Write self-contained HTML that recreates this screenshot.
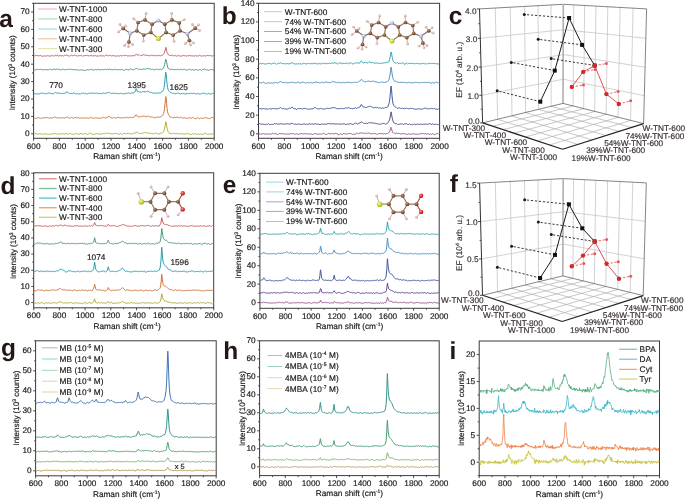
<!DOCTYPE html>
<html><head><meta charset="utf-8"><style>
html,body{margin:0;padding:0;background:#fff;}
svg{display:block;}
#w{will-change:transform;width:685px;height:499px;overflow:hidden;}
</style></head><body><div id="w">
<svg width="685" height="499" viewBox="0 0 685 499" font-family='"Liberation Sans", sans-serif' text-rendering="geometricPrecision">
<rect width="685" height="499" fill="#fff"/>
<defs>
<radialGradient id="gC" cx="0.38" cy="0.35" r="0.7"><stop offset="0" stop-color="#c29a7c"/><stop offset="0.55" stop-color="#83573a"/><stop offset="1" stop-color="#5a3620"/></radialGradient>
<radialGradient id="gH" cx="0.38" cy="0.35" r="0.7"><stop offset="0" stop-color="#f6e4e4"/><stop offset="0.6" stop-color="#d8acac"/><stop offset="1" stop-color="#b08080"/></radialGradient>
<radialGradient id="gN" cx="0.38" cy="0.35" r="0.7"><stop offset="0" stop-color="#eef0fa"/><stop offset="0.6" stop-color="#a8b4d8"/><stop offset="1" stop-color="#7080b0"/></radialGradient>
<radialGradient id="gS" cx="0.38" cy="0.35" r="0.7"><stop offset="0" stop-color="#f2f8a0"/><stop offset="0.6" stop-color="#c8d43a"/><stop offset="1" stop-color="#98a818"/></radialGradient>
<radialGradient id="gO" cx="0.38" cy="0.35" r="0.7"><stop offset="0" stop-color="#ff9a9a"/><stop offset="0.6" stop-color="#dc2424"/><stop offset="1" stop-color="#a01010"/></radialGradient>
<radialGradient id="gR" cx="0.38" cy="0.35" r="0.7"><stop offset="0" stop-color="#f08080"/><stop offset="0.6" stop-color="#d42828"/><stop offset="1" stop-color="#a01818"/></radialGradient>
</defs>
<rect x="33.6" y="3.3" width="180.6" height="135" fill="none" stroke="#3a3a3a" stroke-width="1"/>
<line x1="33.6" y1="138.3" x2="33.6" y2="140.8" stroke="#3a3a3a" stroke-width="0.9" />
<text x="33.6" y="148.9" font-size="8.25" text-anchor="middle" fill="#1e1a1a" font-weight="normal" stroke="#1e1a1a" stroke-width="0.18" >600</text>
<line x1="46.5" y1="138.3" x2="46.5" y2="139.8" stroke="#3a3a3a" stroke-width="0.9" />
<line x1="59.4" y1="138.3" x2="59.4" y2="140.8" stroke="#3a3a3a" stroke-width="0.9" />
<text x="59.4" y="148.9" font-size="8.25" text-anchor="middle" fill="#1e1a1a" font-weight="normal" stroke="#1e1a1a" stroke-width="0.18" >800</text>
<line x1="72.3" y1="138.3" x2="72.3" y2="139.8" stroke="#3a3a3a" stroke-width="0.9" />
<line x1="85.2" y1="138.3" x2="85.2" y2="140.8" stroke="#3a3a3a" stroke-width="0.9" />
<text x="85.2" y="148.9" font-size="8.25" text-anchor="middle" fill="#1e1a1a" font-weight="normal" stroke="#1e1a1a" stroke-width="0.18" >1000</text>
<line x1="98.1" y1="138.3" x2="98.1" y2="139.8" stroke="#3a3a3a" stroke-width="0.9" />
<line x1="111" y1="138.3" x2="111" y2="140.8" stroke="#3a3a3a" stroke-width="0.9" />
<text x="111" y="148.9" font-size="8.25" text-anchor="middle" fill="#1e1a1a" font-weight="normal" stroke="#1e1a1a" stroke-width="0.18" >1200</text>
<line x1="123.9" y1="138.3" x2="123.9" y2="139.8" stroke="#3a3a3a" stroke-width="0.9" />
<line x1="136.8" y1="138.3" x2="136.8" y2="140.8" stroke="#3a3a3a" stroke-width="0.9" />
<text x="136.8" y="148.9" font-size="8.25" text-anchor="middle" fill="#1e1a1a" font-weight="normal" stroke="#1e1a1a" stroke-width="0.18" >1400</text>
<line x1="149.7" y1="138.3" x2="149.7" y2="139.8" stroke="#3a3a3a" stroke-width="0.9" />
<line x1="162.6" y1="138.3" x2="162.6" y2="140.8" stroke="#3a3a3a" stroke-width="0.9" />
<text x="162.6" y="148.9" font-size="8.25" text-anchor="middle" fill="#1e1a1a" font-weight="normal" stroke="#1e1a1a" stroke-width="0.18" >1600</text>
<line x1="175.5" y1="138.3" x2="175.5" y2="139.8" stroke="#3a3a3a" stroke-width="0.9" />
<line x1="188.4" y1="138.3" x2="188.4" y2="140.8" stroke="#3a3a3a" stroke-width="0.9" />
<text x="188.4" y="148.9" font-size="8.25" text-anchor="middle" fill="#1e1a1a" font-weight="normal" stroke="#1e1a1a" stroke-width="0.18" >1800</text>
<line x1="201.3" y1="138.3" x2="201.3" y2="139.8" stroke="#3a3a3a" stroke-width="0.9" />
<line x1="214.2" y1="138.3" x2="214.2" y2="140.8" stroke="#3a3a3a" stroke-width="0.9" />
<text x="214.2" y="148.9" font-size="8.25" text-anchor="middle" fill="#1e1a1a" font-weight="normal" stroke="#1e1a1a" stroke-width="0.18" >2000</text>
<line x1="32.1" y1="125.1" x2="33.6" y2="125.1" stroke="#3a3a3a" stroke-width="0.9" />
<line x1="32.1" y1="107.7" x2="33.6" y2="107.7" stroke="#3a3a3a" stroke-width="0.9" />
<line x1="32.1" y1="90.3" x2="33.6" y2="90.3" stroke="#3a3a3a" stroke-width="0.9" />
<line x1="32.1" y1="72.9" x2="33.6" y2="72.9" stroke="#3a3a3a" stroke-width="0.9" />
<line x1="32.1" y1="55.5" x2="33.6" y2="55.5" stroke="#3a3a3a" stroke-width="0.9" />
<line x1="32.1" y1="38.1" x2="33.6" y2="38.1" stroke="#3a3a3a" stroke-width="0.9" />
<line x1="32.1" y1="20.7" x2="33.6" y2="20.7" stroke="#3a3a3a" stroke-width="0.9" />
<line x1="32.1" y1="3.3" x2="33.6" y2="3.3" stroke="#3a3a3a" stroke-width="0.9" />
<line x1="31.1" y1="133.8" x2="33.6" y2="133.8" stroke="#3a3a3a" stroke-width="0.9" />
<text x="29.6" y="136.2" font-size="8.25" text-anchor="end" fill="#1e1a1a" font-weight="normal" stroke="#1e1a1a" stroke-width="0.18" >0</text>
<line x1="31.1" y1="116.4" x2="33.6" y2="116.4" stroke="#3a3a3a" stroke-width="0.9" />
<text x="29.6" y="118.8" font-size="8.25" text-anchor="end" fill="#1e1a1a" font-weight="normal" stroke="#1e1a1a" stroke-width="0.18" >10</text>
<line x1="31.1" y1="99" x2="33.6" y2="99" stroke="#3a3a3a" stroke-width="0.9" />
<text x="29.6" y="101.4" font-size="8.25" text-anchor="end" fill="#1e1a1a" font-weight="normal" stroke="#1e1a1a" stroke-width="0.18" >20</text>
<line x1="31.1" y1="81.6" x2="33.6" y2="81.6" stroke="#3a3a3a" stroke-width="0.9" />
<text x="29.6" y="84" font-size="8.25" text-anchor="end" fill="#1e1a1a" font-weight="normal" stroke="#1e1a1a" stroke-width="0.18" >30</text>
<line x1="31.1" y1="64.2" x2="33.6" y2="64.2" stroke="#3a3a3a" stroke-width="0.9" />
<text x="29.6" y="66.6" font-size="8.25" text-anchor="end" fill="#1e1a1a" font-weight="normal" stroke="#1e1a1a" stroke-width="0.18" >40</text>
<line x1="31.1" y1="46.8" x2="33.6" y2="46.8" stroke="#3a3a3a" stroke-width="0.9" />
<text x="29.6" y="49.2" font-size="8.25" text-anchor="end" fill="#1e1a1a" font-weight="normal" stroke="#1e1a1a" stroke-width="0.18" >50</text>
<line x1="31.1" y1="29.4" x2="33.6" y2="29.4" stroke="#3a3a3a" stroke-width="0.9" />
<text x="29.6" y="31.8" font-size="8.25" text-anchor="end" fill="#1e1a1a" font-weight="normal" stroke="#1e1a1a" stroke-width="0.18" >60</text>
<line x1="31.1" y1="12" x2="33.6" y2="12" stroke="#3a3a3a" stroke-width="0.9" />
<text x="29.6" y="14.4" font-size="8.25" text-anchor="end" fill="#1e1a1a" font-weight="normal" stroke="#1e1a1a" stroke-width="0.18" >70</text>
<text x="126.8" y="159.1" font-size="8.25" text-anchor="middle" fill="#1e1a1a" stroke="#1e1a1a" stroke-width="0.18">Raman shift (cm<tspan font-size="5" dy="-3">-1</tspan><tspan dy="3">)</tspan></text>
<text transform="translate(15,72.8) rotate(-90)" x="0" y="0" font-size="8" text-anchor="middle" fill="#1e1a1a" stroke="#1e1a1a" stroke-width="0.18">Intensity (10<tspan font-size="5" dy="-3">3</tspan><tspan dy="3"> counts)</tspan></text>
<path d="M33.6,56.4 L34.1,56.3 L34.6,55.9 L35.1,55.5 L35.6,55.4 L36.1,55.5 L36.6,55.4 L37.1,55.4 L37.6,55.7 L38.1,55.9 L38.6,55.8 L39.1,55.6 L39.6,55.7 L40.1,55.6 L40.6,55.5 L41.1,55.8 L41.6,56.2 L42.1,56.4 L42.6,56.1 L43.1,55.9 L43.6,56.1 L44.1,56.1 L44.6,56.0 L45.1,55.8 L45.6,55.9 L46.1,56.1 L46.6,56.1 L47.1,55.8 L47.6,55.6 L48.1,55.8 L48.6,55.9 L49.1,56.0 L49.6,56.1 L50.1,56.1 L50.6,55.9 L51.1,55.9 L51.6,55.8 L52.1,55.5 L52.6,55.5 L53.1,55.8 L53.6,56.1 L54.1,56.0 L54.6,55.8 L55.1,55.7 L55.5,55.3 L55.6,55.1 L56.1,55.5 L56.6,55.7 L57.1,55.6 L57.6,55.4 L58.1,55.6 L58.6,56.2 L59.1,56.1 L59.6,55.5 L60.1,55.3 L60.6,55.7 L61.1,56.0 L61.6,55.9 L62.1,55.7 L62.6,55.6 L63.1,55.9 L63.6,56.0 L64.1,55.6 L64.6,55.2 L65.1,55.4 L65.6,55.5 L66.1,55.2 L66.6,55.1 L67.1,55.1 L67.1,55.2 L67.6,55.3 L68.1,55.7 L68.6,56.0 L69.1,56.1 L69.6,56.0 L70.1,55.8 L70.6,55.6 L71.1,55.4 L71.6,55.1 L72.1,55.4 L72.6,55.7 L73.1,55.5 L73.6,55.7 L74.1,55.4 L74.6,55.1 L75.1,55.3 L75.6,55.5 L76.1,55.5 L76.6,55.8 L77.1,56.1 L77.6,56.0 L78.1,55.8 L78.6,55.7 L79.1,55.5 L79.6,55.7 L80.1,55.7 L80.6,55.6 L81.1,55.4 L81.6,55.4 L82.1,55.8 L82.6,56.3 L83.1,56.1 L83.6,55.7 L84.1,55.5 L84.6,55.5 L85.1,55.6 L85.6,55.7 L86.1,55.7 L86.6,55.5 L87.1,55.4 L87.6,55.4 L88.1,55.5 L88.6,55.8 L89.1,55.8 L89.6,55.9 L90.1,56.0 L90.4,55.8 L90.6,55.4 L91.1,55.3 L91.6,55.3 L92.1,55.7 L92.6,56.1 L93.1,55.9 L93.6,55.6 L94.1,55.7 L94.6,55.8 L95.1,55.7 L95.6,55.7 L96.1,56.0 L96.6,56.1 L97.1,55.8 L97.6,55.9 L98.1,56.1 L98.6,56.1 L99.1,56.0 L99.6,55.9 L100.1,55.6 L100.6,55.4 L101.1,55.6 L101.6,56.0 L102.1,56.1 L102.6,55.8 L103.1,55.6 L103.6,55.9 L104.1,56.3 L104.6,56.1 L105.1,55.6 L105.6,55.3 L106.1,55.0 L106.6,55.1 L107.1,55.3 L107.6,55.5 L108.1,55.7 L108.4,55.9 L108.6,55.8 L109.1,55.7 L109.6,55.3 L110.1,55.2 L110.6,55.8 L111.1,56.3 L111.6,55.9 L112.1,55.4 L112.6,55.7 L113.1,55.9 L113.6,55.7 L114.1,55.7 L114.6,55.8 L115.1,56.0 L115.6,56.1 L116.1,56.1 L116.6,56.2 L117.1,55.8 L117.6,55.7 L118.1,56.0 L118.6,56.0 L119.1,56.1 L119.6,55.9 L120.1,55.5 L120.6,55.6 L121.1,55.8 L121.6,55.8 L122.1,55.8 L122.6,55.7 L123.1,55.2 L123.6,55.3 L124.1,55.8 L124.6,55.9 L125.1,55.4 L125.6,55.3 L126.1,55.3 L126.6,55.5 L127.1,55.8 L127.6,56.0 L128.1,56.0 L128.6,55.7 L129.1,55.8 L129.6,56.1 L130.1,56.0 L130.6,55.8 L131.1,55.7 L131.6,55.7 L132.1,55.9 L132.6,55.8 L133.1,55.5 L133.6,55.6 L134.1,55.8 L134.6,55.7 L135.1,55.1 L135.6,54.7 L136.1,54.5 L136.2,54.2 L136.6,54.2 L137.1,54.8 L137.6,55.2 L138.1,55.3 L138.6,54.8 L139.1,54.5 L139.6,55.0 L140.1,55.5 L140.6,55.7 L141.1,55.6 L141.6,55.4 L142.1,55.3 L142.6,55.1 L143.1,54.9 L143.6,54.8 L144.1,54.9 L144.5,54.9 L144.6,54.9 L145.1,55.3 L145.6,55.3 L146.1,55.2 L146.6,55.4 L147.1,55.4 L147.6,55.4 L148.1,55.6 L148.6,55.5 L149.1,55.6 L149.6,55.9 L150.1,55.9 L150.6,55.4 L151.1,55.0 L151.6,55.2 L152.1,55.7 L152.6,55.6 L153.1,55.2 L153.6,55.2 L154.1,55.5 L154.6,55.7 L155.1,55.8 L155.6,55.7 L156.1,55.6 L156.6,55.6 L157.1,55.5 L157.6,55.6 L158.1,55.9 L158.6,55.7 L159.1,55.4 L159.6,55.3 L160.1,55.5 L160.6,55.8 L161.1,55.9 L161.6,55.5 L162.1,55.3 L162.6,55.1 L163.1,54.7 L163.6,54.2 L164.1,53.4 L164.6,52.2 L165.1,50.4 L165.6,48.3 L165.8,47.5 L166.1,47.6 L166.6,50.4 L167.1,52.5 L167.6,53.4 L168.1,54.2 L168.6,55.0 L169.1,55.4 L169.6,55.5 L170.1,55.4 L170.6,55.5 L171.1,55.6 L171.6,55.4 L172.1,55.2 L172.6,55.3 L173.1,55.5 L173.6,55.9 L174.1,56.0 L174.6,55.6 L175.1,55.6 L175.6,55.7 L176.1,55.9 L176.6,56.2 L177.1,56.1 L177.6,55.7 L178.1,55.4 L178.6,55.3 L179.1,55.7 L179.6,56.0 L180.1,55.9 L180.6,56.0 L181.1,56.0 L181.6,56.1 L182.1,56.0 L182.6,55.7 L183.1,55.4 L183.6,55.5 L184.1,55.8 L184.6,55.7 L185.1,55.7 L185.6,55.8 L186.1,55.9 L186.6,56.2 L187.1,56.1 L187.6,55.6 L188.1,55.7 L188.6,55.8 L189.1,55.5 L189.6,55.5 L190.1,55.7 L190.6,55.8 L191.1,55.8 L191.6,55.8 L192.1,55.7 L192.6,55.9 L193.1,56.1 L193.6,56.0 L194.1,56.0 L194.6,55.9 L195.1,55.5 L195.6,55.6 L196.1,56.1 L196.6,56.1 L197.1,55.9 L197.6,55.8 L198.1,55.9 L198.6,55.9 L199.1,55.5 L199.6,55.2 L200.1,55.4 L200.6,55.8 L201.1,56.0 L201.6,56.2 L202.1,56.0 L202.6,55.8 L203.1,55.8 L203.6,55.8 L204.1,55.8 L204.6,55.7 L205.1,55.8 L205.6,56.2 L206.1,56.0 L206.6,55.5 L207.1,55.6 L207.6,55.5 L208.1,55.5 L208.6,55.6 L209.1,55.6 L209.6,55.7 L210.1,55.6 L210.6,55.4 L211.1,55.7 L211.6,56.1 L212.1,56.2 L212.6,55.8 L213.1,55.4 L213.6,55.6 L214.1,56.0" fill="none" stroke="#c55d60" stroke-width="1.0" stroke-linejoin="round"/>
<path d="M33.6,70.6 L34.1,70.0 L34.6,69.8 L35.1,70.0 L35.6,69.8 L36.1,69.5 L36.6,69.4 L37.1,69.4 L37.6,69.3 L38.1,69.4 L38.6,69.5 L39.1,69.6 L39.6,69.6 L40.1,69.7 L40.6,69.3 L41.1,69.1 L41.6,69.6 L42.1,69.8 L42.6,69.6 L43.1,69.8 L43.6,69.9 L44.1,69.7 L44.6,69.6 L45.1,69.5 L45.6,69.6 L46.1,69.8 L46.6,69.6 L47.1,69.6 L47.6,69.8 L48.1,69.8 L48.6,69.8 L49.1,69.4 L49.6,68.9 L50.1,69.2 L50.6,69.6 L51.1,69.8 L51.6,69.9 L52.1,69.6 L52.6,69.3 L53.1,69.2 L53.6,69.3 L54.1,69.0 L54.6,69.2 L55.1,69.8 L55.5,69.7 L55.6,69.4 L56.1,69.3 L56.6,69.1 L57.1,69.2 L57.6,69.4 L58.1,69.2 L58.6,69.3 L59.1,69.3 L59.6,69.4 L60.1,69.6 L60.6,70.1 L61.1,70.1 L61.6,69.5 L62.1,69.1 L62.6,69.3 L63.1,69.4 L63.6,69.4 L64.1,69.7 L64.6,69.9 L65.1,69.6 L65.6,69.5 L66.1,69.5 L66.6,69.4 L67.1,69.3 L67.1,69.4 L67.6,69.6 L68.1,69.4 L68.6,69.2 L69.1,69.4 L69.6,69.4 L70.1,69.3 L70.6,69.6 L71.1,69.6 L71.6,69.2 L72.1,69.4 L72.6,69.6 L73.1,69.7 L73.6,69.7 L74.1,69.6 L74.6,69.7 L75.1,69.7 L75.6,69.7 L76.1,69.6 L76.6,69.5 L77.1,69.6 L77.6,70.0 L78.1,70.4 L78.6,70.3 L79.1,70.1 L79.6,69.9 L80.1,69.7 L80.6,70.1 L81.1,70.1 L81.6,69.8 L82.1,69.9 L82.6,70.1 L83.1,70.0 L83.6,70.1 L84.1,70.4 L84.6,70.6 L85.1,70.5 L85.6,70.3 L86.1,70.1 L86.6,70.0 L87.1,69.9 L87.6,69.7 L88.1,69.7 L88.6,69.9 L89.1,70.0 L89.6,69.7 L90.1,69.6 L90.4,69.6 L90.6,69.6 L91.1,69.8 L91.6,69.6 L92.1,69.3 L92.6,69.4 L93.1,69.8 L93.6,70.1 L94.1,70.1 L94.6,69.9 L95.1,69.6 L95.6,69.5 L96.1,69.8 L96.6,69.8 L97.1,69.7 L97.6,69.5 L98.1,69.4 L98.6,69.6 L99.1,69.6 L99.6,69.6 L100.1,69.9 L100.6,70.0 L101.1,69.8 L101.6,69.6 L102.1,69.4 L102.6,69.4 L103.1,69.5 L103.6,69.7 L104.1,69.8 L104.6,69.5 L105.1,69.3 L105.6,69.4 L106.1,69.7 L106.6,69.6 L107.1,69.4 L107.6,69.4 L108.1,69.4 L108.4,69.5 L108.6,69.6 L109.1,69.3 L109.6,68.7 L110.1,69.4 L110.6,70.0 L111.1,69.6 L111.6,69.6 L112.1,69.9 L112.6,69.9 L113.1,69.8 L113.6,69.4 L114.1,69.2 L114.6,69.4 L115.1,69.4 L115.6,69.4 L116.1,69.7 L116.6,69.8 L117.1,69.7 L117.6,69.6 L118.1,69.7 L118.6,69.6 L119.1,69.6 L119.6,69.8 L120.1,69.9 L120.6,69.9 L121.1,69.8 L121.6,69.5 L122.1,69.5 L122.6,69.7 L123.1,70.0 L123.6,70.2 L124.1,70.5 L124.6,70.3 L125.1,69.7 L125.6,69.4 L126.1,69.6 L126.6,69.7 L127.1,69.5 L127.6,69.5 L128.1,69.7 L128.6,69.8 L129.1,69.8 L129.6,69.6 L130.1,69.2 L130.6,68.9 L131.1,69.2 L131.6,69.3 L132.1,69.4 L132.6,69.6 L133.1,69.7 L133.6,69.7 L134.1,69.6 L134.6,69.3 L135.1,69.1 L135.6,68.6 L136.1,68.1 L136.2,68.3 L136.6,68.4 L137.1,68.5 L137.6,69.0 L138.1,69.4 L138.6,69.6 L139.1,69.5 L139.6,69.1 L140.1,69.0 L140.6,69.5 L141.1,69.7 L141.6,69.5 L142.1,69.3 L142.6,69.2 L143.1,68.9 L143.6,69.0 L144.1,68.9 L144.5,68.7 L144.6,68.9 L145.1,69.2 L145.6,69.5 L146.1,69.2 L146.6,68.5 L147.1,68.4 L147.6,68.8 L148.1,68.9 L148.6,68.7 L149.1,68.7 L149.6,68.9 L150.1,68.9 L150.6,69.1 L151.1,69.5 L151.6,69.5 L152.1,69.1 L152.6,69.0 L153.1,69.5 L153.6,69.8 L154.1,69.8 L154.6,69.7 L155.1,69.5 L155.6,69.4 L156.1,69.5 L156.6,69.4 L157.1,69.2 L157.6,69.2 L158.1,69.6 L158.6,69.7 L159.1,69.4 L159.6,69.3 L160.1,69.0 L160.6,69.0 L161.1,69.6 L161.6,69.6 L162.1,69.2 L162.6,68.8 L163.1,68.6 L163.6,68.0 L164.1,66.5 L164.6,64.7 L165.1,62.3 L165.6,59.7 L165.8,59.3 L166.1,59.6 L166.6,62.2 L167.1,64.9 L167.6,66.9 L168.1,68.2 L168.6,68.8 L169.1,69.1 L169.6,69.1 L170.1,69.4 L170.6,69.5 L171.1,69.3 L171.6,69.3 L172.1,69.5 L172.6,69.4 L173.1,69.3 L173.6,69.5 L174.1,69.9 L174.6,69.7 L175.1,69.5 L175.6,69.5 L176.1,69.6 L176.6,69.5 L177.1,69.1 L177.6,69.3 L178.1,69.8 L178.6,69.9 L179.1,69.6 L179.6,69.5 L180.1,69.3 L180.6,69.1 L181.1,69.2 L181.6,69.5 L182.1,69.8 L182.6,69.8 L183.1,69.5 L183.6,69.4 L184.1,69.4 L184.6,69.3 L185.1,69.7 L185.6,70.0 L186.1,69.7 L186.6,70.0 L187.1,70.2 L187.6,70.0 L188.1,70.0 L188.6,69.9 L189.1,69.4 L189.6,69.1 L190.1,69.1 L190.6,69.6 L191.1,70.2 L191.6,70.1 L192.1,69.6 L192.6,69.6 L193.1,69.9 L193.6,69.9 L194.1,70.1 L194.6,70.2 L195.1,69.8 L195.6,69.6 L196.1,69.5 L196.6,69.5 L197.1,70.0 L197.6,70.4 L198.1,70.3 L198.6,70.1 L199.1,69.8 L199.6,69.6 L200.1,69.5 L200.6,69.6 L201.1,70.2 L201.6,70.5 L202.1,70.1 L202.6,69.6 L203.1,69.4 L203.6,69.5 L204.1,69.4 L204.6,69.2 L205.1,69.3 L205.6,69.6 L206.1,69.8 L206.6,69.9 L207.1,69.8 L207.6,69.9 L208.1,70.2 L208.6,70.2 L209.1,70.2 L209.6,70.3 L210.1,69.9 L210.6,69.5 L211.1,69.3 L211.6,69.4 L212.1,69.6 L212.6,69.8 L213.1,70.0 L213.6,70.0 L214.1,69.6" fill="none" stroke="#489a77" stroke-width="1.0" stroke-linejoin="round"/>
<path d="M33.6,93.9 L34.1,93.9 L34.6,93.7 L35.1,93.8 L35.6,93.7 L36.1,93.8 L36.6,94.1 L37.1,93.9 L37.6,93.8 L38.1,94.0 L38.6,94.0 L39.1,93.9 L39.6,93.7 L40.1,93.5 L40.6,93.4 L41.1,93.4 L41.6,93.1 L42.1,93.0 L42.6,93.1 L43.1,93.4 L43.6,93.6 L44.1,93.6 L44.6,93.5 L45.1,93.4 L45.6,93.5 L46.1,93.8 L46.6,93.8 L47.1,93.5 L47.6,93.2 L48.1,93.1 L48.6,93.0 L49.1,92.9 L49.6,93.2 L50.1,93.5 L50.6,93.3 L51.1,93.6 L51.6,93.8 L52.1,93.6 L52.6,93.7 L53.1,93.8 L53.6,93.8 L54.1,93.4 L54.6,92.9 L55.1,92.6 L55.5,92.5 L55.6,92.6 L56.1,92.9 L56.6,93.2 L57.1,92.9 L57.6,92.9 L58.1,92.9 L58.6,93.2 L59.1,93.5 L59.6,93.2 L60.1,93.2 L60.6,93.6 L61.1,93.7 L61.6,93.4 L62.1,93.5 L62.6,93.5 L63.1,93.3 L63.6,93.4 L64.1,93.4 L64.6,93.2 L65.1,93.1 L65.6,93.3 L66.1,92.8 L66.6,91.9 L67.1,91.7 L67.1,91.9 L67.6,92.0 L68.1,92.5 L68.6,93.1 L69.1,93.6 L69.6,93.6 L70.1,93.4 L70.6,93.4 L71.1,93.4 L71.6,93.4 L72.1,93.6 L72.6,93.8 L73.1,93.0 L73.6,92.5 L74.1,93.1 L74.6,93.6 L75.1,93.7 L75.6,93.6 L76.1,93.6 L76.6,93.8 L77.1,93.9 L77.6,93.6 L78.1,93.7 L78.6,94.1 L79.1,93.9 L79.6,93.8 L80.1,94.2 L80.6,94.0 L81.1,93.5 L81.6,93.3 L82.1,93.5 L82.6,93.3 L83.1,93.1 L83.6,93.1 L84.1,93.5 L84.6,93.8 L85.1,93.5 L85.6,93.3 L86.1,93.6 L86.6,93.8 L87.1,93.9 L87.6,93.9 L88.1,93.6 L88.6,93.4 L89.1,93.2 L89.6,93.0 L90.1,93.2 L90.4,93.4 L90.6,93.2 L91.1,93.1 L91.6,93.1 L92.1,93.1 L92.6,93.1 L93.1,93.2 L93.6,93.2 L94.1,93.2 L94.6,93.2 L95.1,93.5 L95.6,93.5 L96.1,93.0 L96.6,92.9 L97.1,93.4 L97.6,93.8 L98.1,93.5 L98.6,93.3 L99.1,93.5 L99.6,93.5 L100.1,93.5 L100.6,93.6 L101.1,93.7 L101.6,93.7 L102.1,93.6 L102.6,93.2 L103.1,93.0 L103.6,93.0 L104.1,93.3 L104.6,93.5 L105.1,93.3 L105.6,93.1 L106.1,93.2 L106.6,93.2 L107.1,92.8 L107.6,92.5 L108.1,92.5 L108.4,92.8 L108.6,92.7 L109.1,92.5 L109.6,92.7 L110.1,92.7 L110.6,92.9 L111.1,93.4 L111.6,93.5 L112.1,93.2 L112.6,93.3 L113.1,93.4 L113.6,93.3 L114.1,93.4 L114.6,93.4 L115.1,93.2 L115.6,93.4 L116.1,93.8 L116.6,93.6 L117.1,93.3 L117.6,93.3 L118.1,93.4 L118.6,93.6 L119.1,93.8 L119.6,93.6 L120.1,93.3 L120.6,93.4 L121.1,93.5 L121.6,93.5 L122.1,93.6 L122.6,93.7 L123.1,93.8 L123.6,94.0 L124.1,94.1 L124.6,93.8 L125.1,93.0 L125.6,92.8 L126.1,93.5 L126.6,93.7 L127.1,93.4 L127.6,93.1 L128.1,92.9 L128.6,92.9 L129.1,93.0 L129.6,93.3 L130.1,93.5 L130.6,93.4 L131.1,93.2 L131.6,93.0 L132.1,92.9 L132.6,93.0 L133.1,93.0 L133.6,92.9 L134.1,92.6 L134.6,92.3 L135.1,91.4 L135.6,90.1 L136.1,88.6 L136.2,88.7 L136.6,89.8 L137.1,91.1 L137.6,91.8 L138.1,91.8 L138.6,91.6 L139.1,91.8 L139.6,92.2 L140.1,92.2 L140.6,92.0 L141.1,92.3 L141.6,92.3 L142.1,91.8 L142.6,91.7 L143.1,91.8 L143.6,91.6 L144.1,91.3 L144.5,91.4 L144.6,92.0 L145.1,92.3 L145.6,92.1 L146.1,91.6 L146.6,91.5 L147.1,91.4 L147.6,91.1 L148.1,91.2 L148.4,91.7 L148.6,91.9 L149.1,92.0 L149.6,92.2 L150.1,92.1 L150.6,92.3 L151.1,92.5 L151.6,92.6 L152.1,92.8 L152.6,92.9 L153.1,92.9 L153.6,93.2 L154.1,93.4 L154.6,93.2 L155.1,93.3 L155.6,93.2 L156.1,93.1 L156.6,93.1 L157.1,93.0 L157.6,93.1 L158.1,92.8 L158.6,92.7 L159.1,93.0 L159.6,93.1 L160.1,93.1 L160.6,92.9 L161.1,92.3 L161.6,92.0 L162.1,91.9 L162.6,91.3 L163.1,90.5 L163.6,89.6 L164.1,87.5 L164.6,84.0 L165.1,78.7 L165.6,73.0 L165.8,72.2 L166.1,73.6 L166.6,79.2 L167.1,84.3 L167.6,87.5 L168.1,89.5 L168.6,90.7 L169.1,91.2 L169.6,91.6 L170.1,92.2 L170.6,92.8 L171.1,92.7 L171.6,92.6 L172.1,93.1 L172.6,93.4 L173.1,93.3 L173.6,93.4 L174.1,93.2 L174.6,93.3 L175.1,93.8 L175.6,94.0 L176.1,93.7 L176.6,93.1 L177.1,92.9 L177.6,93.2 L178.1,93.2 L178.6,93.1 L179.1,93.3 L179.6,93.7 L180.1,93.9 L180.6,93.8 L181.1,93.6 L181.6,93.5 L182.1,93.5 L182.6,93.6 L183.1,93.7 L183.6,93.7 L184.1,93.8 L184.6,94.0 L185.1,94.1 L185.6,94.1 L186.1,94.0 L186.6,93.3 L187.1,93.2 L187.6,93.7 L188.1,93.7 L188.6,93.6 L189.1,93.6 L189.6,93.5 L190.1,93.3 L190.6,93.4 L191.1,93.5 L191.6,93.3 L192.1,93.2 L192.6,93.6 L193.1,93.6 L193.6,93.2 L194.1,93.3 L194.6,93.6 L195.1,93.8 L195.6,93.9 L196.1,94.0 L196.6,93.7 L197.1,93.3 L197.6,93.5 L198.1,93.7 L198.6,93.7 L199.1,93.9 L199.6,94.1 L200.1,94.0 L200.6,94.0 L201.1,93.7 L201.6,93.6 L202.1,93.4 L202.6,93.3 L203.1,93.1 L203.6,93.2 L204.1,93.2 L204.6,93.2 L205.1,93.6 L205.6,93.8 L206.1,93.8 L206.6,94.1 L207.1,94.2 L207.6,94.0 L208.1,93.5 L208.6,93.3 L209.1,93.7 L209.6,93.9 L210.1,93.9 L210.6,94.0 L211.1,94.0 L211.6,93.8 L212.1,93.7 L212.6,93.3 L213.1,93.0 L213.6,93.5 L214.1,94.2" fill="none" stroke="#2a9eb0" stroke-width="1.0" stroke-linejoin="round"/>
<path d="M33.6,118.1 L34.1,118.0 L34.6,118.0 L35.1,118.1 L35.6,118.3 L36.1,118.4 L36.6,118.3 L37.1,118.0 L37.6,117.8 L38.1,117.7 L38.6,117.7 L39.1,117.9 L39.6,118.1 L40.1,118.2 L40.6,118.4 L41.1,118.7 L41.6,118.3 L42.1,117.7 L42.6,117.8 L43.1,117.8 L43.6,117.9 L44.1,118.2 L44.6,117.8 L45.1,117.5 L45.6,117.8 L46.1,117.8 L46.6,117.5 L47.1,117.5 L47.6,117.7 L48.1,117.8 L48.6,117.9 L49.1,118.1 L49.6,118.3 L50.1,117.9 L50.6,117.6 L51.1,117.9 L51.6,118.1 L52.1,118.0 L52.6,118.0 L53.1,117.6 L53.6,117.4 L54.1,117.4 L54.6,117.2 L55.1,117.0 L55.5,117.2 L55.6,117.3 L56.1,117.4 L56.6,117.7 L57.1,118.0 L57.6,118.0 L58.1,118.0 L58.6,118.0 L59.1,117.8 L59.6,117.9 L60.1,118.1 L60.6,117.9 L61.1,117.8 L61.6,117.9 L62.1,117.7 L62.6,117.6 L63.1,117.7 L63.6,118.0 L64.1,118.0 L64.6,118.0 L65.1,117.9 L65.6,117.6 L66.1,117.5 L66.6,117.2 L67.1,116.8 L67.1,116.6 L67.6,117.0 L68.1,117.5 L68.6,117.8 L69.1,118.1 L69.6,118.3 L70.1,118.3 L70.6,118.2 L71.1,117.7 L71.6,117.3 L72.1,117.4 L72.6,117.8 L73.1,118.2 L73.6,118.3 L74.1,117.8 L74.6,117.6 L75.1,117.8 L75.6,117.6 L76.1,117.5 L76.6,117.8 L77.1,118.0 L77.6,117.9 L78.1,117.7 L78.6,117.7 L79.1,118.1 L79.6,118.2 L80.1,118.0 L80.6,118.1 L81.1,118.1 L81.6,117.9 L82.1,117.7 L82.6,117.9 L83.1,118.2 L83.6,118.2 L84.1,118.0 L84.6,118.0 L85.1,118.1 L85.6,118.1 L86.1,118.0 L86.6,117.8 L87.1,117.8 L87.6,118.1 L88.1,118.0 L88.6,118.2 L89.1,118.6 L89.6,118.2 L90.1,117.6 L90.4,117.3 L90.6,117.2 L91.1,117.6 L91.6,117.7 L92.1,117.8 L92.6,118.2 L93.1,118.2 L93.6,118.0 L94.1,118.1 L94.6,118.4 L95.1,118.1 L95.6,117.8 L96.1,118.0 L96.6,118.0 L97.1,118.0 L97.6,118.1 L98.1,118.3 L98.6,118.4 L99.1,118.2 L99.6,118.1 L100.1,118.1 L100.6,118.0 L101.1,118.0 L101.6,118.1 L102.1,118.0 L102.6,117.8 L103.1,117.5 L103.6,117.3 L104.1,117.4 L104.6,117.6 L105.1,117.9 L105.6,118.2 L106.1,117.9 L106.6,117.0 L107.1,116.9 L107.6,117.2 L108.1,116.9 L108.4,116.6 L108.6,116.7 L109.1,116.6 L109.6,116.5 L110.1,116.7 L110.6,117.3 L111.1,118.0 L111.6,117.8 L112.1,117.9 L112.6,118.2 L113.1,117.8 L113.6,117.6 L114.1,117.7 L114.6,117.8 L115.1,117.9 L115.6,118.1 L116.1,118.0 L116.6,117.9 L117.1,117.8 L117.6,117.5 L118.1,117.5 L118.6,117.4 L119.1,117.3 L119.6,117.6 L120.1,117.9 L120.6,117.9 L121.1,117.9 L121.6,117.9 L122.1,117.9 L122.6,117.7 L123.1,117.6 L123.6,117.7 L124.1,117.8 L124.6,117.7 L125.1,117.7 L125.6,117.5 L126.1,117.7 L126.6,117.9 L127.1,117.5 L127.6,117.3 L128.1,117.7 L128.6,117.8 L129.1,117.6 L129.6,117.3 L130.1,117.5 L130.6,117.6 L131.1,117.5 L131.6,117.6 L132.1,117.7 L132.6,117.3 L133.1,117.2 L133.6,117.5 L134.1,117.2 L134.6,116.6 L135.1,115.9 L135.6,115.0 L136.1,114.6 L136.2,114.7 L136.6,114.9 L137.1,115.8 L137.6,116.5 L138.1,116.7 L138.6,116.8 L139.1,117.0 L139.6,117.1 L140.1,116.9 L140.6,116.3 L141.1,116.1 L141.6,116.4 L142.1,116.4 L142.6,116.3 L143.1,116.2 L143.6,116.0 L144.1,116.1 L144.5,116.3 L144.6,116.1 L145.1,116.3 L145.6,116.7 L146.1,116.8 L146.6,116.7 L147.1,116.5 L147.6,116.4 L148.1,116.3 L148.6,116.1 L149.1,116.4 L149.6,116.8 L150.1,116.9 L150.6,117.0 L151.1,117.1 L151.6,116.9 L152.1,117.0 L152.6,117.2 L153.1,117.2 L153.6,117.6 L154.1,117.7 L154.6,117.5 L155.1,117.7 L155.6,117.8 L156.1,117.4 L156.6,117.1 L157.1,116.9 L157.6,117.2 L158.1,117.4 L158.6,117.0 L159.1,117.0 L159.6,117.2 L160.1,117.4 L160.6,117.0 L161.1,116.4 L161.6,116.2 L162.1,116.1 L162.6,115.6 L163.1,114.6 L163.6,113.4 L164.1,111.6 L164.6,108.5 L165.1,103.2 L165.6,97.4 L165.8,96.5 L166.1,97.8 L166.6,103.5 L167.1,108.5 L167.6,111.8 L168.1,113.7 L168.6,114.7 L169.1,115.4 L169.6,116.4 L170.1,117.1 L170.6,117.2 L171.1,117.2 L171.6,117.3 L172.1,117.4 L172.6,117.6 L173.1,117.8 L173.6,117.7 L174.1,117.4 L174.6,117.3 L175.1,117.5 L175.6,117.6 L176.1,117.4 L176.6,117.2 L177.1,117.0 L177.6,117.3 L178.1,117.4 L178.6,117.3 L179.1,117.9 L179.6,118.1 L180.1,117.6 L180.6,117.2 L181.1,117.2 L181.6,117.3 L182.1,117.8 L182.6,118.2 L183.1,118.0 L183.6,118.1 L184.1,118.2 L184.6,117.8 L185.1,117.8 L185.6,117.9 L186.1,118.0 L186.6,118.4 L187.1,118.6 L187.6,118.1 L188.1,117.8 L188.6,118.0 L189.1,118.0 L189.6,117.8 L190.1,117.8 L190.6,118.0 L191.1,118.2 L191.6,118.2 L192.1,117.8 L192.6,117.4 L193.1,117.6 L193.6,118.1 L194.1,118.0 L194.6,118.1 L195.1,118.6 L195.6,118.8 L196.1,118.6 L196.6,118.1 L197.1,117.7 L197.6,117.8 L198.1,118.1 L198.6,118.2 L199.1,118.4 L199.6,118.7 L200.1,118.4 L200.6,117.9 L201.1,118.0 L201.6,118.1 L202.1,118.1 L202.6,118.5 L203.1,118.6 L203.6,118.4 L204.1,117.9 L204.6,117.7 L205.1,118.0 L205.6,117.9 L206.1,117.8 L206.6,117.9 L207.1,118.0 L207.6,118.0 L208.1,118.0 L208.6,118.4 L209.1,118.9 L209.6,118.5 L210.1,118.2 L210.6,118.3 L211.1,117.9 L211.6,117.4 L212.1,117.2 L212.6,117.5 L213.1,117.9 L213.6,117.7 L214.1,117.3" fill="none" stroke="#d3743b" stroke-width="1.0" stroke-linejoin="round"/>
<path d="M33.6,133.4 L34.1,133.7 L34.6,133.7 L35.1,133.5 L35.6,133.4 L36.1,133.6 L36.6,134.0 L37.1,134.3 L37.6,134.3 L38.1,134.1 L38.6,134.0 L39.1,133.9 L39.6,133.8 L40.1,133.8 L40.6,133.7 L41.1,133.8 L41.6,134.1 L42.1,134.0 L42.6,134.2 L43.1,134.5 L43.6,134.2 L44.1,133.9 L44.6,133.9 L45.1,133.8 L45.6,133.8 L46.1,134.1 L46.6,134.4 L47.1,134.3 L47.6,134.1 L48.1,134.4 L48.6,134.5 L49.1,134.1 L49.6,134.1 L50.1,134.3 L50.6,133.9 L51.1,133.8 L51.6,134.3 L52.1,134.5 L52.6,133.7 L53.1,133.3 L53.6,133.7 L54.1,133.7 L54.6,133.6 L55.1,133.6 L55.5,133.6 L55.6,133.5 L56.1,133.7 L56.6,134.2 L57.1,134.3 L57.6,134.0 L58.1,133.9 L58.6,134.1 L59.1,134.0 L59.6,133.7 L60.1,133.8 L60.6,134.1 L61.1,134.0 L61.6,133.9 L62.1,133.9 L62.6,133.9 L63.1,133.7 L63.6,133.7 L64.1,134.1 L64.6,134.0 L65.1,133.7 L65.6,133.9 L66.1,133.8 L66.6,133.6 L67.1,133.9 L67.1,134.1 L67.6,134.0 L68.1,134.3 L68.6,134.3 L69.1,133.7 L69.6,133.7 L70.1,133.8 L70.6,133.6 L71.1,133.8 L71.6,134.3 L72.1,134.4 L72.6,134.0 L73.1,133.9 L73.6,134.4 L74.1,134.5 L74.6,134.3 L75.1,134.0 L75.6,133.4 L76.1,133.3 L76.6,133.7 L77.1,134.2 L77.6,134.0 L78.1,133.8 L78.6,133.9 L79.1,134.1 L79.6,134.2 L80.1,133.9 L80.6,133.3 L81.1,133.1 L81.6,133.7 L82.1,134.2 L82.6,134.3 L83.1,134.0 L83.6,133.9 L84.1,133.8 L84.6,133.5 L85.1,133.4 L85.6,133.6 L86.1,134.1 L86.6,134.6 L87.1,134.5 L87.6,134.3 L88.1,134.1 L88.6,133.9 L89.1,133.7 L89.6,133.3 L90.1,132.8 L90.4,132.9 L90.6,133.2 L91.1,133.8 L91.6,134.2 L92.1,134.4 L92.6,134.3 L93.1,134.1 L93.6,134.4 L94.1,134.5 L94.6,134.3 L95.1,134.2 L95.6,133.8 L96.1,133.5 L96.6,133.7 L97.1,133.8 L97.6,133.8 L98.1,133.9 L98.6,133.7 L99.1,133.7 L99.6,134.3 L100.1,134.4 L100.6,133.9 L101.1,133.6 L101.6,133.9 L102.1,134.1 L102.6,134.1 L103.1,133.8 L103.6,133.3 L104.1,133.5 L104.6,134.0 L105.1,133.8 L105.6,133.2 L106.1,133.0 L106.6,133.0 L107.1,133.2 L107.6,133.5 L108.1,133.6 L108.4,133.6 L108.6,133.3 L109.1,132.9 L109.6,133.4 L110.1,133.9 L110.6,133.6 L111.1,133.5 L111.6,133.9 L112.1,133.9 L112.6,134.0 L113.1,133.9 L113.6,133.6 L114.1,133.6 L114.6,133.5 L115.1,133.3 L115.6,133.6 L116.1,134.0 L116.6,133.8 L117.1,133.3 L117.6,133.6 L118.1,134.3 L118.6,134.2 L119.1,134.1 L119.6,134.3 L120.1,134.0 L120.6,133.5 L121.1,133.8 L121.6,134.3 L122.1,134.5 L122.6,134.3 L123.1,133.8 L123.6,133.5 L124.1,133.4 L124.6,133.6 L125.1,133.7 L125.6,133.7 L126.1,133.5 L126.6,133.5 L127.1,133.4 L127.6,133.3 L128.1,133.3 L128.6,133.3 L129.1,133.5 L129.6,133.8 L130.1,133.7 L130.6,133.5 L131.1,133.7 L131.6,134.0 L132.1,134.0 L132.6,133.7 L133.1,133.4 L133.6,133.3 L134.1,133.4 L134.6,133.3 L135.1,132.9 L135.6,132.5 L136.1,132.2 L136.2,132.2 L136.6,132.2 L137.1,132.5 L137.6,132.8 L138.1,132.8 L138.6,132.9 L139.1,133.4 L139.6,133.9 L140.1,133.7 L140.6,133.3 L141.1,133.2 L141.6,133.5 L142.1,133.7 L142.6,133.4 L143.1,133.1 L143.6,132.9 L144.1,132.8 L144.5,132.7 L144.6,132.6 L145.1,132.5 L145.6,132.2 L146.1,132.5 L146.6,132.9 L147.1,133.0 L147.6,133.0 L148.1,132.9 L148.6,133.0 L149.1,133.2 L149.6,133.1 L150.1,133.4 L150.6,133.9 L151.1,133.5 L151.6,133.2 L152.1,133.3 L152.6,133.5 L153.1,133.7 L153.6,133.9 L154.1,133.9 L154.6,133.6 L155.1,133.3 L155.6,133.1 L156.1,133.0 L156.6,133.4 L157.1,133.7 L157.6,133.8 L158.1,133.9 L158.6,133.9 L159.1,133.9 L159.6,133.9 L160.1,133.5 L160.6,133.1 L161.1,133.2 L161.6,133.3 L162.1,132.9 L162.6,132.5 L163.1,132.3 L163.6,131.8 L164.1,130.4 L164.6,128.5 L165.1,125.6 L165.6,122.5 L165.8,121.8 L166.1,122.2 L166.6,125.7 L167.1,128.6 L167.6,130.3 L168.1,131.7 L168.6,132.4 L169.1,132.9 L169.6,133.5 L170.1,133.4 L170.6,133.2 L171.1,133.4 L171.6,133.8 L172.1,133.8 L172.6,133.6 L173.1,133.4 L173.6,133.3 L174.1,133.3 L174.6,133.4 L175.1,133.6 L175.6,133.7 L176.1,133.7 L176.6,133.5 L177.1,133.5 L177.6,133.7 L178.1,133.9 L178.6,134.0 L179.1,133.8 L179.6,133.8 L180.1,133.8 L180.6,133.7 L181.1,133.9 L181.6,133.8 L182.1,133.5 L182.6,133.9 L183.1,134.1 L183.6,134.1 L184.1,134.3 L184.6,134.0 L185.1,133.7 L185.6,133.9 L186.1,133.8 L186.6,133.3 L187.1,133.3 L187.6,133.7 L188.1,133.9 L188.6,134.1 L189.1,134.1 L189.6,133.8 L190.1,134.0 L190.6,134.5 L191.1,134.7 L191.6,134.3 L192.1,133.8 L192.6,133.6 L193.1,134.0 L193.6,134.4 L194.1,134.2 L194.6,133.8 L195.1,133.7 L195.6,133.8 L196.1,133.8 L196.6,134.0 L197.1,134.3 L197.6,134.3 L198.1,134.1 L198.6,133.9 L199.1,134.2 L199.6,134.5 L200.1,134.1 L200.6,133.9 L201.1,134.2 L201.6,134.7 L202.1,134.8 L202.6,134.3 L203.1,133.9 L203.6,133.9 L204.1,134.0 L204.6,133.7 L205.1,133.3 L205.6,133.3 L206.1,133.7 L206.6,133.8 L207.1,134.0 L207.6,134.5 L208.1,134.6 L208.6,134.3 L209.1,134.0 L209.6,134.0 L210.1,133.9 L210.6,134.0 L211.1,134.2 L211.6,134.3 L212.1,134.2 L212.6,133.9 L213.1,133.6 L213.6,133.7 L214.1,134.0" fill="none" stroke="#b0ac3b" stroke-width="1.0" stroke-linejoin="round"/>
<line x1="38" y1="9" x2="57" y2="9" stroke="#e06a6e" stroke-width="1.0" stroke-opacity="0.55"/>
<text x="59" y="11.9" font-size="8.25" text-anchor="start" fill="#1e1a1a" font-weight="normal" stroke="#1e1a1a" stroke-width="0.18" letter-spacing="0.1">W-TNT-1000</text>
<line x1="38" y1="18.9" x2="57" y2="18.9" stroke="#52b088" stroke-width="1.0" stroke-opacity="0.55"/>
<text x="59" y="21.8" font-size="8.25" text-anchor="start" fill="#1e1a1a" font-weight="normal" stroke="#1e1a1a" stroke-width="0.18" letter-spacing="0.1">W-TNT-800</text>
<line x1="38" y1="29" x2="57" y2="29" stroke="#30b4c8" stroke-width="1.0" stroke-opacity="0.55"/>
<text x="59" y="31.9" font-size="8.25" text-anchor="start" fill="#1e1a1a" font-weight="normal" stroke="#1e1a1a" stroke-width="0.18" letter-spacing="0.1">W-TNT-600</text>
<line x1="38" y1="38.8" x2="57" y2="38.8" stroke="#f08444" stroke-width="1.0" stroke-opacity="0.55"/>
<text x="59" y="41.7" font-size="8.25" text-anchor="start" fill="#1e1a1a" font-weight="normal" stroke="#1e1a1a" stroke-width="0.18" letter-spacing="0.1">W-TNT-400</text>
<line x1="38" y1="48.7" x2="57" y2="48.7" stroke="#c8c444" stroke-width="1.0" stroke-opacity="0.55"/>
<text x="59" y="51.6" font-size="8.25" text-anchor="start" fill="#1e1a1a" font-weight="normal" stroke="#1e1a1a" stroke-width="0.18" letter-spacing="0.1">W-TNT-300</text>
<text x="49.2" y="87.6" font-size="8.25" text-anchor="start" fill="#1e1a1a" font-weight="normal" stroke="#1e1a1a" stroke-width="0.18" >770</text>
<text x="127.6" y="87.6" font-size="8.25" text-anchor="start" fill="#1e1a1a" font-weight="normal" stroke="#1e1a1a" stroke-width="0.18" >1395</text>
<text x="169.6" y="89.9" font-size="8.25" text-anchor="start" fill="#1e1a1a" font-weight="normal" stroke="#1e1a1a" stroke-width="0.18" >1625</text>
<line x1="145" y1="19.9" x2="146" y2="13.3" stroke="#c9a0a0" stroke-width="0.9" stroke-linecap="round"/>
<line x1="138.1" y1="22.5" x2="133.5" y2="18.6" stroke="#c9a0a0" stroke-width="0.9" stroke-linecap="round"/>
<line x1="143.7" y1="35" x2="143.3" y2="40.9" stroke="#c9a0a0" stroke-width="0.9" stroke-linecap="round"/>
<line x1="171.9" y1="19.9" x2="171.6" y2="13.3" stroke="#c9a0a0" stroke-width="0.9" stroke-linecap="round"/>
<line x1="179.2" y1="22.9" x2="184.1" y2="19.5" stroke="#c9a0a0" stroke-width="0.9" stroke-linecap="round"/>
<line x1="173.2" y1="35" x2="174" y2="41.3" stroke="#c9a0a0" stroke-width="0.9" stroke-linecap="round"/>
<line x1="123.2" y1="28.4" x2="119.9" y2="24.4" stroke="#c9a0a0" stroke-width="0.9" stroke-linecap="round"/>
<line x1="123.2" y1="28.4" x2="118.4" y2="31.9" stroke="#c9a0a0" stroke-width="0.9" stroke-linecap="round"/>
<line x1="123.2" y1="28.4" x2="125.4" y2="25.9" stroke="#c9a0a0" stroke-width="0.9" stroke-linecap="round"/>
<line x1="128.9" y1="41.8" x2="124.4" y2="45.4" stroke="#c9a0a0" stroke-width="0.9" stroke-linecap="round"/>
<line x1="128.9" y1="41.8" x2="132.4" y2="44.4" stroke="#c9a0a0" stroke-width="0.9" stroke-linecap="round"/>
<line x1="128.9" y1="41.8" x2="128.4" y2="46.4" stroke="#c9a0a0" stroke-width="0.9" stroke-linecap="round"/>
<line x1="195.2" y1="28.2" x2="198.4" y2="24.9" stroke="#c9a0a0" stroke-width="0.9" stroke-linecap="round"/>
<line x1="195.2" y1="28.2" x2="199.4" y2="30.4" stroke="#c9a0a0" stroke-width="0.9" stroke-linecap="round"/>
<line x1="195.2" y1="28.2" x2="192.4" y2="24.4" stroke="#c9a0a0" stroke-width="0.9" stroke-linecap="round"/>
<line x1="189.3" y1="40.3" x2="185.4" y2="43.4" stroke="#c9a0a0" stroke-width="0.9" stroke-linecap="round"/>
<line x1="189.3" y1="40.3" x2="193.4" y2="42.9" stroke="#c9a0a0" stroke-width="0.9" stroke-linecap="round"/>
<line x1="189.3" y1="40.3" x2="190.4" y2="44.9" stroke="#c9a0a0" stroke-width="0.9" stroke-linecap="round"/>
<line x1="145" y1="19.9" x2="152.1" y2="24.2" stroke="#9a7560" stroke-width="1.2" stroke-linecap="round"/>
<line x1="171.9" y1="19.9" x2="179.2" y2="22.9" stroke="#9a7560" stroke-width="1.2" stroke-linecap="round"/>
<line x1="152.1" y1="24.2" x2="150.8" y2="32.4" stroke="#9a7560" stroke-width="1.2" stroke-linecap="round"/>
<line x1="179.2" y1="22.9" x2="180.1" y2="30.8" stroke="#9a7560" stroke-width="1.2" stroke-linecap="round"/>
<line x1="150.8" y1="32.4" x2="143.7" y2="35" stroke="#9a7560" stroke-width="1.2" stroke-linecap="round"/>
<line x1="180.1" y1="30.8" x2="173.2" y2="35" stroke="#9a7560" stroke-width="1.2" stroke-linecap="round"/>
<line x1="143.7" y1="35" x2="136.8" y2="30.8" stroke="#9a7560" stroke-width="1.2" stroke-linecap="round"/>
<line x1="173.2" y1="35" x2="166.1" y2="32.4" stroke="#9a7560" stroke-width="1.2" stroke-linecap="round"/>
<line x1="136.8" y1="30.8" x2="138.1" y2="22.5" stroke="#9a7560" stroke-width="1.2" stroke-linecap="round"/>
<line x1="166.1" y1="32.4" x2="164.8" y2="24.2" stroke="#9a7560" stroke-width="1.2" stroke-linecap="round"/>
<line x1="138.1" y1="22.5" x2="145" y2="19.9" stroke="#9a7560" stroke-width="1.2" stroke-linecap="round"/>
<line x1="164.8" y1="24.2" x2="171.9" y2="19.9" stroke="#9a7560" stroke-width="1.2" stroke-linecap="round"/>
<line x1="152.1" y1="24.2" x2="158.4" y2="20.5" stroke="#8a6e70" stroke-width="1.2" stroke-linecap="round"/>
<line x1="158.4" y1="20.5" x2="164.8" y2="24.2" stroke="#8a6e70" stroke-width="1.2" stroke-linecap="round"/>
<line x1="150.8" y1="32.4" x2="158.4" y2="38.5" stroke="#9a7a48" stroke-width="1.2" stroke-linecap="round"/>
<line x1="158.4" y1="38.5" x2="166.1" y2="32.4" stroke="#9a7a48" stroke-width="1.2" stroke-linecap="round"/>
<line x1="136.8" y1="30.8" x2="130.2" y2="33.3" stroke="#8a6e70" stroke-width="1.2" stroke-linecap="round"/>
<line x1="130.2" y1="33.3" x2="123.2" y2="28.4" stroke="#8a6e70" stroke-width="1.2" stroke-linecap="round"/>
<line x1="130.2" y1="33.3" x2="128.9" y2="41.8" stroke="#8a6e70" stroke-width="1.2" stroke-linecap="round"/>
<line x1="180.1" y1="30.8" x2="187.4" y2="33.7" stroke="#8a6e70" stroke-width="1.2" stroke-linecap="round"/>
<line x1="187.4" y1="33.7" x2="195.2" y2="28.2" stroke="#8a6e70" stroke-width="1.2" stroke-linecap="round"/>
<line x1="187.4" y1="33.7" x2="189.3" y2="40.3" stroke="#8a6e70" stroke-width="1.2" stroke-linecap="round"/>
<circle cx="146" cy="13.3" r="1.3" fill="url(#gH)"/>
<circle cx="133.5" cy="18.6" r="1.3" fill="url(#gH)"/>
<circle cx="143.3" cy="40.9" r="1.3" fill="url(#gH)"/>
<circle cx="171.6" cy="13.3" r="1.3" fill="url(#gH)"/>
<circle cx="184.1" cy="19.5" r="1.3" fill="url(#gH)"/>
<circle cx="174" cy="41.3" r="1.3" fill="url(#gH)"/>
<circle cx="119.9" cy="24.4" r="1.3" fill="url(#gH)"/>
<circle cx="118.4" cy="31.9" r="1.3" fill="url(#gH)"/>
<circle cx="125.4" cy="25.9" r="1.3" fill="url(#gH)"/>
<circle cx="124.4" cy="45.4" r="1.3" fill="url(#gH)"/>
<circle cx="132.4" cy="44.4" r="1.3" fill="url(#gH)"/>
<circle cx="128.4" cy="46.4" r="1.3" fill="url(#gH)"/>
<circle cx="198.4" cy="24.9" r="1.3" fill="url(#gH)"/>
<circle cx="199.4" cy="30.4" r="1.3" fill="url(#gH)"/>
<circle cx="192.4" cy="24.4" r="1.3" fill="url(#gH)"/>
<circle cx="185.4" cy="43.4" r="1.3" fill="url(#gH)"/>
<circle cx="193.4" cy="42.9" r="1.3" fill="url(#gH)"/>
<circle cx="190.4" cy="44.9" r="1.3" fill="url(#gH)"/>
<circle cx="145" cy="19.9" r="1.85" fill="url(#gC)"/>
<circle cx="152.1" cy="24.2" r="1.85" fill="url(#gC)"/>
<circle cx="150.8" cy="32.4" r="1.85" fill="url(#gC)"/>
<circle cx="143.7" cy="35" r="1.85" fill="url(#gC)"/>
<circle cx="136.8" cy="30.8" r="1.85" fill="url(#gC)"/>
<circle cx="138.1" cy="22.5" r="1.85" fill="url(#gC)"/>
<circle cx="171.9" cy="19.9" r="1.85" fill="url(#gC)"/>
<circle cx="179.2" cy="22.9" r="1.85" fill="url(#gC)"/>
<circle cx="180.1" cy="30.8" r="1.85" fill="url(#gC)"/>
<circle cx="173.2" cy="35" r="1.85" fill="url(#gC)"/>
<circle cx="166.1" cy="32.4" r="1.85" fill="url(#gC)"/>
<circle cx="164.8" cy="24.2" r="1.85" fill="url(#gC)"/>
<circle cx="123.2" cy="28.4" r="1.85" fill="url(#gC)"/>
<circle cx="128.9" cy="41.8" r="1.85" fill="url(#gC)"/>
<circle cx="195.2" cy="28.2" r="1.85" fill="url(#gC)"/>
<circle cx="189.3" cy="40.3" r="1.85" fill="url(#gC)"/>
<circle cx="158.4" cy="20.5" r="2.0" fill="url(#gN)"/>
<circle cx="130.2" cy="33.3" r="2.0" fill="url(#gN)"/>
<circle cx="187.4" cy="33.7" r="2.0" fill="url(#gN)"/>
<circle cx="158.4" cy="38.5" r="2.5" fill="url(#gS)"/>
<text x="-0.8" y="26.6" font-size="24.5" text-anchor="start" fill="#231815" font-weight="bold" >a</text>
<rect x="258.5" y="3.3" width="181.1" height="135" fill="none" stroke="#3a3a3a" stroke-width="1"/>
<line x1="258.5" y1="138.3" x2="258.5" y2="140.8" stroke="#3a3a3a" stroke-width="0.9" />
<text x="258.5" y="148.9" font-size="8.25" text-anchor="middle" fill="#1e1a1a" font-weight="normal" stroke="#1e1a1a" stroke-width="0.18" >600</text>
<line x1="271.44" y1="138.3" x2="271.44" y2="139.8" stroke="#3a3a3a" stroke-width="0.9" />
<line x1="284.37" y1="138.3" x2="284.37" y2="140.8" stroke="#3a3a3a" stroke-width="0.9" />
<text x="284.37" y="148.9" font-size="8.25" text-anchor="middle" fill="#1e1a1a" font-weight="normal" stroke="#1e1a1a" stroke-width="0.18" >800</text>
<line x1="297.31" y1="138.3" x2="297.31" y2="139.8" stroke="#3a3a3a" stroke-width="0.9" />
<line x1="310.24" y1="138.3" x2="310.24" y2="140.8" stroke="#3a3a3a" stroke-width="0.9" />
<text x="310.24" y="148.9" font-size="8.25" text-anchor="middle" fill="#1e1a1a" font-weight="normal" stroke="#1e1a1a" stroke-width="0.18" >1000</text>
<line x1="323.18" y1="138.3" x2="323.18" y2="139.8" stroke="#3a3a3a" stroke-width="0.9" />
<line x1="336.11" y1="138.3" x2="336.11" y2="140.8" stroke="#3a3a3a" stroke-width="0.9" />
<text x="336.11" y="148.9" font-size="8.25" text-anchor="middle" fill="#1e1a1a" font-weight="normal" stroke="#1e1a1a" stroke-width="0.18" >1200</text>
<line x1="349.05" y1="138.3" x2="349.05" y2="139.8" stroke="#3a3a3a" stroke-width="0.9" />
<line x1="361.99" y1="138.3" x2="361.99" y2="140.8" stroke="#3a3a3a" stroke-width="0.9" />
<text x="361.99" y="148.9" font-size="8.25" text-anchor="middle" fill="#1e1a1a" font-weight="normal" stroke="#1e1a1a" stroke-width="0.18" >1400</text>
<line x1="374.92" y1="138.3" x2="374.92" y2="139.8" stroke="#3a3a3a" stroke-width="0.9" />
<line x1="387.86" y1="138.3" x2="387.86" y2="140.8" stroke="#3a3a3a" stroke-width="0.9" />
<text x="387.86" y="148.9" font-size="8.25" text-anchor="middle" fill="#1e1a1a" font-weight="normal" stroke="#1e1a1a" stroke-width="0.18" >1600</text>
<line x1="400.79" y1="138.3" x2="400.79" y2="139.8" stroke="#3a3a3a" stroke-width="0.9" />
<line x1="413.73" y1="138.3" x2="413.73" y2="140.8" stroke="#3a3a3a" stroke-width="0.9" />
<text x="413.73" y="148.9" font-size="8.25" text-anchor="middle" fill="#1e1a1a" font-weight="normal" stroke="#1e1a1a" stroke-width="0.18" >1800</text>
<line x1="426.66" y1="138.3" x2="426.66" y2="139.8" stroke="#3a3a3a" stroke-width="0.9" />
<line x1="439.6" y1="138.3" x2="439.6" y2="140.8" stroke="#3a3a3a" stroke-width="0.9" />
<text x="439.6" y="148.9" font-size="8.25" text-anchor="middle" fill="#1e1a1a" font-weight="normal" stroke="#1e1a1a" stroke-width="0.18" >2000</text>
<line x1="257" y1="124.48" x2="258.5" y2="124.48" stroke="#3a3a3a" stroke-width="0.9" />
<line x1="257" y1="105.83" x2="258.5" y2="105.83" stroke="#3a3a3a" stroke-width="0.9" />
<line x1="257" y1="87.18" x2="258.5" y2="87.18" stroke="#3a3a3a" stroke-width="0.9" />
<line x1="257" y1="68.53" x2="258.5" y2="68.53" stroke="#3a3a3a" stroke-width="0.9" />
<line x1="257" y1="49.88" x2="258.5" y2="49.88" stroke="#3a3a3a" stroke-width="0.9" />
<line x1="257" y1="31.23" x2="258.5" y2="31.23" stroke="#3a3a3a" stroke-width="0.9" />
<line x1="257" y1="12.58" x2="258.5" y2="12.58" stroke="#3a3a3a" stroke-width="0.9" />
<line x1="256" y1="133.8" x2="258.5" y2="133.8" stroke="#3a3a3a" stroke-width="0.9" />
<text x="254.5" y="136.2" font-size="8.25" text-anchor="end" fill="#1e1a1a" font-weight="normal" stroke="#1e1a1a" stroke-width="0.18" >0</text>
<line x1="256" y1="115.15" x2="258.5" y2="115.15" stroke="#3a3a3a" stroke-width="0.9" />
<text x="254.5" y="117.55" font-size="8.25" text-anchor="end" fill="#1e1a1a" font-weight="normal" stroke="#1e1a1a" stroke-width="0.18" >20</text>
<line x1="256" y1="96.5" x2="258.5" y2="96.5" stroke="#3a3a3a" stroke-width="0.9" />
<text x="254.5" y="98.9" font-size="8.25" text-anchor="end" fill="#1e1a1a" font-weight="normal" stroke="#1e1a1a" stroke-width="0.18" >40</text>
<line x1="256" y1="77.85" x2="258.5" y2="77.85" stroke="#3a3a3a" stroke-width="0.9" />
<text x="254.5" y="80.25" font-size="8.25" text-anchor="end" fill="#1e1a1a" font-weight="normal" stroke="#1e1a1a" stroke-width="0.18" >60</text>
<line x1="256" y1="59.2" x2="258.5" y2="59.2" stroke="#3a3a3a" stroke-width="0.9" />
<text x="254.5" y="61.6" font-size="8.25" text-anchor="end" fill="#1e1a1a" font-weight="normal" stroke="#1e1a1a" stroke-width="0.18" >80</text>
<line x1="256" y1="40.55" x2="258.5" y2="40.55" stroke="#3a3a3a" stroke-width="0.9" />
<text x="254.5" y="42.95" font-size="8.25" text-anchor="end" fill="#1e1a1a" font-weight="normal" stroke="#1e1a1a" stroke-width="0.18" >100</text>
<line x1="256" y1="21.9" x2="258.5" y2="21.9" stroke="#3a3a3a" stroke-width="0.9" />
<text x="254.5" y="24.3" font-size="8.25" text-anchor="end" fill="#1e1a1a" font-weight="normal" stroke="#1e1a1a" stroke-width="0.18" >120</text>
<line x1="256" y1="3.25" x2="258.5" y2="3.25" stroke="#3a3a3a" stroke-width="0.9" />
<text x="254.5" y="5.65" font-size="8.25" text-anchor="end" fill="#1e1a1a" font-weight="normal" stroke="#1e1a1a" stroke-width="0.18" >140</text>
<text x="349.05" y="159.1" font-size="8.25" text-anchor="middle" fill="#1e1a1a" stroke="#1e1a1a" stroke-width="0.18">Raman shift (cm<tspan font-size="5" dy="-3">-1</tspan><tspan dy="3">)</tspan></text>
<text transform="translate(238.5,72.2) rotate(-90)" x="0" y="0" font-size="8" text-anchor="middle" fill="#1e1a1a" stroke="#1e1a1a" stroke-width="0.18">Intensity (10<tspan font-size="5" dy="-3">3</tspan><tspan dy="3"> counts)</tspan></text>
<path d="M258.5,63.2 L259.0,63.7 L259.5,63.8 L260.0,63.4 L260.5,63.2 L261.0,63.5 L261.5,63.8 L262.0,63.8 L262.5,63.3 L263.0,63.2 L263.5,63.7 L264.0,64.0 L264.5,64.1 L265.0,64.0 L265.5,63.7 L266.0,63.8 L266.5,64.1 L267.0,63.7 L267.5,63.2 L268.0,63.2 L268.5,63.5 L269.0,63.6 L269.5,63.5 L270.0,63.6 L270.5,63.7 L271.0,63.9 L271.5,64.0 L272.0,63.6 L272.5,63.3 L273.0,63.4 L273.5,63.3 L274.0,63.2 L274.5,63.2 L275.0,63.3 L275.5,63.4 L276.0,63.9 L276.5,64.4 L277.0,64.0 L277.5,63.6 L278.0,63.3 L278.5,63.3 L279.0,63.5 L279.5,63.4 L280.0,63.1 L280.5,62.8 L280.5,62.7 L281.0,63.0 L281.5,63.4 L282.0,63.7 L282.5,63.6 L283.0,63.6 L283.5,63.7 L284.0,63.7 L284.5,63.6 L285.0,63.7 L285.5,63.8 L286.0,63.9 L286.5,63.9 L287.0,63.6 L287.5,63.5 L288.0,63.7 L288.5,63.9 L289.0,63.9 L289.5,63.7 L290.0,63.6 L290.5,63.6 L291.0,63.4 L291.5,63.2 L292.0,62.9 L292.1,62.6 L292.5,62.6 L293.0,63.0 L293.5,63.6 L294.0,64.0 L294.5,64.0 L295.0,64.0 L295.5,63.9 L296.0,63.8 L296.5,63.8 L297.0,64.0 L297.5,64.0 L298.0,63.6 L298.5,63.6 L299.0,64.0 L299.5,64.0 L300.0,63.9 L300.5,63.7 L301.0,63.7 L301.5,64.2 L302.0,64.2 L302.5,63.8 L303.0,63.6 L303.5,63.3 L303.8,63.0 L304.0,63.1 L304.5,63.5 L305.0,63.8 L305.5,63.8 L306.0,63.8 L306.5,63.8 L307.0,63.6 L307.5,63.8 L308.0,63.9 L308.5,63.4 L309.0,63.0 L309.5,63.1 L310.0,63.6 L310.5,63.9 L311.0,63.9 L311.5,63.5 L312.0,63.5 L312.5,63.7 L313.0,63.3 L313.5,63.0 L314.0,63.6 L314.5,64.1 L315.0,63.6 L315.4,62.9 L315.5,62.9 L316.0,63.5 L316.5,64.0 L317.0,63.9 L317.5,63.8 L318.0,63.9 L318.5,63.9 L319.0,63.9 L319.5,63.5 L320.0,63.4 L320.5,63.8 L321.0,64.0 L321.5,63.9 L322.0,63.5 L322.5,63.0 L323.0,63.1 L323.5,63.2 L324.0,63.4 L324.5,63.6 L325.0,63.6 L325.5,63.7 L326.0,63.6 L326.5,63.4 L327.0,63.5 L327.5,63.7 L328.0,63.7 L328.5,63.4 L329.0,63.1 L329.5,63.2 L330.0,63.8 L330.5,63.8 L331.0,63.3 L331.5,62.9 L332.0,62.8 L332.5,63.0 L333.0,63.3 L333.5,63.5 L333.5,63.2 L334.0,62.5 L334.5,62.5 L335.0,63.2 L335.5,63.2 L336.0,62.9 L336.5,63.0 L337.0,63.4 L337.5,64.1 L338.0,64.2 L338.5,63.7 L339.0,63.2 L339.5,62.9 L340.0,63.0 L340.5,63.2 L341.0,63.2 L341.5,62.9 L342.0,63.2 L342.5,63.9 L343.0,63.9 L343.5,63.2 L344.0,63.1 L344.5,63.6 L345.0,63.7 L345.5,63.3 L346.0,63.1 L346.5,63.1 L347.0,63.0 L347.5,63.2 L348.0,63.6 L348.5,63.8 L349.0,63.7 L349.1,63.3 L349.5,63.0 L350.0,63.0 L350.5,63.0 L351.0,62.8 L351.5,62.9 L352.0,63.5 L352.5,63.9 L353.0,63.9 L353.5,63.8 L354.0,63.5 L354.5,63.2 L355.0,63.3 L355.5,63.1 L356.0,62.8 L356.5,62.6 L357.0,62.7 L357.5,63.1 L358.0,63.1 L358.5,63.1 L359.0,63.3 L359.5,63.0 L360.0,62.8 L360.5,62.3 L361.0,61.2 L361.3,60.8 L361.5,61.2 L362.0,61.8 L362.5,62.5 L363.0,62.8 L363.5,63.0 L364.0,62.8 L364.5,62.4 L365.0,62.6 L365.5,62.6 L366.0,62.4 L366.5,62.6 L367.0,62.8 L367.5,63.0 L368.0,62.7 L368.5,62.1 L369.0,61.8 L369.5,61.8 L369.7,62.2 L370.0,62.5 L370.5,62.4 L371.0,62.5 L371.5,62.8 L372.0,62.8 L372.5,62.5 L373.0,62.3 L373.5,62.7 L374.0,63.3 L374.5,63.3 L375.0,63.1 L375.5,63.0 L376.0,63.1 L376.5,63.1 L377.0,63.0 L377.5,62.9 L378.0,62.7 L378.5,63.1 L379.0,63.6 L379.5,63.5 L380.0,63.3 L380.5,63.2 L381.0,63.3 L381.5,63.2 L382.0,63.1 L382.5,63.2 L383.0,63.2 L383.5,62.9 L384.0,62.8 L384.5,62.7 L385.0,62.8 L385.5,62.8 L386.0,62.5 L386.5,62.4 L387.0,62.5 L387.5,62.3 L388.0,62.3 L388.5,62.1 L389.0,61.2 L389.5,59.7 L390.0,57.6 L390.5,54.7 L391.0,52.4 L391.1,52.0 L391.5,53.0 L392.0,56.2 L392.5,58.6 L393.0,60.4 L393.5,61.7 L394.0,62.3 L394.5,62.6 L395.0,62.9 L395.5,63.0 L396.0,63.2 L396.5,63.2 L397.0,62.7 L397.5,62.6 L398.0,63.0 L398.5,63.6 L399.0,63.6 L399.5,63.4 L400.0,63.4 L400.5,63.4 L401.0,63.2 L401.5,63.2 L402.0,63.1 L402.5,62.9 L403.0,62.9 L403.5,63.1 L404.0,63.7 L404.5,64.4 L405.0,64.4 L405.5,63.5 L406.0,63.0 L406.5,63.1 L407.0,63.5 L407.5,64.0 L408.0,63.8 L408.5,63.5 L409.0,63.7 L409.5,63.6 L410.0,63.1 L410.5,63.2 L411.0,63.4 L411.5,63.5 L412.0,63.5 L412.5,63.5 L413.0,63.5 L413.5,63.3 L414.0,63.5 L414.5,63.9 L415.0,63.9 L415.5,63.5 L416.0,63.2 L416.5,63.4 L417.0,63.6 L417.5,63.5 L418.0,63.6 L418.5,63.7 L419.0,63.6 L419.5,63.6 L420.0,63.7 L420.5,63.8 L421.0,63.8 L421.5,63.8 L422.0,63.5 L422.5,63.3 L423.0,63.5 L423.5,63.4 L424.0,63.5 L424.5,63.9 L425.0,63.8 L425.5,63.4 L426.0,63.7 L426.5,64.2 L427.0,64.1 L427.5,63.6 L428.0,63.4 L428.5,63.3 L429.0,63.2 L429.5,63.4 L430.0,63.5 L430.5,63.7 L431.0,63.8 L431.5,63.5 L432.0,63.3 L432.5,63.5 L433.0,63.4 L433.5,63.3 L434.0,63.5 L434.5,63.4 L435.0,63.3 L435.5,63.7 L436.0,64.0 L436.5,63.7 L437.0,63.6 L437.5,63.9 L438.0,64.0 L438.5,64.0 L439.0,63.6 L439.5,63.0" fill="none" stroke="#34a5b3" stroke-width="1.0" stroke-linejoin="round"/>
<path d="M258.5,82.2 L259.0,82.5 L259.5,82.6 L260.0,82.7 L260.5,82.9 L261.0,82.8 L261.5,82.8 L262.0,83.0 L262.5,82.6 L263.0,82.2 L263.5,82.1 L264.0,82.5 L264.5,82.9 L265.0,83.1 L265.5,83.3 L266.0,83.5 L266.5,83.4 L267.0,83.2 L267.5,83.2 L268.0,82.9 L268.5,82.7 L269.0,82.8 L269.5,82.8 L270.0,82.9 L270.5,83.3 L271.0,83.1 L271.5,82.7 L272.0,82.9 L272.5,83.2 L273.0,83.0 L273.5,82.9 L274.0,83.0 L274.5,83.0 L275.0,82.8 L275.5,82.6 L276.0,82.5 L276.5,82.5 L277.0,82.6 L277.5,83.0 L278.0,83.0 L278.5,82.6 L279.0,82.3 L279.5,82.0 L280.0,81.6 L280.5,81.6 L280.5,81.7 L281.0,81.5 L281.5,81.7 L282.0,82.4 L282.5,82.6 L283.0,82.5 L283.5,82.6 L284.0,82.4 L284.5,82.3 L285.0,82.7 L285.5,82.7 L286.0,82.6 L286.5,82.8 L287.0,82.7 L287.5,82.6 L288.0,83.0 L288.5,82.8 L289.0,82.4 L289.5,82.6 L290.0,82.7 L290.5,82.5 L291.0,82.2 L291.5,82.2 L292.0,82.2 L292.1,82.1 L292.5,82.2 L293.0,82.6 L293.5,82.7 L294.0,82.5 L294.5,82.5 L295.0,82.9 L295.5,83.0 L296.0,82.8 L296.5,82.8 L297.0,82.5 L297.5,82.2 L298.0,82.1 L298.5,82.1 L299.0,82.5 L299.5,83.2 L300.0,83.2 L300.5,82.8 L301.0,82.7 L301.5,82.4 L302.0,82.1 L302.5,82.4 L303.0,82.5 L303.5,82.1 L303.8,82.0 L304.0,82.1 L304.5,82.5 L305.0,82.8 L305.5,83.2 L306.0,83.4 L306.5,82.9 L307.0,82.5 L307.5,82.5 L308.0,82.6 L308.5,83.0 L309.0,82.8 L309.5,82.4 L310.0,82.7 L310.5,82.8 L311.0,82.5 L311.5,82.5 L312.0,82.9 L312.5,83.2 L313.0,82.9 L313.5,82.4 L314.0,82.5 L314.5,82.6 L315.0,82.5 L315.4,82.3 L315.5,81.9 L316.0,81.9 L316.5,82.2 L317.0,82.3 L317.5,82.5 L318.0,82.6 L318.5,82.4 L319.0,82.4 L319.5,83.0 L320.0,83.1 L320.5,82.7 L321.0,82.3 L321.5,82.2 L322.0,82.4 L322.5,82.4 L323.0,82.6 L323.5,82.9 L324.0,82.6 L324.5,82.3 L325.0,82.1 L325.5,81.9 L326.0,82.1 L326.5,82.3 L327.0,82.2 L327.5,82.3 L328.0,82.6 L328.5,82.4 L329.0,82.3 L329.5,82.7 L330.0,82.8 L330.5,82.6 L331.0,82.4 L331.5,82.3 L332.0,81.7 L332.5,81.3 L333.0,81.5 L333.5,81.7 L333.5,81.8 L334.0,81.8 L334.5,82.2 L335.0,82.4 L335.5,82.0 L336.0,81.8 L336.5,82.1 L337.0,82.6 L337.5,82.7 L338.0,82.3 L338.5,82.2 L339.0,82.5 L339.5,82.7 L340.0,82.6 L340.5,82.8 L341.0,82.8 L341.5,82.6 L342.0,82.6 L342.5,82.8 L343.0,82.6 L343.5,82.3 L344.0,82.5 L344.5,82.7 L345.0,82.8 L345.5,82.6 L346.0,82.4 L346.5,82.4 L347.0,82.3 L347.5,82.2 L348.0,82.3 L348.5,82.4 L349.0,82.2 L349.1,82.0 L349.5,82.1 L350.0,82.4 L350.5,82.6 L351.0,82.7 L351.5,82.9 L352.0,82.8 L352.5,82.3 L353.0,82.3 L353.5,82.7 L354.0,82.5 L354.5,82.0 L355.0,81.9 L355.5,82.3 L356.0,82.7 L356.5,82.5 L357.0,82.0 L357.5,82.2 L358.0,82.4 L358.5,82.0 L359.0,81.5 L359.5,81.1 L360.0,80.9 L360.5,80.6 L361.0,79.8 L361.3,79.3 L361.5,79.3 L362.0,79.9 L362.5,80.4 L363.0,80.8 L363.5,81.3 L364.0,81.5 L364.5,81.7 L365.0,81.8 L365.5,81.8 L366.0,81.6 L366.5,81.5 L367.0,81.4 L367.5,81.3 L368.0,81.4 L368.5,81.0 L369.0,80.9 L369.5,81.3 L369.7,81.4 L370.0,81.2 L370.5,81.5 L371.0,81.7 L371.5,81.4 L372.0,81.2 L372.5,81.2 L373.0,81.2 L373.5,81.2 L374.0,81.4 L374.5,81.5 L375.0,81.7 L375.5,81.8 L376.0,82.0 L376.5,82.0 L377.0,81.9 L377.5,82.1 L378.0,82.4 L378.5,82.5 L379.0,82.4 L379.5,82.6 L380.0,82.7 L380.5,82.4 L381.0,81.9 L381.5,81.9 L382.0,82.3 L382.5,82.4 L383.0,82.4 L383.5,82.3 L384.0,82.0 L384.5,82.3 L385.0,82.7 L385.5,82.4 L386.0,82.0 L386.5,81.9 L387.0,81.7 L387.5,81.6 L388.0,81.2 L388.5,80.4 L389.0,79.4 L389.5,77.8 L390.0,75.1 L390.5,70.7 L391.0,67.1 L391.1,67.3 L391.5,69.1 L392.0,73.2 L392.5,76.3 L393.0,78.3 L393.5,79.7 L394.0,80.6 L394.5,80.8 L395.0,81.1 L395.5,81.3 L396.0,81.5 L396.5,81.6 L397.0,81.8 L397.5,82.2 L398.0,82.2 L398.5,82.2 L399.0,82.4 L399.5,82.5 L400.0,82.4 L400.5,82.4 L401.0,82.6 L401.5,82.4 L402.0,82.3 L402.5,82.3 L403.0,82.1 L403.5,82.2 L404.0,82.4 L404.5,82.5 L405.0,82.6 L405.5,82.7 L406.0,82.7 L406.5,82.7 L407.0,82.8 L407.5,82.8 L408.0,83.0 L408.5,82.7 L409.0,82.1 L409.5,82.2 L410.0,82.7 L410.5,82.7 L411.0,82.6 L411.5,82.7 L412.0,83.0 L412.5,83.1 L413.0,82.8 L413.5,82.6 L414.0,82.5 L414.5,82.3 L415.0,82.3 L415.5,82.5 L416.0,82.7 L416.5,82.5 L417.0,82.1 L417.5,82.3 L418.0,82.9 L418.5,82.9 L419.0,82.8 L419.5,82.6 L420.0,82.7 L420.5,83.0 L421.0,82.5 L421.5,82.4 L422.0,82.7 L422.5,82.6 L423.0,82.3 L423.5,82.6 L424.0,82.7 L424.5,82.3 L425.0,82.5 L425.5,83.0 L426.0,83.0 L426.5,82.3 L427.0,82.2 L427.5,82.5 L428.0,82.4 L428.5,82.3 L429.0,82.5 L429.5,82.6 L430.0,82.6 L430.5,82.9 L431.0,83.1 L431.5,83.2 L432.0,83.1 L432.5,82.7 L433.0,82.7 L433.5,83.1 L434.0,83.2 L434.5,83.0 L435.0,82.6 L435.5,82.4 L436.0,82.3 L436.5,82.3 L437.0,82.4 L437.5,82.4 L438.0,82.6 L438.5,83.0 L439.0,83.0 L439.5,82.8" fill="none" stroke="#4f90be" stroke-width="1.0" stroke-linejoin="round"/>
<path d="M258.5,108.9 L259.0,109.0 L259.5,108.6 L260.0,108.3 L260.5,108.7 L261.0,109.0 L261.5,109.0 L262.0,109.0 L262.5,108.8 L263.0,108.6 L263.5,108.5 L264.0,108.6 L264.5,108.8 L265.0,109.1 L265.5,108.9 L266.0,108.7 L266.5,108.8 L267.0,109.0 L267.5,109.3 L268.0,109.4 L268.5,108.9 L269.0,108.5 L269.5,108.6 L270.0,108.7 L270.5,108.9 L271.0,108.8 L271.5,108.9 L272.0,109.0 L272.5,108.6 L273.0,108.5 L273.5,108.5 L274.0,108.5 L274.5,108.6 L275.0,108.8 L275.5,108.8 L276.0,108.9 L276.5,108.8 L277.0,108.6 L277.5,108.8 L278.0,108.6 L278.5,108.1 L279.0,108.2 L279.5,108.4 L280.0,108.0 L280.5,107.4 L280.5,107.4 L281.0,107.9 L281.5,108.4 L282.0,108.7 L282.5,108.7 L283.0,108.5 L283.5,108.5 L284.0,108.9 L284.5,109.0 L285.0,108.9 L285.5,108.9 L286.0,109.0 L286.5,109.1 L287.0,109.2 L287.5,109.1 L288.0,108.9 L288.5,108.6 L289.0,108.2 L289.5,108.0 L290.0,108.4 L290.5,108.5 L291.0,108.1 L291.5,107.3 L292.0,107.0 L292.1,107.0 L292.5,107.1 L293.0,108.1 L293.5,108.5 L294.0,108.4 L294.5,108.8 L295.0,109.0 L295.5,108.7 L296.0,109.0 L296.5,109.5 L297.0,109.2 L297.5,108.5 L298.0,108.4 L298.5,108.8 L299.0,108.9 L299.5,108.5 L300.0,108.3 L300.5,108.5 L301.0,108.8 L301.5,108.7 L302.0,108.8 L302.5,108.9 L303.0,108.8 L303.5,108.4 L303.8,108.4 L304.0,108.5 L304.5,108.4 L305.0,108.2 L305.5,108.4 L306.0,108.8 L306.5,108.8 L307.0,108.7 L307.5,109.2 L308.0,109.6 L308.5,109.2 L309.0,108.9 L309.5,108.9 L310.0,108.9 L310.5,109.1 L311.0,109.1 L311.5,108.8 L312.0,108.6 L312.5,108.9 L313.0,109.0 L313.5,108.3 L314.0,107.8 L314.5,107.8 L315.0,107.6 L315.4,107.6 L315.5,107.6 L316.0,107.9 L316.5,108.5 L317.0,108.8 L317.5,108.8 L318.0,108.5 L318.5,108.7 L319.0,109.1 L319.5,108.9 L320.0,108.5 L320.5,108.3 L321.0,108.5 L321.5,108.7 L322.0,108.9 L322.5,108.9 L323.0,109.0 L323.5,109.0 L324.0,109.0 L324.5,109.1 L325.0,109.0 L325.5,108.7 L326.0,108.6 L326.5,108.5 L327.0,108.3 L327.5,108.2 L328.0,108.4 L328.5,108.5 L329.0,108.5 L329.5,108.4 L330.0,108.3 L330.5,108.3 L331.0,108.1 L331.5,107.9 L332.0,107.7 L332.5,107.7 L333.0,107.8 L333.5,107.8 L333.5,107.5 L334.0,107.5 L334.5,108.0 L335.0,108.2 L335.5,107.9 L336.0,108.2 L336.5,108.6 L337.0,108.8 L337.5,108.7 L338.0,108.6 L338.5,108.7 L339.0,108.6 L339.5,108.5 L340.0,108.7 L340.5,108.7 L341.0,108.6 L341.5,108.4 L342.0,108.3 L342.5,108.4 L343.0,108.5 L343.5,108.8 L344.0,109.0 L344.5,108.8 L345.0,108.2 L345.5,107.6 L346.0,107.7 L346.5,108.0 L347.0,108.2 L347.5,108.2 L348.0,107.8 L348.5,107.6 L349.0,107.7 L349.1,107.9 L349.5,108.2 L350.0,108.5 L350.5,108.4 L351.0,108.0 L351.5,108.4 L352.0,108.9 L352.5,108.7 L353.0,108.5 L353.5,108.5 L354.0,108.4 L354.5,108.3 L355.0,108.2 L355.5,107.9 L356.0,107.9 L356.5,108.4 L357.0,108.2 L357.5,107.8 L358.0,108.0 L358.5,107.8 L359.0,107.2 L359.5,107.1 L360.0,107.0 L360.5,106.0 L361.0,104.9 L361.3,104.6 L361.5,104.4 L362.0,105.2 L362.5,106.4 L363.0,106.8 L363.5,107.0 L364.0,107.2 L364.5,107.1 L365.0,107.1 L365.5,107.4 L366.0,107.5 L366.5,107.5 L367.0,107.1 L367.5,106.8 L368.0,107.0 L368.5,106.7 L369.0,106.3 L369.5,106.2 L369.7,106.1 L370.0,106.3 L370.5,106.4 L371.0,106.4 L371.5,106.6 L372.0,107.0 L372.5,107.3 L373.0,107.6 L373.5,107.8 L374.0,107.6 L374.5,107.5 L375.0,107.5 L375.5,107.4 L376.0,107.6 L376.5,107.8 L377.0,107.5 L377.5,107.3 L378.0,107.7 L378.5,108.2 L379.0,108.3 L379.5,108.0 L380.0,107.8 L380.5,108.0 L381.0,108.1 L381.5,108.1 L382.0,108.0 L382.5,108.0 L383.0,108.1 L383.5,108.2 L384.0,108.3 L384.5,108.1 L385.0,107.6 L385.5,107.3 L386.0,107.4 L386.5,107.5 L387.0,107.5 L387.5,107.1 L388.0,106.2 L388.5,105.0 L389.0,103.5 L389.5,101.2 L390.0,97.2 L390.5,90.9 L391.0,86.0 L391.1,86.1 L391.5,88.9 L392.0,95.7 L392.5,100.8 L393.0,103.5 L393.5,104.9 L394.0,105.8 L394.5,106.3 L395.0,106.6 L395.5,106.9 L396.0,107.2 L396.5,107.7 L397.0,108.3 L397.5,108.4 L398.0,108.2 L398.5,108.0 L399.0,107.9 L399.5,107.8 L400.0,107.8 L400.5,108.3 L401.0,108.5 L401.5,108.4 L402.0,108.4 L402.5,108.2 L403.0,108.1 L403.5,108.5 L404.0,108.7 L404.5,108.7 L405.0,108.7 L405.5,108.5 L406.0,108.1 L406.5,108.0 L407.0,108.2 L407.5,108.5 L408.0,108.9 L408.5,108.7 L409.0,108.5 L409.5,108.8 L410.0,108.6 L410.5,108.0 L411.0,108.1 L411.5,108.5 L412.0,108.3 L412.5,108.4 L413.0,108.8 L413.5,108.9 L414.0,109.0 L414.5,108.8 L415.0,108.9 L415.5,109.3 L416.0,109.4 L416.5,109.3 L417.0,109.0 L417.5,108.9 L418.0,108.9 L418.5,108.8 L419.0,108.9 L419.5,109.0 L420.0,109.0 L420.5,109.0 L421.0,108.9 L421.5,109.1 L422.0,109.2 L422.5,109.0 L423.0,109.0 L423.5,108.7 L424.0,108.2 L424.5,108.2 L425.0,108.3 L425.5,108.3 L426.0,108.3 L426.5,108.3 L427.0,108.6 L427.5,108.8 L428.0,109.1 L428.5,108.9 L429.0,108.5 L429.5,108.6 L430.0,108.7 L430.5,108.6 L431.0,108.5 L431.5,108.4 L432.0,108.5 L432.5,108.7 L433.0,108.9 L433.5,108.8 L434.0,108.3 L434.5,108.3 L435.0,108.8 L435.5,109.2 L436.0,109.3 L436.5,109.2 L437.0,109.3 L437.5,109.4 L438.0,109.1 L438.5,108.9 L439.0,108.7 L439.5,108.6" fill="none" stroke="#41589e" stroke-width="1.0" stroke-linejoin="round"/>
<path d="M258.5,124.7 L259.0,124.4 L259.5,123.7 L260.0,123.6 L260.5,124.0 L261.0,124.3 L261.5,124.1 L262.0,123.8 L262.5,124.1 L263.0,124.3 L263.5,124.2 L264.0,124.3 L264.5,124.5 L265.0,124.5 L265.5,124.4 L266.0,124.1 L266.5,124.3 L267.0,124.6 L267.5,124.3 L268.0,123.9 L268.5,123.7 L269.0,124.0 L269.5,124.5 L270.0,124.7 L270.5,124.6 L271.0,124.5 L271.5,124.4 L272.0,124.5 L272.5,124.4 L273.0,124.4 L273.5,124.4 L274.0,124.1 L274.5,123.6 L275.0,123.7 L275.5,123.9 L276.0,123.9 L276.5,123.7 L277.0,123.8 L277.5,124.1 L278.0,124.3 L278.5,124.2 L279.0,123.9 L279.5,123.9 L280.0,123.9 L280.5,123.8 L280.5,123.8 L281.0,123.7 L281.5,123.8 L282.0,124.0 L282.5,124.0 L283.0,124.1 L283.5,124.2 L284.0,124.1 L284.5,124.0 L285.0,124.0 L285.5,123.9 L286.0,123.8 L286.5,123.9 L287.0,123.9 L287.5,123.8 L288.0,123.9 L288.5,124.0 L289.0,124.0 L289.5,123.9 L290.0,123.8 L290.5,124.1 L291.0,124.0 L291.5,123.4 L292.0,123.4 L292.1,123.5 L292.5,123.3 L293.0,123.6 L293.5,124.1 L294.0,124.3 L294.5,124.3 L295.0,124.0 L295.5,124.0 L296.0,124.4 L296.5,124.4 L297.0,124.1 L297.5,124.1 L298.0,124.2 L298.5,123.9 L299.0,123.9 L299.5,124.2 L300.0,124.5 L300.5,124.5 L301.0,124.4 L301.5,124.4 L302.0,124.1 L302.5,124.2 L303.0,124.4 L303.5,124.0 L303.8,123.9 L304.0,124.0 L304.5,124.0 L305.0,124.2 L305.5,124.3 L306.0,124.2 L306.5,124.1 L307.0,124.2 L307.5,124.6 L308.0,124.4 L308.5,124.1 L309.0,124.0 L309.5,123.8 L310.0,123.7 L310.5,124.1 L311.0,124.4 L311.5,123.9 L312.0,123.6 L312.5,123.8 L313.0,124.0 L313.5,124.3 L314.0,124.3 L314.5,124.0 L315.0,123.6 L315.4,123.6 L315.5,123.8 L316.0,123.8 L316.5,124.1 L317.0,124.5 L317.5,124.1 L318.0,124.0 L318.5,124.2 L319.0,124.3 L319.5,124.5 L320.0,124.6 L320.5,124.5 L321.0,124.2 L321.5,124.0 L322.0,123.9 L322.5,124.0 L323.0,124.3 L323.5,124.4 L324.0,124.3 L324.5,124.1 L325.0,124.1 L325.5,124.2 L326.0,124.2 L326.5,124.1 L327.0,123.9 L327.5,123.8 L328.0,123.8 L328.5,123.6 L329.0,123.5 L329.5,123.7 L330.0,124.1 L330.5,123.8 L331.0,123.6 L331.5,123.9 L332.0,123.9 L332.5,123.7 L333.0,124.0 L333.5,124.0 L333.5,123.7 L334.0,123.8 L334.5,124.0 L335.0,124.0 L335.5,124.0 L336.0,124.3 L336.5,124.0 L337.0,123.6 L337.5,124.1 L338.0,124.3 L338.5,123.9 L339.0,123.9 L339.5,124.1 L340.0,124.0 L340.5,124.0 L341.0,124.2 L341.5,124.3 L342.0,124.1 L342.5,123.9 L343.0,123.7 L343.5,123.9 L344.0,123.9 L344.5,123.8 L345.0,124.2 L345.5,124.6 L346.0,124.5 L346.5,124.4 L347.0,124.2 L347.5,124.0 L348.0,124.1 L348.5,124.1 L349.0,124.2 L349.1,124.1 L349.5,124.0 L350.0,123.7 L350.5,123.7 L351.0,123.9 L351.5,124.0 L352.0,124.4 L352.5,124.4 L353.0,124.3 L353.5,124.4 L354.0,124.0 L354.5,123.4 L355.0,123.0 L355.5,123.1 L356.0,123.4 L356.5,123.4 L357.0,123.9 L357.5,124.2 L358.0,123.8 L358.5,123.2 L359.0,123.0 L359.5,123.0 L360.0,123.1 L360.5,122.8 L361.0,122.0 L361.3,121.8 L361.5,121.9 L362.0,122.3 L362.5,122.5 L363.0,122.8 L363.5,123.3 L364.0,123.5 L364.5,123.5 L365.0,123.5 L365.5,123.5 L366.0,123.4 L366.5,123.3 L367.0,123.6 L367.5,123.5 L368.0,123.1 L368.5,122.9 L369.0,122.6 L369.5,122.4 L369.7,122.4 L370.0,122.4 L370.5,122.7 L371.0,123.0 L371.5,122.9 L372.0,122.8 L372.5,122.9 L373.0,123.0 L373.5,123.1 L374.0,123.4 L374.5,123.4 L375.0,123.4 L375.5,123.3 L376.0,123.4 L376.5,123.6 L377.0,123.9 L377.5,123.8 L378.0,123.7 L378.5,124.0 L379.0,124.3 L379.5,124.4 L380.0,124.3 L380.5,124.2 L381.0,124.2 L381.5,123.9 L382.0,123.5 L382.5,123.4 L383.0,123.4 L383.5,123.4 L384.0,123.4 L384.5,123.5 L385.0,124.0 L385.5,124.2 L386.0,124.1 L386.5,123.9 L387.0,123.5 L387.5,123.2 L388.0,122.6 L388.5,121.7 L389.0,120.9 L389.5,120.1 L390.0,118.0 L390.5,114.5 L391.0,111.9 L391.1,111.9 L391.5,113.6 L392.0,117.1 L392.5,119.2 L393.0,120.9 L393.5,122.4 L394.0,123.0 L394.5,123.2 L395.0,123.5 L395.5,123.6 L396.0,123.6 L396.5,123.7 L397.0,124.0 L397.5,124.4 L398.0,124.6 L398.5,124.4 L399.0,124.2 L399.5,124.2 L400.0,124.0 L400.5,123.9 L401.0,123.9 L401.5,123.8 L402.0,123.8 L402.5,123.9 L403.0,124.4 L403.5,124.5 L404.0,124.2 L404.5,123.9 L405.0,123.8 L405.5,123.7 L406.0,123.6 L406.5,123.7 L407.0,124.0 L407.5,124.4 L408.0,124.7 L408.5,124.5 L409.0,123.8 L409.5,123.8 L410.0,124.4 L410.5,124.6 L411.0,124.6 L411.5,124.5 L412.0,124.5 L412.5,124.8 L413.0,124.7 L413.5,124.3 L414.0,124.0 L414.5,124.2 L415.0,124.6 L415.5,124.6 L416.0,124.4 L416.5,124.3 L417.0,124.3 L417.5,124.1 L418.0,124.2 L418.5,124.6 L419.0,124.7 L419.5,124.3 L420.0,124.1 L420.5,124.1 L421.0,124.1 L421.5,124.3 L422.0,124.4 L422.5,124.4 L423.0,124.3 L423.5,124.1 L424.0,123.8 L424.5,124.2 L425.0,124.5 L425.5,124.1 L426.0,124.0 L426.5,124.3 L427.0,124.4 L427.5,124.1 L428.0,124.1 L428.5,124.2 L429.0,123.7 L429.5,123.6 L430.0,123.6 L430.5,123.7 L431.0,124.5 L431.5,124.6 L432.0,124.0 L432.5,123.9 L433.0,124.2 L433.5,124.3 L434.0,124.3 L434.5,124.4 L435.0,124.4 L435.5,124.2 L436.0,124.4 L436.5,124.6 L437.0,124.5 L437.5,124.4 L438.0,124.3 L438.5,124.6 L439.0,124.7 L439.5,124.4" fill="none" stroke="#5d4890" stroke-width="1.0" stroke-linejoin="round"/>
<path d="M258.5,134.0 L259.0,134.0 L259.5,133.9 L260.0,133.9 L260.5,134.0 L261.0,134.1 L261.5,134.1 L262.0,134.2 L262.5,134.1 L263.0,133.5 L263.5,133.7 L264.0,134.2 L264.5,134.0 L265.0,133.8 L265.5,134.0 L266.0,134.3 L266.5,134.2 L267.0,133.8 L267.5,133.8 L268.0,134.0 L268.5,134.1 L269.0,134.0 L269.5,134.1 L270.0,134.2 L270.5,134.1 L271.0,133.9 L271.5,133.8 L272.0,133.5 L272.5,133.3 L273.0,133.4 L273.5,133.6 L274.0,134.0 L274.5,134.1 L275.0,133.4 L275.5,133.1 L276.0,133.8 L276.5,134.1 L277.0,134.2 L277.5,134.5 L278.0,134.5 L278.5,133.9 L279.0,133.4 L279.5,133.7 L280.0,134.0 L280.5,133.8 L280.5,133.6 L281.0,133.7 L281.5,133.7 L282.0,133.5 L282.5,133.7 L283.0,133.7 L283.5,133.7 L284.0,133.8 L284.5,134.0 L285.0,134.1 L285.5,134.0 L286.0,134.1 L286.5,134.2 L287.0,134.1 L287.5,133.9 L288.0,134.0 L288.5,133.9 L289.0,133.8 L289.5,134.1 L290.0,134.2 L290.5,133.8 L291.0,133.6 L291.5,133.5 L292.0,133.4 L292.1,133.6 L292.5,133.7 L293.0,133.4 L293.5,133.5 L294.0,133.9 L294.5,134.4 L295.0,134.4 L295.5,134.1 L296.0,133.8 L296.5,133.7 L297.0,133.9 L297.5,134.0 L298.0,134.2 L298.5,134.5 L299.0,134.2 L299.5,133.8 L300.0,133.8 L300.5,133.8 L301.0,133.6 L301.5,133.6 L302.0,133.7 L302.5,133.9 L303.0,133.8 L303.5,133.8 L303.8,133.9 L304.0,133.9 L304.5,133.8 L305.0,133.6 L305.5,133.5 L306.0,133.6 L306.5,133.9 L307.0,133.9 L307.5,133.9 L308.0,134.0 L308.5,134.0 L309.0,134.2 L309.5,134.1 L310.0,133.9 L310.5,134.0 L311.0,133.9 L311.5,133.9 L312.0,134.3 L312.5,134.5 L313.0,134.3 L313.5,134.2 L314.0,133.9 L314.5,133.5 L315.0,133.7 L315.4,133.9 L315.5,133.7 L316.0,133.6 L316.5,133.9 L317.0,134.1 L317.5,134.1 L318.0,133.9 L318.5,134.3 L319.0,134.3 L319.5,133.9 L320.0,133.8 L320.5,134.0 L321.0,134.0 L321.5,134.2 L322.0,134.2 L322.5,133.9 L323.0,133.4 L323.5,133.3 L324.0,133.6 L324.5,133.8 L325.0,134.3 L325.5,134.5 L326.0,134.3 L326.5,134.3 L327.0,134.4 L327.5,134.1 L328.0,133.6 L328.5,133.4 L329.0,133.6 L329.5,133.7 L330.0,133.7 L330.5,133.9 L331.0,134.1 L331.5,133.8 L332.0,133.5 L332.5,133.4 L333.0,133.6 L333.5,134.0 L333.5,134.1 L334.0,133.7 L334.5,133.7 L335.0,133.8 L335.5,133.4 L336.0,133.3 L336.5,133.6 L337.0,133.8 L337.5,133.9 L338.0,134.3 L338.5,135.0 L339.0,134.9 L339.5,134.3 L340.0,133.7 L340.5,133.6 L341.0,134.1 L341.5,134.3 L342.0,134.3 L342.5,134.4 L343.0,134.0 L343.5,133.4 L344.0,133.2 L344.5,133.6 L345.0,134.0 L345.5,134.1 L346.0,134.0 L346.5,133.8 L347.0,133.7 L347.5,134.0 L348.0,134.0 L348.5,133.6 L349.0,133.3 L349.1,133.4 L349.5,133.5 L350.0,133.6 L350.5,133.6 L351.0,133.7 L351.5,133.7 L352.0,134.2 L352.5,134.4 L353.0,133.9 L353.5,134.0 L354.0,134.6 L354.5,134.4 L355.0,134.1 L355.5,133.9 L356.0,133.6 L356.5,133.1 L357.0,132.9 L357.5,133.2 L358.0,133.6 L358.5,133.9 L359.0,133.6 L359.5,133.2 L360.0,133.1 L360.5,133.0 L361.0,132.8 L361.3,132.7 L361.5,132.8 L362.0,133.0 L362.5,133.2 L363.0,133.5 L363.5,133.2 L364.0,132.9 L364.5,133.2 L365.0,133.2 L365.5,133.3 L366.0,133.6 L366.5,133.7 L367.0,133.4 L367.5,133.1 L368.0,132.9 L368.5,132.9 L369.0,133.0 L369.5,133.2 L369.7,133.3 L370.0,133.4 L370.5,133.7 L371.0,134.0 L371.5,133.7 L372.0,133.6 L372.5,133.6 L373.0,133.4 L373.5,133.5 L374.0,133.9 L374.5,133.9 L375.0,133.6 L375.5,133.5 L376.0,133.7 L376.5,134.2 L377.0,134.5 L377.5,134.3 L378.0,133.9 L378.5,133.7 L379.0,133.4 L379.5,133.4 L380.0,133.9 L380.5,133.8 L381.0,133.4 L381.5,133.3 L382.0,133.5 L382.5,133.6 L383.0,134.0 L383.5,134.0 L384.0,133.6 L384.5,133.6 L385.0,134.0 L385.5,134.0 L386.0,133.7 L386.5,133.5 L387.0,133.5 L387.5,133.5 L388.0,133.4 L388.5,132.9 L389.0,132.4 L389.5,131.8 L390.0,130.6 L390.5,128.7 L391.0,127.3 L391.1,127.6 L391.5,128.6 L392.0,130.5 L392.5,131.9 L393.0,132.7 L393.5,133.2 L394.0,133.2 L394.5,133.0 L395.0,133.5 L395.5,133.8 L396.0,133.2 L396.5,132.9 L397.0,133.2 L397.5,133.6 L398.0,133.6 L398.5,133.4 L399.0,133.4 L399.5,133.5 L400.0,133.7 L400.5,133.9 L401.0,133.8 L401.5,133.7 L402.0,133.8 L402.5,133.9 L403.0,133.7 L403.5,133.6 L404.0,133.7 L404.5,133.6 L405.0,133.8 L405.5,134.2 L406.0,134.2 L406.5,134.2 L407.0,134.4 L407.5,134.4 L408.0,134.2 L408.5,133.8 L409.0,133.6 L409.5,133.9 L410.0,134.5 L410.5,134.4 L411.0,134.0 L411.5,133.9 L412.0,133.9 L412.5,133.8 L413.0,133.8 L413.5,134.1 L414.0,134.0 L414.5,133.8 L415.0,134.0 L415.5,134.2 L416.0,134.1 L416.5,134.0 L417.0,134.2 L417.5,134.5 L418.0,134.5 L418.5,134.1 L419.0,134.0 L419.5,133.9 L420.0,133.8 L420.5,133.7 L421.0,133.5 L421.5,133.4 L422.0,133.5 L422.5,133.8 L423.0,133.8 L423.5,133.6 L424.0,133.8 L424.5,134.0 L425.0,133.6 L425.5,133.5 L426.0,134.1 L426.5,134.2 L427.0,134.0 L427.5,133.7 L428.0,133.7 L428.5,134.0 L429.0,134.0 L429.5,134.1 L430.0,134.2 L430.5,133.9 L431.0,134.0 L431.5,134.5 L432.0,134.0 L432.5,133.6 L433.0,134.0 L433.5,134.3 L434.0,134.6 L434.5,134.6 L435.0,134.4 L435.5,134.3 L436.0,134.0 L436.5,133.6 L437.0,133.5 L437.5,133.4 L438.0,133.7 L438.5,134.1 L439.0,133.8 L439.5,133.4" fill="none" stroke="#9a5990" stroke-width="1.0" stroke-linejoin="round"/>
<line x1="264" y1="11.7" x2="282" y2="11.7" stroke="#3cbccc" stroke-width="1.0" stroke-opacity="0.55"/>
<text x="284.8" y="14.6" font-size="8.25" text-anchor="start" fill="#1e1a1a" font-weight="normal" stroke="#1e1a1a" stroke-width="0.18" letter-spacing="0">W-TNT-600</text>
<line x1="264" y1="21.7" x2="282" y2="21.7" stroke="#5aa4d8" stroke-width="1.0" stroke-opacity="0.55"/>
<text x="284.8" y="24.6" font-size="8.25" text-anchor="start" fill="#1e1a1a" font-weight="normal" stroke="#1e1a1a" stroke-width="0.18" letter-spacing="0">74% W-TNT-600</text>
<line x1="264" y1="31.5" x2="282" y2="31.5" stroke="#4a64b4" stroke-width="1.0" stroke-opacity="0.55"/>
<text x="284.8" y="34.4" font-size="8.25" text-anchor="start" fill="#1e1a1a" font-weight="normal" stroke="#1e1a1a" stroke-width="0.18" letter-spacing="0">54% W-TNT-600</text>
<line x1="264" y1="41.5" x2="282" y2="41.5" stroke="#6a52a4" stroke-width="1.0" stroke-opacity="0.55"/>
<text x="284.8" y="44.4" font-size="8.25" text-anchor="start" fill="#1e1a1a" font-weight="normal" stroke="#1e1a1a" stroke-width="0.18" letter-spacing="0">39% W-TNT-600</text>
<line x1="264" y1="51.5" x2="282" y2="51.5" stroke="#b066a4" stroke-width="1.0" stroke-opacity="0.55"/>
<text x="284.8" y="54.4" font-size="8.25" text-anchor="start" fill="#1e1a1a" font-weight="normal" stroke="#1e1a1a" stroke-width="0.18" letter-spacing="0">19% W-TNT-600</text>
<line x1="378.6" y1="22.5" x2="379.6" y2="15.9" stroke="#c9a0a0" stroke-width="0.9" stroke-linecap="round"/>
<line x1="371.7" y1="25.1" x2="367.1" y2="21.2" stroke="#c9a0a0" stroke-width="0.9" stroke-linecap="round"/>
<line x1="377.3" y1="37.6" x2="376.9" y2="43.5" stroke="#c9a0a0" stroke-width="0.9" stroke-linecap="round"/>
<line x1="405.5" y1="22.5" x2="405.2" y2="15.9" stroke="#c9a0a0" stroke-width="0.9" stroke-linecap="round"/>
<line x1="412.8" y1="25.5" x2="417.7" y2="22.1" stroke="#c9a0a0" stroke-width="0.9" stroke-linecap="round"/>
<line x1="406.8" y1="37.6" x2="407.6" y2="43.9" stroke="#c9a0a0" stroke-width="0.9" stroke-linecap="round"/>
<line x1="356.8" y1="31" x2="353.5" y2="27" stroke="#c9a0a0" stroke-width="0.9" stroke-linecap="round"/>
<line x1="356.8" y1="31" x2="352" y2="34.5" stroke="#c9a0a0" stroke-width="0.9" stroke-linecap="round"/>
<line x1="356.8" y1="31" x2="359" y2="28.5" stroke="#c9a0a0" stroke-width="0.9" stroke-linecap="round"/>
<line x1="362.5" y1="44.4" x2="358" y2="48" stroke="#c9a0a0" stroke-width="0.9" stroke-linecap="round"/>
<line x1="362.5" y1="44.4" x2="366" y2="47" stroke="#c9a0a0" stroke-width="0.9" stroke-linecap="round"/>
<line x1="362.5" y1="44.4" x2="362" y2="49" stroke="#c9a0a0" stroke-width="0.9" stroke-linecap="round"/>
<line x1="428.8" y1="30.8" x2="432" y2="27.5" stroke="#c9a0a0" stroke-width="0.9" stroke-linecap="round"/>
<line x1="428.8" y1="30.8" x2="433" y2="33" stroke="#c9a0a0" stroke-width="0.9" stroke-linecap="round"/>
<line x1="428.8" y1="30.8" x2="426" y2="27" stroke="#c9a0a0" stroke-width="0.9" stroke-linecap="round"/>
<line x1="422.9" y1="42.9" x2="419" y2="46" stroke="#c9a0a0" stroke-width="0.9" stroke-linecap="round"/>
<line x1="422.9" y1="42.9" x2="427" y2="45.5" stroke="#c9a0a0" stroke-width="0.9" stroke-linecap="round"/>
<line x1="422.9" y1="42.9" x2="424" y2="47.5" stroke="#c9a0a0" stroke-width="0.9" stroke-linecap="round"/>
<line x1="378.6" y1="22.5" x2="385.7" y2="26.8" stroke="#9a7560" stroke-width="1.2" stroke-linecap="round"/>
<line x1="405.5" y1="22.5" x2="412.8" y2="25.5" stroke="#9a7560" stroke-width="1.2" stroke-linecap="round"/>
<line x1="385.7" y1="26.8" x2="384.4" y2="35" stroke="#9a7560" stroke-width="1.2" stroke-linecap="round"/>
<line x1="412.8" y1="25.5" x2="413.7" y2="33.4" stroke="#9a7560" stroke-width="1.2" stroke-linecap="round"/>
<line x1="384.4" y1="35" x2="377.3" y2="37.6" stroke="#9a7560" stroke-width="1.2" stroke-linecap="round"/>
<line x1="413.7" y1="33.4" x2="406.8" y2="37.6" stroke="#9a7560" stroke-width="1.2" stroke-linecap="round"/>
<line x1="377.3" y1="37.6" x2="370.4" y2="33.4" stroke="#9a7560" stroke-width="1.2" stroke-linecap="round"/>
<line x1="406.8" y1="37.6" x2="399.7" y2="35" stroke="#9a7560" stroke-width="1.2" stroke-linecap="round"/>
<line x1="370.4" y1="33.4" x2="371.7" y2="25.1" stroke="#9a7560" stroke-width="1.2" stroke-linecap="round"/>
<line x1="399.7" y1="35" x2="398.4" y2="26.8" stroke="#9a7560" stroke-width="1.2" stroke-linecap="round"/>
<line x1="371.7" y1="25.1" x2="378.6" y2="22.5" stroke="#9a7560" stroke-width="1.2" stroke-linecap="round"/>
<line x1="398.4" y1="26.8" x2="405.5" y2="22.5" stroke="#9a7560" stroke-width="1.2" stroke-linecap="round"/>
<line x1="385.7" y1="26.8" x2="392" y2="23.1" stroke="#8a6e70" stroke-width="1.2" stroke-linecap="round"/>
<line x1="392" y1="23.1" x2="398.4" y2="26.8" stroke="#8a6e70" stroke-width="1.2" stroke-linecap="round"/>
<line x1="384.4" y1="35" x2="392" y2="41.1" stroke="#9a7a48" stroke-width="1.2" stroke-linecap="round"/>
<line x1="392" y1="41.1" x2="399.7" y2="35" stroke="#9a7a48" stroke-width="1.2" stroke-linecap="round"/>
<line x1="370.4" y1="33.4" x2="363.8" y2="35.9" stroke="#8a6e70" stroke-width="1.2" stroke-linecap="round"/>
<line x1="363.8" y1="35.9" x2="356.8" y2="31" stroke="#8a6e70" stroke-width="1.2" stroke-linecap="round"/>
<line x1="363.8" y1="35.9" x2="362.5" y2="44.4" stroke="#8a6e70" stroke-width="1.2" stroke-linecap="round"/>
<line x1="413.7" y1="33.4" x2="421" y2="36.3" stroke="#8a6e70" stroke-width="1.2" stroke-linecap="round"/>
<line x1="421" y1="36.3" x2="428.8" y2="30.8" stroke="#8a6e70" stroke-width="1.2" stroke-linecap="round"/>
<line x1="421" y1="36.3" x2="422.9" y2="42.9" stroke="#8a6e70" stroke-width="1.2" stroke-linecap="round"/>
<circle cx="379.6" cy="15.9" r="1.3" fill="url(#gH)"/>
<circle cx="367.1" cy="21.2" r="1.3" fill="url(#gH)"/>
<circle cx="376.9" cy="43.5" r="1.3" fill="url(#gH)"/>
<circle cx="405.2" cy="15.9" r="1.3" fill="url(#gH)"/>
<circle cx="417.7" cy="22.1" r="1.3" fill="url(#gH)"/>
<circle cx="407.6" cy="43.9" r="1.3" fill="url(#gH)"/>
<circle cx="353.5" cy="27" r="1.3" fill="url(#gH)"/>
<circle cx="352" cy="34.5" r="1.3" fill="url(#gH)"/>
<circle cx="359" cy="28.5" r="1.3" fill="url(#gH)"/>
<circle cx="358" cy="48" r="1.3" fill="url(#gH)"/>
<circle cx="366" cy="47" r="1.3" fill="url(#gH)"/>
<circle cx="362" cy="49" r="1.3" fill="url(#gH)"/>
<circle cx="432" cy="27.5" r="1.3" fill="url(#gH)"/>
<circle cx="433" cy="33" r="1.3" fill="url(#gH)"/>
<circle cx="426" cy="27" r="1.3" fill="url(#gH)"/>
<circle cx="419" cy="46" r="1.3" fill="url(#gH)"/>
<circle cx="427" cy="45.5" r="1.3" fill="url(#gH)"/>
<circle cx="424" cy="47.5" r="1.3" fill="url(#gH)"/>
<circle cx="378.6" cy="22.5" r="1.85" fill="url(#gC)"/>
<circle cx="385.7" cy="26.8" r="1.85" fill="url(#gC)"/>
<circle cx="384.4" cy="35" r="1.85" fill="url(#gC)"/>
<circle cx="377.3" cy="37.6" r="1.85" fill="url(#gC)"/>
<circle cx="370.4" cy="33.4" r="1.85" fill="url(#gC)"/>
<circle cx="371.7" cy="25.1" r="1.85" fill="url(#gC)"/>
<circle cx="405.5" cy="22.5" r="1.85" fill="url(#gC)"/>
<circle cx="412.8" cy="25.5" r="1.85" fill="url(#gC)"/>
<circle cx="413.7" cy="33.4" r="1.85" fill="url(#gC)"/>
<circle cx="406.8" cy="37.6" r="1.85" fill="url(#gC)"/>
<circle cx="399.7" cy="35" r="1.85" fill="url(#gC)"/>
<circle cx="398.4" cy="26.8" r="1.85" fill="url(#gC)"/>
<circle cx="356.8" cy="31" r="1.85" fill="url(#gC)"/>
<circle cx="362.5" cy="44.4" r="1.85" fill="url(#gC)"/>
<circle cx="428.8" cy="30.8" r="1.85" fill="url(#gC)"/>
<circle cx="422.9" cy="42.9" r="1.85" fill="url(#gC)"/>
<circle cx="392" cy="23.1" r="2.0" fill="url(#gN)"/>
<circle cx="363.8" cy="35.9" r="2.0" fill="url(#gN)"/>
<circle cx="421" cy="36.3" r="2.0" fill="url(#gN)"/>
<circle cx="392" cy="41.1" r="2.5" fill="url(#gS)"/>
<text x="221.8" y="24" font-size="24.5" text-anchor="start" fill="#231815" font-weight="bold" >b</text>
<rect x="33.7" y="172.8" width="180" height="135" fill="none" stroke="#3a3a3a" stroke-width="1"/>
<line x1="33.7" y1="307.8" x2="33.7" y2="310.3" stroke="#3a3a3a" stroke-width="0.9" />
<text x="33.7" y="318.4" font-size="8.25" text-anchor="middle" fill="#1e1a1a" font-weight="normal" stroke="#1e1a1a" stroke-width="0.18" >600</text>
<line x1="46.56" y1="307.8" x2="46.56" y2="309.3" stroke="#3a3a3a" stroke-width="0.9" />
<line x1="59.41" y1="307.8" x2="59.41" y2="310.3" stroke="#3a3a3a" stroke-width="0.9" />
<text x="59.41" y="318.4" font-size="8.25" text-anchor="middle" fill="#1e1a1a" font-weight="normal" stroke="#1e1a1a" stroke-width="0.18" >800</text>
<line x1="72.27" y1="307.8" x2="72.27" y2="309.3" stroke="#3a3a3a" stroke-width="0.9" />
<line x1="85.13" y1="307.8" x2="85.13" y2="310.3" stroke="#3a3a3a" stroke-width="0.9" />
<text x="85.13" y="318.4" font-size="8.25" text-anchor="middle" fill="#1e1a1a" font-weight="normal" stroke="#1e1a1a" stroke-width="0.18" >1000</text>
<line x1="97.99" y1="307.8" x2="97.99" y2="309.3" stroke="#3a3a3a" stroke-width="0.9" />
<line x1="110.84" y1="307.8" x2="110.84" y2="310.3" stroke="#3a3a3a" stroke-width="0.9" />
<text x="110.84" y="318.4" font-size="8.25" text-anchor="middle" fill="#1e1a1a" font-weight="normal" stroke="#1e1a1a" stroke-width="0.18" >1200</text>
<line x1="123.7" y1="307.8" x2="123.7" y2="309.3" stroke="#3a3a3a" stroke-width="0.9" />
<line x1="136.56" y1="307.8" x2="136.56" y2="310.3" stroke="#3a3a3a" stroke-width="0.9" />
<text x="136.56" y="318.4" font-size="8.25" text-anchor="middle" fill="#1e1a1a" font-weight="normal" stroke="#1e1a1a" stroke-width="0.18" >1400</text>
<line x1="149.41" y1="307.8" x2="149.41" y2="309.3" stroke="#3a3a3a" stroke-width="0.9" />
<line x1="162.27" y1="307.8" x2="162.27" y2="310.3" stroke="#3a3a3a" stroke-width="0.9" />
<text x="162.27" y="318.4" font-size="8.25" text-anchor="middle" fill="#1e1a1a" font-weight="normal" stroke="#1e1a1a" stroke-width="0.18" >1600</text>
<line x1="175.13" y1="307.8" x2="175.13" y2="309.3" stroke="#3a3a3a" stroke-width="0.9" />
<line x1="187.99" y1="307.8" x2="187.99" y2="310.3" stroke="#3a3a3a" stroke-width="0.9" />
<text x="187.99" y="318.4" font-size="8.25" text-anchor="middle" fill="#1e1a1a" font-weight="normal" stroke="#1e1a1a" stroke-width="0.18" >1800</text>
<line x1="200.84" y1="307.8" x2="200.84" y2="309.3" stroke="#3a3a3a" stroke-width="0.9" />
<line x1="213.7" y1="307.8" x2="213.7" y2="310.3" stroke="#3a3a3a" stroke-width="0.9" />
<text x="213.7" y="318.4" font-size="8.25" text-anchor="middle" fill="#1e1a1a" font-weight="normal" stroke="#1e1a1a" stroke-width="0.18" >2000</text>
<line x1="32.2" y1="294.52" x2="33.7" y2="294.52" stroke="#3a3a3a" stroke-width="0.9" />
<line x1="32.2" y1="278.35" x2="33.7" y2="278.35" stroke="#3a3a3a" stroke-width="0.9" />
<line x1="32.2" y1="262.18" x2="33.7" y2="262.18" stroke="#3a3a3a" stroke-width="0.9" />
<line x1="32.2" y1="246.01" x2="33.7" y2="246.01" stroke="#3a3a3a" stroke-width="0.9" />
<line x1="32.2" y1="229.84" x2="33.7" y2="229.84" stroke="#3a3a3a" stroke-width="0.9" />
<line x1="32.2" y1="213.67" x2="33.7" y2="213.67" stroke="#3a3a3a" stroke-width="0.9" />
<line x1="32.2" y1="197.5" x2="33.7" y2="197.5" stroke="#3a3a3a" stroke-width="0.9" />
<line x1="32.2" y1="181.33" x2="33.7" y2="181.33" stroke="#3a3a3a" stroke-width="0.9" />
<line x1="31.2" y1="302.6" x2="33.7" y2="302.6" stroke="#3a3a3a" stroke-width="0.9" />
<text x="29.7" y="305" font-size="8.25" text-anchor="end" fill="#1e1a1a" font-weight="normal" stroke="#1e1a1a" stroke-width="0.18" >0</text>
<line x1="31.2" y1="286.43" x2="33.7" y2="286.43" stroke="#3a3a3a" stroke-width="0.9" />
<text x="29.7" y="288.83" font-size="8.25" text-anchor="end" fill="#1e1a1a" font-weight="normal" stroke="#1e1a1a" stroke-width="0.18" >10</text>
<line x1="31.2" y1="270.26" x2="33.7" y2="270.26" stroke="#3a3a3a" stroke-width="0.9" />
<text x="29.7" y="272.66" font-size="8.25" text-anchor="end" fill="#1e1a1a" font-weight="normal" stroke="#1e1a1a" stroke-width="0.18" >20</text>
<line x1="31.2" y1="254.09" x2="33.7" y2="254.09" stroke="#3a3a3a" stroke-width="0.9" />
<text x="29.7" y="256.49" font-size="8.25" text-anchor="end" fill="#1e1a1a" font-weight="normal" stroke="#1e1a1a" stroke-width="0.18" >30</text>
<line x1="31.2" y1="237.92" x2="33.7" y2="237.92" stroke="#3a3a3a" stroke-width="0.9" />
<text x="29.7" y="240.32" font-size="8.25" text-anchor="end" fill="#1e1a1a" font-weight="normal" stroke="#1e1a1a" stroke-width="0.18" >40</text>
<line x1="31.2" y1="221.75" x2="33.7" y2="221.75" stroke="#3a3a3a" stroke-width="0.9" />
<text x="29.7" y="224.15" font-size="8.25" text-anchor="end" fill="#1e1a1a" font-weight="normal" stroke="#1e1a1a" stroke-width="0.18" >50</text>
<line x1="31.2" y1="205.58" x2="33.7" y2="205.58" stroke="#3a3a3a" stroke-width="0.9" />
<text x="29.7" y="207.98" font-size="8.25" text-anchor="end" fill="#1e1a1a" font-weight="normal" stroke="#1e1a1a" stroke-width="0.18" >60</text>
<line x1="31.2" y1="189.41" x2="33.7" y2="189.41" stroke="#3a3a3a" stroke-width="0.9" />
<text x="29.7" y="191.81" font-size="8.25" text-anchor="end" fill="#1e1a1a" font-weight="normal" stroke="#1e1a1a" stroke-width="0.18" >70</text>
<line x1="31.2" y1="173.24" x2="33.7" y2="173.24" stroke="#3a3a3a" stroke-width="0.9" />
<text x="29.7" y="175.64" font-size="8.25" text-anchor="end" fill="#1e1a1a" font-weight="normal" stroke="#1e1a1a" stroke-width="0.18" >80</text>
<text x="127.2" y="328.6" font-size="8.25" text-anchor="middle" fill="#1e1a1a" stroke="#1e1a1a" stroke-width="0.18">Raman shift (cm<tspan font-size="5" dy="-3">-1</tspan><tspan dy="3">)</tspan></text>
<text transform="translate(15.5,241.5) rotate(-90)" x="0" y="0" font-size="8" text-anchor="middle" fill="#1e1a1a" stroke="#1e1a1a" stroke-width="0.18">Intensity (10<tspan font-size="5" dy="-3">3</tspan><tspan dy="3"> counts)</tspan></text>
<path d="M33.7,226.4 L34.2,226.3 L34.7,225.8 L35.2,225.7 L35.7,226.1 L36.2,226.4 L36.7,226.0 L37.2,225.3 L37.6,225.3 L37.7,225.6 L38.2,226.0 L38.7,225.9 L39.2,225.8 L39.7,225.9 L40.2,225.9 L40.7,225.8 L41.2,225.9 L41.7,226.2 L42.2,226.4 L42.7,226.3 L43.2,226.1 L43.7,226.0 L44.2,226.1 L44.7,226.1 L45.2,225.9 L45.7,226.0 L46.2,226.2 L46.7,226.1 L47.2,226.4 L47.7,226.7 L48.2,226.7 L48.7,226.4 L49.2,225.9 L49.7,225.8 L50.2,226.0 L50.7,226.1 L51.2,226.1 L51.7,226.1 L52.2,226.0 L52.7,225.9 L53.2,225.8 L53.7,226.0 L54.2,226.3 L54.7,226.1 L55.2,225.7 L55.7,225.3 L56.2,225.2 L56.7,225.6 L57.2,226.0 L57.7,226.1 L58.2,225.8 L58.7,225.7 L59.2,225.7 L59.7,225.2 L60.2,225.0 L60.7,225.1 L61.2,225.1 L61.7,225.4 L62.2,225.8 L62.7,225.8 L63.2,225.8 L63.7,225.8 L64.2,225.3 L64.7,224.9 L65.2,225.2 L65.7,225.6 L66.2,225.5 L66.7,225.6 L67.2,226.1 L67.7,226.1 L68.2,225.7 L68.7,225.7 L69.2,226.0 L69.7,226.0 L70.2,225.9 L70.7,226.2 L71.2,226.1 L71.7,226.1 L72.2,226.1 L72.7,226.3 L73.2,226.5 L73.7,226.4 L74.2,226.0 L74.7,225.7 L75.2,225.6 L75.7,225.8 L76.2,226.1 L76.7,225.6 L77.2,225.4 L77.7,226.2 L78.2,226.5 L78.7,226.2 L79.2,226.1 L79.7,225.8 L80.2,225.8 L80.7,226.1 L81.2,226.1 L81.7,226.1 L82.2,226.4 L82.7,226.4 L83.2,226.0 L83.7,225.7 L84.2,225.8 L84.7,225.9 L85.2,226.0 L85.7,226.1 L86.2,226.0 L86.7,226.1 L87.2,226.2 L87.7,226.4 L88.2,226.4 L88.7,225.8 L89.2,225.6 L89.7,225.7 L90.2,226.1 L90.7,226.3 L91.2,225.8 L91.7,225.7 L92.2,225.9 L92.7,225.9 L93.2,225.5 L93.7,224.8 L94.2,223.8 L94.6,222.6 L94.7,222.5 L95.2,224.2 L95.7,225.2 L96.2,225.3 L96.7,225.4 L97.2,225.7 L97.7,225.8 L98.2,225.7 L98.7,225.4 L99.2,225.4 L99.7,226.0 L100.2,226.0 L100.7,225.5 L101.2,225.4 L101.7,225.6 L102.2,225.5 L102.7,225.6 L103.2,226.1 L103.7,226.2 L104.2,226.0 L104.7,226.0 L105.2,226.2 L105.7,226.2 L106.2,226.2 L106.7,226.3 L107.2,226.1 L107.7,225.3 L108.2,224.3 L108.3,224.2 L108.7,224.8 L109.2,225.4 L109.7,225.7 L110.2,226.0 L110.7,225.9 L111.2,225.8 L111.7,226.0 L112.2,226.0 L112.7,225.8 L113.2,225.6 L113.7,225.4 L114.2,225.5 L114.7,225.7 L115.2,226.0 L115.7,226.2 L116.2,226.4 L116.7,226.3 L117.2,226.3 L117.7,226.3 L118.2,226.2 L118.7,226.1 L119.2,225.9 L119.7,225.6 L120.2,225.5 L120.7,225.5 L121.2,225.3 L121.7,224.7 L122.2,224.4 L122.4,224.6 L122.7,224.8 L123.2,224.8 L123.7,224.8 L124.2,225.1 L124.7,225.1 L125.2,224.9 L125.7,225.5 L126.2,225.9 L126.7,225.7 L127.2,225.9 L127.7,226.3 L128.2,226.4 L128.7,226.2 L129.2,225.8 L129.7,225.9 L130.2,226.5 L130.7,226.4 L131.2,226.2 L131.7,226.5 L132.2,226.4 L132.7,225.9 L133.2,225.7 L133.7,225.8 L134.2,225.8 L134.7,225.7 L135.2,225.6 L135.7,225.6 L136.2,225.8 L136.7,225.9 L137.2,226.1 L137.7,226.3 L138.2,226.2 L138.7,226.2 L139.2,226.4 L139.7,226.1 L140.2,225.6 L140.7,225.7 L141.2,225.8 L141.7,225.9 L142.2,225.8 L142.7,225.4 L143.2,225.4 L143.7,226.1 L144.2,226.0 L144.7,225.7 L145.2,226.0 L145.7,226.2 L146.2,225.7 L146.7,225.4 L147.2,225.4 L147.7,225.4 L148.2,225.4 L148.7,225.5 L149.2,225.6 L149.7,226.1 L150.2,226.4 L150.7,226.1 L151.2,226.2 L151.7,226.1 L152.2,225.5 L152.7,225.7 L153.2,225.9 L153.7,225.9 L154.2,226.0 L154.7,225.9 L155.2,225.9 L155.7,225.8 L156.2,225.7 L156.7,225.9 L157.2,226.3 L157.7,225.9 L158.2,225.7 L158.7,226.1 L159.2,226.1 L159.7,225.3 L160.2,224.5 L160.7,223.6 L161.2,221.5 L161.7,217.9 L161.8,217.7 L162.2,219.8 L162.7,221.8 L163.2,223.0 L163.7,223.9 L164.2,224.3 L164.7,224.3 L165.2,224.4 L165.7,224.4 L165.9,224.4 L166.2,224.6 L166.7,224.8 L167.2,224.6 L167.7,224.7 L168.2,225.1 L168.7,225.4 L169.2,225.5 L169.7,225.5 L170.2,225.7 L170.7,226.2 L171.2,226.6 L171.7,226.5 L172.2,226.2 L172.7,226.1 L173.2,226.0 L173.7,226.1 L174.2,226.2 L174.7,226.2 L175.2,226.1 L175.7,225.8 L176.2,225.9 L176.7,226.1 L177.2,226.2 L177.7,226.2 L178.2,225.9 L178.7,225.6 L179.2,225.8 L179.7,226.0 L180.2,226.1 L180.7,225.9 L181.2,225.6 L181.7,225.7 L182.2,226.0 L182.7,226.2 L183.2,226.2 L183.7,225.9 L184.2,225.9 L184.7,225.9 L185.2,225.8 L185.7,226.1 L186.2,226.1 L186.7,226.2 L187.2,226.4 L187.7,226.6 L188.2,226.5 L188.7,225.9 L189.2,225.6 L189.7,225.9 L190.2,226.2 L190.7,226.0 L191.2,225.7 L191.7,225.6 L192.2,225.7 L192.7,225.9 L193.2,225.8 L193.7,226.0 L194.2,226.2 L194.7,226.2 L195.2,226.3 L195.7,226.2 L196.2,226.1 L196.7,226.3 L197.2,226.2 L197.7,225.9 L198.2,225.8 L198.7,226.0 L199.2,226.2 L199.7,226.3 L200.2,226.1 L200.7,225.7 L201.2,225.6 L201.7,225.9 L202.2,226.3 L202.7,226.3 L203.2,225.9 L203.7,225.7 L204.2,226.0 L204.7,225.9 L205.2,225.9 L205.7,226.4 L206.2,226.4 L206.7,226.2 L207.2,226.0 L207.7,226.0 L208.2,226.1 L208.7,226.0 L209.2,225.8 L209.7,225.7 L210.2,225.8 L210.7,226.3 L211.2,226.6 L211.7,226.1 L212.2,225.6 L212.7,225.6 L213.2,225.9 L213.7,226.1" fill="none" stroke="#c55d60" stroke-width="1.0" stroke-linejoin="round"/>
<path d="M33.7,243.8 L34.2,244.1 L34.7,244.5 L35.2,244.2 L35.7,243.7 L36.2,243.6 L36.7,243.2 L37.2,242.8 L37.6,242.9 L37.7,243.0 L38.2,243.3 L38.7,243.3 L39.2,242.9 L39.7,242.9 L40.2,243.0 L40.7,243.0 L41.2,243.3 L41.7,243.7 L42.2,243.7 L42.7,243.5 L43.2,243.6 L43.7,243.9 L44.2,243.8 L44.7,243.7 L45.2,243.8 L45.7,243.9 L46.2,243.9 L46.7,243.7 L47.2,243.4 L47.7,243.3 L48.2,243.8 L48.7,244.2 L49.2,244.0 L49.7,244.1 L50.2,244.1 L50.7,243.9 L51.2,244.0 L51.7,244.1 L52.2,243.7 L52.7,243.6 L53.2,243.9 L53.7,244.1 L54.2,244.2 L54.7,243.8 L55.2,243.3 L55.7,243.2 L56.2,243.3 L56.7,243.5 L57.2,243.6 L57.7,243.1 L58.2,243.0 L58.7,243.0 L59.2,242.9 L59.7,242.6 L60.2,242.0 L60.7,241.8 L61.2,241.9 L61.7,242.5 L62.2,243.5 L62.7,243.6 L63.2,243.3 L63.7,243.2 L64.2,243.2 L64.7,243.6 L65.2,243.9 L65.7,243.5 L66.2,243.4 L66.7,243.6 L67.2,243.7 L67.7,243.5 L68.2,243.3 L68.7,243.4 L69.2,243.6 L69.7,243.8 L70.2,243.8 L70.7,243.5 L71.2,243.2 L71.7,243.3 L72.2,243.4 L72.7,243.5 L73.2,243.5 L73.7,243.4 L74.2,243.4 L74.7,243.8 L75.2,244.0 L75.7,243.7 L76.2,243.6 L76.7,243.4 L77.2,243.2 L77.7,243.7 L78.2,244.0 L78.7,243.7 L79.2,243.3 L79.7,243.5 L80.2,243.5 L80.7,243.5 L81.2,243.5 L81.7,243.1 L82.2,242.8 L82.7,243.2 L83.2,243.8 L83.7,243.8 L84.2,243.4 L84.7,243.5 L85.2,243.9 L85.7,244.0 L86.2,243.7 L86.7,243.9 L87.2,244.4 L87.7,244.1 L88.2,243.7 L88.7,243.7 L89.2,243.8 L89.7,243.8 L90.2,243.7 L90.7,243.5 L91.2,243.5 L91.7,243.4 L92.2,243.2 L92.7,242.9 L93.2,242.6 L93.7,242.2 L94.2,240.0 L94.6,237.7 L94.7,237.8 L95.2,240.4 L95.7,242.1 L96.2,242.8 L96.7,243.3 L97.2,243.5 L97.7,243.4 L98.2,243.6 L98.7,243.5 L99.2,243.3 L99.7,243.5 L100.2,243.8 L100.7,243.7 L101.2,243.7 L101.7,243.5 L102.2,243.6 L102.7,243.7 L103.2,243.6 L103.7,243.8 L104.2,243.8 L104.7,243.5 L105.2,243.5 L105.7,243.4 L106.2,243.4 L106.7,243.3 L107.2,242.8 L107.7,241.5 L108.2,240.2 L108.3,240.6 L108.7,241.7 L109.2,242.6 L109.7,243.0 L110.2,243.3 L110.7,243.8 L111.2,243.7 L111.7,243.4 L112.2,243.4 L112.7,243.8 L113.2,244.1 L113.7,244.2 L114.2,243.9 L114.7,243.3 L115.2,243.3 L115.7,243.7 L116.2,243.5 L116.7,243.4 L117.2,243.5 L117.7,243.6 L118.2,243.4 L118.7,243.0 L119.2,242.7 L119.7,242.6 L120.2,242.7 L120.7,242.3 L121.2,241.8 L121.7,241.7 L122.2,241.3 L122.4,241.0 L122.7,241.0 L123.2,241.5 L123.7,242.1 L124.2,242.6 L124.7,242.8 L125.2,242.8 L125.7,242.6 L126.2,243.0 L126.7,243.6 L127.2,243.9 L127.7,243.7 L128.2,243.2 L128.7,243.0 L129.2,243.6 L129.7,244.1 L130.2,243.9 L130.7,243.3 L131.2,243.1 L131.7,243.4 L132.2,243.6 L132.7,243.7 L133.2,243.5 L133.7,243.1 L134.2,243.4 L134.7,243.8 L135.2,243.5 L135.7,243.2 L136.2,243.1 L136.7,243.5 L137.2,244.2 L137.7,244.2 L138.2,243.9 L138.7,243.8 L139.2,243.5 L139.7,243.3 L140.2,243.4 L140.7,243.6 L141.2,244.1 L141.7,244.4 L142.2,244.1 L142.7,243.8 L143.2,243.7 L143.7,243.7 L144.2,243.6 L144.7,243.5 L145.2,243.7 L145.7,243.9 L146.2,243.9 L146.7,243.6 L147.2,243.7 L147.7,243.7 L148.2,243.3 L148.7,243.0 L149.2,243.4 L149.7,243.8 L150.2,244.0 L150.7,244.2 L151.2,244.0 L151.7,243.5 L152.2,243.6 L152.7,243.8 L153.2,243.7 L153.7,243.6 L154.2,244.0 L154.7,244.4 L155.2,244.1 L155.7,243.6 L156.2,243.1 L156.7,242.9 L157.2,243.1 L157.7,243.2 L158.2,243.0 L158.7,242.9 L159.2,243.0 L159.7,242.5 L160.2,241.1 L160.7,239.0 L161.2,234.8 L161.7,228.6 L161.8,228.4 L162.2,231.7 L162.7,235.4 L163.2,237.4 L163.7,238.8 L164.2,239.4 L164.7,239.8 L165.2,240.1 L165.7,240.4 L165.9,240.3 L166.2,240.1 L166.7,240.5 L167.2,241.2 L167.7,241.7 L168.2,242.2 L168.7,242.5 L169.2,242.5 L169.7,242.7 L170.2,242.9 L170.7,242.6 L171.2,242.4 L171.7,242.9 L172.2,243.3 L172.7,243.2 L173.2,243.0 L173.7,243.1 L174.2,243.3 L174.7,243.1 L175.2,243.1 L175.7,243.6 L176.2,244.0 L176.7,243.7 L177.2,243.2 L177.7,243.1 L178.2,243.2 L178.7,243.2 L179.2,243.3 L179.7,243.7 L180.2,243.8 L180.7,243.7 L181.2,243.6 L181.7,243.6 L182.2,243.8 L182.7,243.7 L183.2,243.4 L183.7,243.5 L184.2,243.7 L184.7,243.7 L185.2,243.5 L185.7,243.4 L186.2,243.5 L186.7,243.6 L187.2,243.5 L187.7,243.3 L188.2,243.3 L188.7,243.6 L189.2,243.7 L189.7,243.6 L190.2,243.8 L190.7,243.8 L191.2,243.5 L191.7,243.4 L192.2,243.8 L192.7,244.3 L193.2,244.3 L193.7,243.8 L194.2,243.7 L194.7,243.9 L195.2,243.8 L195.7,243.6 L196.2,243.8 L196.7,244.0 L197.2,244.0 L197.7,243.9 L198.2,243.8 L198.7,243.5 L199.2,243.6 L199.7,243.6 L200.2,243.6 L200.7,244.1 L201.2,244.3 L201.7,244.0 L202.2,244.0 L202.7,244.2 L203.2,243.8 L203.7,243.2 L204.2,243.2 L204.7,243.4 L205.2,243.3 L205.7,243.3 L206.2,243.7 L206.7,244.0 L207.2,244.1 L207.7,243.9 L208.2,243.6 L208.7,243.7 L209.2,244.0 L209.7,244.3 L210.2,244.4 L210.7,244.1 L211.2,243.8 L211.7,243.8 L212.2,243.6 L212.7,243.4 L213.2,243.9 L213.7,244.5" fill="none" stroke="#489a77" stroke-width="1.0" stroke-linejoin="round"/>
<path d="M33.7,272.2 L34.2,271.6 L34.7,271.4 L35.2,271.3 L35.7,271.1 L36.2,271.0 L36.7,270.8 L37.2,270.5 L37.6,270.5 L37.7,270.7 L38.2,271.1 L38.7,271.5 L39.2,271.6 L39.7,271.5 L40.2,271.3 L40.7,271.0 L41.2,271.0 L41.7,271.3 L42.2,271.5 L42.7,271.6 L43.2,271.5 L43.7,271.2 L44.2,271.1 L44.7,271.3 L45.2,271.6 L45.7,271.6 L46.2,271.4 L46.7,271.2 L47.2,271.0 L47.7,271.2 L48.2,271.5 L48.7,271.4 L49.2,271.2 L49.7,271.3 L50.2,271.3 L50.7,271.2 L51.2,271.3 L51.7,271.4 L52.2,271.6 L52.7,271.7 L53.2,271.5 L53.7,271.4 L54.2,271.5 L54.7,271.6 L55.2,271.6 L55.7,271.2 L56.2,270.8 L56.7,270.7 L57.2,270.9 L57.7,271.0 L58.2,270.9 L58.7,270.6 L59.2,270.1 L59.7,269.4 L60.2,269.1 L60.7,269.2 L61.2,269.2 L61.7,269.3 L62.2,269.9 L62.7,270.1 L63.2,270.0 L63.7,270.3 L64.2,270.3 L64.7,270.8 L65.2,271.7 L65.7,272.1 L66.2,271.9 L66.7,271.8 L67.2,271.9 L67.7,271.6 L68.2,270.9 L68.7,270.8 L69.2,271.1 L69.7,270.7 L70.2,270.4 L70.7,271.0 L71.2,271.3 L71.7,271.4 L72.2,271.6 L72.7,271.6 L73.2,271.6 L73.7,271.6 L74.2,271.4 L74.7,271.8 L75.2,272.0 L75.7,271.6 L76.2,271.5 L76.7,271.6 L77.2,271.4 L77.7,271.2 L78.2,271.1 L78.7,271.2 L79.2,271.6 L79.7,271.9 L80.2,271.8 L80.7,271.4 L81.2,271.4 L81.7,271.9 L82.2,271.7 L82.7,271.1 L83.2,271.1 L83.7,271.2 L84.2,271.1 L84.7,271.0 L85.2,271.1 L85.7,271.3 L86.2,271.5 L86.7,271.7 L87.2,271.5 L87.7,271.0 L88.2,270.8 L88.7,271.2 L89.2,271.7 L89.7,271.7 L90.2,271.5 L90.7,271.6 L91.2,271.4 L91.7,271.1 L92.2,271.0 L92.7,270.5 L93.2,269.6 L93.7,268.3 L94.2,265.2 L94.6,262.3 L94.7,262.1 L95.2,266.1 L95.7,269.0 L96.2,270.0 L96.7,270.6 L97.2,271.3 L97.7,271.8 L98.2,271.8 L98.7,271.8 L99.2,271.8 L99.7,271.8 L100.2,271.7 L100.7,271.5 L101.2,271.4 L101.7,271.3 L102.2,271.1 L102.7,271.1 L103.2,271.0 L103.7,271.0 L104.2,271.1 L104.7,271.4 L105.2,272.0 L105.7,272.1 L106.2,271.8 L106.7,271.2 L107.2,270.4 L107.7,269.1 L108.2,266.8 L108.3,266.8 L108.7,268.4 L109.2,270.2 L109.7,270.9 L110.2,271.3 L110.7,271.7 L111.2,271.6 L111.7,271.3 L112.2,271.2 L112.7,271.3 L113.2,271.2 L113.7,271.3 L114.2,271.5 L114.7,271.6 L115.2,271.6 L115.7,271.5 L116.2,271.5 L116.7,271.6 L117.2,271.3 L117.7,271.0 L118.2,270.9 L118.7,270.8 L119.2,270.5 L119.7,270.3 L120.2,270.2 L120.7,269.7 L121.2,269.0 L121.7,268.4 L122.2,268.0 L122.4,268.1 L122.7,268.3 L123.2,268.7 L123.7,269.3 L124.2,270.1 L124.7,270.8 L125.2,271.2 L125.7,271.4 L126.2,271.2 L126.7,271.0 L127.2,271.2 L127.7,271.4 L128.2,271.5 L128.7,271.6 L129.2,271.5 L129.7,271.9 L130.2,272.2 L130.7,271.8 L131.2,271.6 L131.7,271.8 L132.2,271.8 L132.7,271.9 L133.2,271.7 L133.7,271.3 L134.2,271.2 L134.7,271.1 L135.2,271.2 L135.7,271.4 L136.2,271.2 L136.7,271.1 L137.2,271.4 L137.7,271.6 L138.2,271.7 L138.7,271.6 L139.2,271.4 L139.7,271.3 L140.2,271.4 L140.7,271.3 L141.2,271.3 L141.7,271.5 L142.2,271.3 L142.7,271.3 L143.2,271.7 L143.7,271.4 L144.2,270.9 L144.7,271.3 L145.2,272.2 L145.7,272.4 L146.2,271.9 L146.7,271.7 L147.2,271.8 L147.7,271.4 L148.2,271.2 L148.7,271.5 L149.2,271.6 L149.7,271.3 L150.2,271.0 L150.7,271.1 L151.2,271.3 L151.7,271.4 L152.2,271.4 L152.7,271.5 L153.2,271.7 L153.7,271.5 L154.2,271.1 L154.7,271.1 L155.2,271.2 L155.7,271.3 L156.2,271.4 L156.7,271.2 L157.2,271.1 L157.7,270.9 L158.2,270.6 L158.7,270.6 L159.2,270.0 L159.7,269.0 L160.2,267.4 L160.7,264.2 L161.2,257.2 L161.7,247.5 L161.8,247.2 L162.2,252.7 L162.7,259.1 L163.2,262.1 L163.7,263.5 L164.2,264.5 L164.7,265.4 L165.2,265.9 L165.7,266.3 L165.9,266.5 L166.2,266.6 L166.7,266.9 L167.2,267.5 L167.7,268.4 L168.2,269.2 L168.7,269.4 L169.2,269.6 L169.7,269.7 L170.2,269.9 L170.7,270.3 L171.2,270.6 L171.7,271.0 L172.2,271.2 L172.7,271.4 L173.2,271.3 L173.7,271.3 L174.2,271.4 L174.7,271.2 L175.2,270.9 L175.7,271.0 L176.2,271.0 L176.7,271.2 L177.2,271.7 L177.7,271.8 L178.2,271.5 L178.7,271.2 L179.2,271.4 L179.7,271.4 L180.2,271.3 L180.7,271.4 L181.2,271.6 L181.7,271.4 L182.2,271.3 L182.7,271.5 L183.2,271.4 L183.7,271.0 L184.2,270.9 L184.7,271.2 L185.2,271.7 L185.7,271.9 L186.2,271.7 L186.7,271.9 L187.2,272.1 L187.7,271.8 L188.2,271.7 L188.7,271.5 L189.2,271.4 L189.7,271.7 L190.2,271.6 L190.7,271.3 L191.2,271.1 L191.7,270.7 L192.2,270.8 L192.7,270.9 L193.2,271.1 L193.7,271.7 L194.2,272.0 L194.7,271.7 L195.2,271.5 L195.7,271.5 L196.2,271.5 L196.7,271.6 L197.2,271.6 L197.7,271.5 L198.2,271.4 L198.7,271.5 L199.2,271.7 L199.7,271.5 L200.2,271.1 L200.7,271.0 L201.2,271.4 L201.7,271.5 L202.2,271.5 L202.7,271.9 L203.2,272.0 L203.7,271.7 L204.2,271.5 L204.7,271.2 L205.2,271.1 L205.7,271.3 L206.2,271.7 L206.7,271.9 L207.2,271.7 L207.7,271.3 L208.2,271.3 L208.7,271.5 L209.2,271.6 L209.7,271.5 L210.2,271.3 L210.7,271.5 L211.2,271.5 L211.7,270.9 L212.2,270.9 L212.7,271.2 L213.2,271.1 L213.7,270.9" fill="none" stroke="#2a9eb0" stroke-width="1.0" stroke-linejoin="round"/>
<path d="M33.7,290.0 L34.2,290.0 L34.7,290.9 L35.2,291.3 L35.7,290.9 L36.2,290.8 L36.7,290.6 L37.2,290.2 L37.6,290.0 L37.7,290.0 L38.2,289.8 L38.7,289.5 L39.2,289.7 L39.7,290.3 L40.2,290.5 L40.7,290.1 L41.2,289.7 L41.7,290.0 L42.2,290.2 L42.7,290.0 L43.2,290.3 L43.7,291.0 L44.2,291.1 L44.7,290.8 L45.2,290.5 L45.7,290.2 L46.2,290.3 L46.7,290.4 L47.2,290.2 L47.7,290.4 L48.2,290.6 L48.7,290.1 L49.2,290.2 L49.7,290.8 L50.2,290.7 L50.7,290.3 L51.2,290.0 L51.7,290.0 L52.2,290.1 L52.7,289.9 L53.2,290.0 L53.7,290.2 L54.2,289.9 L54.7,289.8 L55.2,290.3 L55.7,290.5 L56.2,290.4 L56.7,290.1 L57.2,289.8 L57.7,289.9 L58.2,290.0 L58.7,289.3 L59.2,288.6 L59.7,288.7 L60.2,288.7 L60.7,288.5 L61.2,288.9 L61.7,289.5 L62.2,289.7 L62.7,289.9 L63.2,289.8 L63.7,289.7 L64.2,289.9 L64.7,289.7 L65.2,289.6 L65.7,290.1 L66.2,290.4 L66.7,290.3 L67.2,290.1 L67.7,290.1 L68.2,290.3 L68.7,290.2 L69.2,290.2 L69.7,290.3 L70.2,290.2 L70.7,290.1 L71.2,290.1 L71.7,290.6 L72.2,291.2 L72.7,290.8 L73.2,290.1 L73.7,289.7 L74.2,289.8 L74.7,290.0 L75.2,290.2 L75.7,290.4 L76.2,290.6 L76.7,290.6 L77.2,290.5 L77.7,290.7 L78.2,290.7 L78.7,290.3 L79.2,290.2 L79.7,290.3 L80.2,290.5 L80.7,290.6 L81.2,290.3 L81.7,289.9 L82.2,289.7 L82.7,289.8 L83.2,290.3 L83.7,290.6 L84.2,290.4 L84.7,290.1 L85.2,290.1 L85.7,290.2 L86.2,290.5 L86.7,290.7 L87.2,290.8 L87.7,290.8 L88.2,290.5 L88.7,290.2 L89.2,290.3 L89.7,290.2 L90.2,290.1 L90.7,290.4 L91.2,290.7 L91.7,290.7 L92.2,290.7 L92.7,290.0 L93.2,289.0 L93.7,288.4 L94.2,286.7 L94.6,284.7 L94.7,284.3 L95.2,286.8 L95.7,288.8 L96.2,289.6 L96.7,289.8 L97.2,290.0 L97.7,290.1 L98.2,289.9 L98.7,289.9 L99.2,290.0 L99.7,289.9 L100.2,289.9 L100.7,289.9 L101.2,290.3 L101.7,290.7 L102.2,290.6 L102.7,290.3 L103.2,290.2 L103.7,290.3 L104.2,290.7 L104.7,291.0 L105.2,290.9 L105.7,290.6 L106.2,290.6 L106.7,290.5 L107.2,290.1 L107.7,289.2 L108.2,287.8 L108.3,287.5 L108.7,288.3 L109.2,289.5 L109.7,290.0 L110.2,290.1 L110.7,290.3 L111.2,290.7 L111.7,290.9 L112.2,290.3 L112.7,289.9 L113.2,290.2 L113.7,290.5 L114.2,290.3 L114.7,290.2 L115.2,290.3 L115.7,290.4 L116.2,290.2 L116.7,289.9 L117.2,290.1 L117.7,290.2 L118.2,290.2 L118.7,290.2 L119.2,289.9 L119.7,289.5 L120.2,289.4 L120.7,289.4 L121.2,289.1 L121.7,288.4 L122.2,288.0 L122.4,287.8 L122.7,287.6 L123.2,288.1 L123.7,288.9 L124.2,289.3 L124.7,289.7 L125.2,290.3 L125.7,290.3 L126.2,290.0 L126.7,290.0 L127.2,289.9 L127.7,289.8 L128.2,290.0 L128.7,290.3 L129.2,290.3 L129.7,290.2 L130.2,290.2 L130.7,290.6 L131.2,290.8 L131.7,290.8 L132.2,290.4 L132.7,290.3 L133.2,290.7 L133.7,290.5 L134.2,290.1 L134.7,290.2 L135.2,290.4 L135.7,290.1 L136.2,290.0 L136.7,290.3 L137.2,290.7 L137.7,290.9 L138.2,290.9 L138.7,290.6 L139.2,290.1 L139.7,289.8 L140.2,290.0 L140.7,290.5 L141.2,290.4 L141.7,290.1 L142.2,290.4 L142.7,290.9 L143.2,291.0 L143.7,290.9 L144.2,290.8 L144.7,290.5 L145.2,290.3 L145.7,290.3 L146.2,290.2 L146.7,290.1 L147.2,290.3 L147.7,290.6 L148.2,290.6 L148.7,290.5 L149.2,290.3 L149.7,290.3 L150.2,290.3 L150.7,290.6 L151.2,290.8 L151.7,290.8 L152.2,290.7 L152.7,290.7 L153.2,290.7 L153.7,290.2 L154.2,289.7 L154.7,290.0 L155.2,290.1 L155.7,289.8 L156.2,290.2 L156.7,290.4 L157.2,290.3 L157.7,290.1 L158.2,289.8 L158.7,289.5 L159.2,289.0 L159.7,288.5 L160.2,287.8 L160.7,285.9 L161.2,281.0 L161.7,274.3 L161.8,274.3 L162.2,278.1 L162.7,282.2 L163.2,284.3 L163.7,285.5 L164.2,285.8 L164.7,285.9 L165.2,286.1 L165.7,286.5 L165.9,286.6 L166.2,286.7 L166.7,287.2 L167.2,287.5 L167.7,288.0 L168.2,288.5 L168.7,288.8 L169.2,289.4 L169.7,289.5 L170.2,289.3 L170.7,289.6 L171.2,289.8 L171.7,289.7 L172.2,289.8 L172.7,290.4 L173.2,290.8 L173.7,290.7 L174.2,290.5 L174.7,289.8 L175.2,289.6 L175.7,289.9 L176.2,290.1 L176.7,290.5 L177.2,290.6 L177.7,290.3 L178.2,290.3 L178.7,290.2 L179.2,290.0 L179.7,290.0 L180.2,290.0 L180.7,290.3 L181.2,290.8 L181.7,290.9 L182.2,290.8 L182.7,290.5 L183.2,290.5 L183.7,290.8 L184.2,290.7 L184.7,290.6 L185.2,290.7 L185.7,290.5 L186.2,290.5 L186.7,290.5 L187.2,290.6 L187.7,290.5 L188.2,290.2 L188.7,290.2 L189.2,290.2 L189.7,290.3 L190.2,290.6 L190.7,290.5 L191.2,290.3 L191.7,290.5 L192.2,290.4 L192.7,290.0 L193.2,290.1 L193.7,290.4 L194.2,290.2 L194.7,289.8 L195.2,289.9 L195.7,290.4 L196.2,290.2 L196.7,289.9 L197.2,290.0 L197.7,290.5 L198.2,290.6 L198.7,290.3 L199.2,290.1 L199.7,290.3 L200.2,290.5 L200.7,290.6 L201.2,290.8 L201.7,290.9 L202.2,290.8 L202.7,290.8 L203.2,290.7 L203.7,290.7 L204.2,291.0 L204.7,290.8 L205.2,290.7 L205.7,290.6 L206.2,290.2 L206.7,290.1 L207.2,290.3 L207.7,290.5 L208.2,290.5 L208.7,290.0 L209.2,290.0 L209.7,290.7 L210.2,290.8 L210.7,290.3 L211.2,290.2 L211.7,290.6 L212.2,290.4 L212.7,290.1 L213.2,290.1 L213.7,290.2" fill="none" stroke="#d3743b" stroke-width="1.0" stroke-linejoin="round"/>
<path d="M33.7,302.6 L34.2,303.2 L34.7,303.2 L35.2,303.0 L35.7,303.0 L36.2,303.0 L36.7,303.3 L37.2,303.0 L37.6,302.7 L37.7,302.6 L38.2,302.6 L38.7,303.0 L39.2,303.4 L39.7,303.4 L40.2,303.1 L40.7,302.8 L41.2,302.8 L41.7,302.7 L42.2,302.8 L42.7,302.8 L43.2,302.8 L43.7,303.4 L44.2,303.8 L44.7,303.6 L45.2,303.1 L45.7,302.8 L46.2,302.7 L46.7,302.8 L47.2,303.0 L47.7,303.1 L48.2,303.0 L48.7,302.8 L49.2,302.7 L49.7,302.9 L50.2,303.4 L50.7,303.6 L51.2,303.3 L51.7,303.1 L52.2,303.0 L52.7,302.7 L53.2,302.7 L53.7,302.8 L54.2,302.8 L54.7,302.8 L55.2,302.7 L55.7,302.9 L56.2,303.3 L56.7,303.2 L57.2,302.9 L57.7,302.6 L58.2,302.4 L58.7,302.5 L59.2,302.3 L59.7,301.9 L60.2,301.8 L60.7,301.9 L61.2,301.9 L61.7,302.1 L62.2,302.5 L62.7,302.8 L63.2,303.1 L63.7,303.2 L64.2,303.1 L64.7,302.7 L65.2,302.8 L65.7,303.1 L66.2,303.2 L66.7,303.0 L67.2,303.2 L67.7,303.2 L68.2,302.8 L68.7,302.5 L69.2,302.7 L69.7,302.8 L70.2,302.7 L70.7,302.8 L71.2,302.7 L71.7,302.5 L72.2,302.7 L72.7,303.5 L73.2,303.7 L73.7,303.2 L74.2,302.8 L74.7,303.0 L75.2,302.9 L75.7,302.6 L76.2,302.6 L76.7,303.0 L77.2,303.3 L77.7,303.2 L78.2,303.1 L78.7,303.2 L79.2,303.0 L79.7,302.9 L80.2,303.1 L80.7,303.3 L81.2,303.5 L81.7,303.5 L82.2,303.4 L82.7,303.5 L83.2,303.2 L83.7,302.6 L84.2,302.6 L84.7,303.0 L85.2,303.0 L85.7,302.8 L86.2,302.8 L86.7,303.2 L87.2,303.4 L87.7,303.2 L88.2,302.9 L88.7,302.5 L89.2,302.3 L89.7,302.6 L90.2,302.9 L90.7,303.1 L91.2,303.4 L91.7,303.3 L92.2,302.9 L92.7,302.8 L93.2,302.4 L93.7,301.6 L94.2,300.2 L94.6,298.9 L94.7,299.3 L95.2,301.1 L95.7,302.2 L96.2,302.8 L96.7,302.9 L97.2,303.0 L97.7,303.0 L98.2,302.6 L98.7,302.6 L99.2,303.0 L99.7,303.2 L100.2,303.0 L100.7,302.6 L101.2,302.2 L101.7,302.6 L102.2,303.2 L102.7,303.4 L103.2,303.1 L103.7,302.9 L104.2,303.0 L104.7,303.1 L105.2,303.3 L105.7,303.2 L106.2,302.8 L106.7,302.6 L107.2,302.7 L107.7,302.3 L108.2,301.5 L108.3,301.7 L108.7,302.2 L109.2,302.5 L109.7,302.8 L110.2,303.0 L110.7,302.7 L111.2,302.4 L111.7,302.3 L112.2,302.7 L112.7,303.6 L113.2,303.6 L113.7,303.3 L114.2,303.4 L114.7,303.3 L115.2,303.1 L115.7,303.1 L116.2,303.0 L116.7,302.9 L117.2,303.1 L117.7,303.1 L118.2,302.6 L118.7,302.7 L119.2,303.2 L119.7,303.2 L120.2,302.7 L120.7,302.5 L121.2,302.3 L121.7,301.8 L122.2,301.7 L122.4,301.7 L122.7,301.5 L123.2,301.7 L123.7,302.2 L124.2,302.2 L124.7,302.3 L125.2,302.9 L125.7,303.5 L126.2,303.4 L126.7,303.1 L127.2,303.1 L127.7,302.8 L128.2,302.7 L128.7,303.1 L129.2,303.3 L129.7,303.3 L130.2,303.0 L130.7,302.4 L131.2,302.4 L131.7,302.9 L132.2,303.1 L132.7,303.0 L133.2,302.9 L133.7,303.1 L134.2,302.9 L134.7,302.6 L135.2,303.2 L135.7,303.7 L136.2,303.3 L136.7,303.0 L137.2,303.0 L137.7,303.3 L138.2,303.6 L138.7,303.5 L139.2,303.4 L139.7,303.4 L140.2,303.1 L140.7,302.7 L141.2,302.5 L141.7,302.8 L142.2,303.2 L142.7,303.1 L143.2,302.6 L143.7,302.7 L144.2,303.1 L144.7,303.1 L145.2,303.0 L145.7,302.9 L146.2,303.0 L146.7,303.1 L147.2,303.0 L147.7,302.8 L148.2,302.8 L148.7,302.9 L149.2,302.8 L149.7,302.8 L150.2,302.7 L150.7,302.8 L151.2,303.2 L151.7,303.3 L152.2,303.4 L152.7,303.6 L153.2,303.2 L153.7,302.8 L154.2,302.7 L154.7,302.7 L155.2,302.8 L155.7,302.9 L156.2,302.9 L156.7,302.9 L157.2,303.1 L157.7,303.2 L158.2,303.1 L158.7,302.9 L159.2,302.6 L159.7,302.1 L160.2,301.4 L160.7,300.1 L161.2,297.5 L161.7,294.0 L161.8,293.8 L162.2,296.0 L162.7,298.2 L163.2,299.1 L163.7,300.0 L164.2,300.7 L164.7,301.1 L165.2,301.1 L165.7,301.0 L165.9,300.9 L166.2,300.9 L166.7,301.2 L167.2,301.8 L167.7,302.1 L168.2,302.1 L168.7,302.1 L169.2,302.2 L169.7,302.2 L170.2,302.3 L170.7,302.5 L171.2,302.6 L171.7,302.9 L172.2,303.1 L172.7,302.9 L173.2,302.8 L173.7,302.9 L174.2,302.8 L174.7,302.9 L175.2,302.8 L175.7,302.9 L176.2,303.2 L176.7,303.1 L177.2,302.9 L177.7,303.4 L178.2,303.9 L178.7,303.3 L179.2,302.8 L179.7,302.7 L180.2,302.8 L180.7,303.0 L181.2,303.0 L181.7,302.9 L182.2,303.2 L182.7,303.3 L183.2,303.3 L183.7,303.0 L184.2,302.7 L184.7,302.7 L185.2,302.9 L185.7,302.9 L186.2,303.0 L186.7,303.3 L187.2,303.4 L187.7,303.5 L188.2,303.1 L188.7,302.4 L189.2,302.4 L189.7,303.1 L190.2,303.4 L190.7,303.0 L191.2,302.6 L191.7,302.8 L192.2,303.3 L192.7,303.5 L193.2,303.0 L193.7,302.6 L194.2,302.7 L194.7,302.9 L195.2,302.8 L195.7,302.8 L196.2,303.1 L196.7,303.1 L197.2,302.6 L197.7,302.4 L198.2,302.9 L198.7,303.1 L199.2,303.1 L199.7,303.1 L200.2,302.7 L200.7,302.3 L201.2,302.7 L201.7,303.1 L202.2,302.8 L202.7,302.6 L203.2,302.7 L203.7,302.8 L204.2,302.9 L204.7,303.1 L205.2,303.3 L205.7,303.5 L206.2,303.4 L206.7,303.0 L207.2,302.7 L207.7,302.4 L208.2,302.7 L208.7,302.8 L209.2,302.7 L209.7,302.8 L210.2,303.0 L210.7,303.0 L211.2,303.1 L211.7,303.2 L212.2,303.5 L212.7,303.7 L213.2,303.4 L213.7,303.2" fill="none" stroke="#b0ac3b" stroke-width="1.0" stroke-linejoin="round"/>
<line x1="39" y1="178.8" x2="56.6" y2="178.8" stroke="#e06a6e" stroke-width="1.4" stroke-opacity="0.75"/>
<text x="59" y="181.7" font-size="8.25" text-anchor="start" fill="#1e1a1a" font-weight="normal" stroke="#1e1a1a" stroke-width="0.18" letter-spacing="0.1">W-TNT-1000</text>
<line x1="39" y1="188.5" x2="56.6" y2="188.5" stroke="#52b088" stroke-width="1.4" stroke-opacity="0.75"/>
<text x="59" y="191.4" font-size="8.25" text-anchor="start" fill="#1e1a1a" font-weight="normal" stroke="#1e1a1a" stroke-width="0.18" letter-spacing="0.1">W-TNT-800</text>
<line x1="39" y1="198.1" x2="56.6" y2="198.1" stroke="#30b4c8" stroke-width="1.4" stroke-opacity="0.75"/>
<text x="59" y="201" font-size="8.25" text-anchor="start" fill="#1e1a1a" font-weight="normal" stroke="#1e1a1a" stroke-width="0.18" letter-spacing="0.1">W-TNT-600</text>
<line x1="39" y1="207.7" x2="56.6" y2="207.7" stroke="#f08444" stroke-width="1.4" stroke-opacity="0.75"/>
<text x="59" y="210.6" font-size="8.25" text-anchor="start" fill="#1e1a1a" font-weight="normal" stroke="#1e1a1a" stroke-width="0.18" letter-spacing="0.1">W-TNT-400</text>
<line x1="39" y1="217.3" x2="56.6" y2="217.3" stroke="#c8c444" stroke-width="1.4" stroke-opacity="0.75"/>
<text x="59" y="220.2" font-size="8.25" text-anchor="start" fill="#1e1a1a" font-weight="normal" stroke="#1e1a1a" stroke-width="0.18" letter-spacing="0.1">W-TNT-300</text>
<text x="87" y="260.3" font-size="8.25" text-anchor="start" fill="#1e1a1a" font-weight="normal" stroke="#1e1a1a" stroke-width="0.18" >1074</text>
<text x="170.4" y="265.3" font-size="8.25" text-anchor="start" fill="#1e1a1a" font-weight="normal" stroke="#1e1a1a" stroke-width="0.18" >1596</text>
<line x1="155.1" y1="193.3" x2="151" y2="186.9" stroke="#c9a0a0" stroke-width="0.9" stroke-linecap="round"/>
<line x1="164.3" y1="193.3" x2="167.9" y2="186.9" stroke="#c9a0a0" stroke-width="0.9" stroke-linecap="round"/>
<line x1="155.1" y1="209.7" x2="151" y2="216.3" stroke="#c9a0a0" stroke-width="0.9" stroke-linecap="round"/>
<line x1="164.3" y1="209.7" x2="167.9" y2="216.3" stroke="#c9a0a0" stroke-width="0.9" stroke-linecap="round"/>
<line x1="141.3" y1="201.7" x2="138.2" y2="193.3" stroke="#c9a0a0" stroke-width="0.9" stroke-linecap="round"/>
<line x1="182.7" y1="209.4" x2="178.1" y2="214.8" stroke="#c9a0a0" stroke-width="0.9" stroke-linecap="round"/>
<line x1="150.5" y1="201.7" x2="155.1" y2="193.3" stroke="#9a7560" stroke-width="1.2" stroke-linecap="round"/>
<line x1="155.1" y1="193.3" x2="164.3" y2="193.3" stroke="#9a7560" stroke-width="1.2" stroke-linecap="round"/>
<line x1="164.3" y1="193.3" x2="168.9" y2="201.7" stroke="#9a7560" stroke-width="1.2" stroke-linecap="round"/>
<line x1="168.9" y1="201.7" x2="164.3" y2="209.7" stroke="#9a7560" stroke-width="1.2" stroke-linecap="round"/>
<line x1="164.3" y1="209.7" x2="155.1" y2="209.7" stroke="#9a7560" stroke-width="1.2" stroke-linecap="round"/>
<line x1="155.1" y1="209.7" x2="150.5" y2="201.7" stroke="#9a7560" stroke-width="1.2" stroke-linecap="round"/>
<line x1="141.3" y1="201.7" x2="150.5" y2="201.7" stroke="#a09050" stroke-width="1.2" stroke-linecap="round"/>
<line x1="168.9" y1="201.7" x2="178.1" y2="201.7" stroke="#9a7560" stroke-width="1.2" stroke-linecap="round"/>
<line x1="178.1" y1="201.7" x2="182.7" y2="193.3" stroke="#b05040" stroke-width="1.2" stroke-linecap="round"/>
<line x1="178.1" y1="201.7" x2="182.7" y2="209.4" stroke="#b05040" stroke-width="1.2" stroke-linecap="round"/>
<circle cx="151" cy="186.9" r="1.4" fill="url(#gH)"/>
<circle cx="167.9" cy="186.9" r="1.4" fill="url(#gH)"/>
<circle cx="151" cy="216.3" r="1.4" fill="url(#gH)"/>
<circle cx="167.9" cy="216.3" r="1.4" fill="url(#gH)"/>
<circle cx="138.2" cy="193.3" r="1.4" fill="url(#gH)"/>
<circle cx="178.1" cy="214.8" r="1.4" fill="url(#gH)"/>
<circle cx="150.5" cy="201.7" r="2.0" fill="url(#gC)"/>
<circle cx="155.1" cy="193.3" r="2.0" fill="url(#gC)"/>
<circle cx="164.3" cy="193.3" r="2.0" fill="url(#gC)"/>
<circle cx="168.9" cy="201.7" r="2.0" fill="url(#gC)"/>
<circle cx="164.3" cy="209.7" r="2.0" fill="url(#gC)"/>
<circle cx="155.1" cy="209.7" r="2.0" fill="url(#gC)"/>
<circle cx="178.1" cy="201.7" r="2.0" fill="url(#gC)"/>
<circle cx="182.7" cy="193.3" r="2.2" fill="url(#gO)"/>
<circle cx="182.7" cy="209.4" r="2.2" fill="url(#gO)"/>
<circle cx="141.3" cy="201.7" r="2.8" fill="url(#gS)"/>
<text x="0.5" y="193.6" font-size="24.5" text-anchor="start" fill="#231815" font-weight="bold" >d</text>
<rect x="259.9" y="173.3" width="179.3" height="135" fill="none" stroke="#3a3a3a" stroke-width="1"/>
<line x1="259.9" y1="308.3" x2="259.9" y2="310.8" stroke="#3a3a3a" stroke-width="0.9" />
<text x="259.9" y="318.9" font-size="8.25" text-anchor="middle" fill="#1e1a1a" font-weight="normal" stroke="#1e1a1a" stroke-width="0.18" >600</text>
<line x1="272.71" y1="308.3" x2="272.71" y2="309.8" stroke="#3a3a3a" stroke-width="0.9" />
<line x1="285.51" y1="308.3" x2="285.51" y2="310.8" stroke="#3a3a3a" stroke-width="0.9" />
<text x="285.51" y="318.9" font-size="8.25" text-anchor="middle" fill="#1e1a1a" font-weight="normal" stroke="#1e1a1a" stroke-width="0.18" >800</text>
<line x1="298.32" y1="308.3" x2="298.32" y2="309.8" stroke="#3a3a3a" stroke-width="0.9" />
<line x1="311.13" y1="308.3" x2="311.13" y2="310.8" stroke="#3a3a3a" stroke-width="0.9" />
<text x="311.13" y="318.9" font-size="8.25" text-anchor="middle" fill="#1e1a1a" font-weight="normal" stroke="#1e1a1a" stroke-width="0.18" >1000</text>
<line x1="323.94" y1="308.3" x2="323.94" y2="309.8" stroke="#3a3a3a" stroke-width="0.9" />
<line x1="336.74" y1="308.3" x2="336.74" y2="310.8" stroke="#3a3a3a" stroke-width="0.9" />
<text x="336.74" y="318.9" font-size="8.25" text-anchor="middle" fill="#1e1a1a" font-weight="normal" stroke="#1e1a1a" stroke-width="0.18" >1200</text>
<line x1="349.55" y1="308.3" x2="349.55" y2="309.8" stroke="#3a3a3a" stroke-width="0.9" />
<line x1="362.36" y1="308.3" x2="362.36" y2="310.8" stroke="#3a3a3a" stroke-width="0.9" />
<text x="362.36" y="318.9" font-size="8.25" text-anchor="middle" fill="#1e1a1a" font-weight="normal" stroke="#1e1a1a" stroke-width="0.18" >1400</text>
<line x1="375.16" y1="308.3" x2="375.16" y2="309.8" stroke="#3a3a3a" stroke-width="0.9" />
<line x1="387.97" y1="308.3" x2="387.97" y2="310.8" stroke="#3a3a3a" stroke-width="0.9" />
<text x="387.97" y="318.9" font-size="8.25" text-anchor="middle" fill="#1e1a1a" font-weight="normal" stroke="#1e1a1a" stroke-width="0.18" >1600</text>
<line x1="400.78" y1="308.3" x2="400.78" y2="309.8" stroke="#3a3a3a" stroke-width="0.9" />
<line x1="413.59" y1="308.3" x2="413.59" y2="310.8" stroke="#3a3a3a" stroke-width="0.9" />
<text x="413.59" y="318.9" font-size="8.25" text-anchor="middle" fill="#1e1a1a" font-weight="normal" stroke="#1e1a1a" stroke-width="0.18" >1800</text>
<line x1="426.39" y1="308.3" x2="426.39" y2="309.8" stroke="#3a3a3a" stroke-width="0.9" />
<line x1="439.2" y1="308.3" x2="439.2" y2="310.8" stroke="#3a3a3a" stroke-width="0.9" />
<text x="439.2" y="318.9" font-size="8.25" text-anchor="middle" fill="#1e1a1a" font-weight="normal" stroke="#1e1a1a" stroke-width="0.18" >2000</text>
<line x1="258.4" y1="293.37" x2="259.9" y2="293.37" stroke="#3a3a3a" stroke-width="0.9" />
<line x1="258.4" y1="274.92" x2="259.9" y2="274.92" stroke="#3a3a3a" stroke-width="0.9" />
<line x1="258.4" y1="256.46" x2="259.9" y2="256.46" stroke="#3a3a3a" stroke-width="0.9" />
<line x1="258.4" y1="238" x2="259.9" y2="238" stroke="#3a3a3a" stroke-width="0.9" />
<line x1="258.4" y1="219.55" x2="259.9" y2="219.55" stroke="#3a3a3a" stroke-width="0.9" />
<line x1="258.4" y1="201.09" x2="259.9" y2="201.09" stroke="#3a3a3a" stroke-width="0.9" />
<line x1="258.4" y1="182.64" x2="259.9" y2="182.64" stroke="#3a3a3a" stroke-width="0.9" />
<line x1="257.4" y1="302.6" x2="259.9" y2="302.6" stroke="#3a3a3a" stroke-width="0.9" />
<text x="255.9" y="305" font-size="8.25" text-anchor="end" fill="#1e1a1a" font-weight="normal" stroke="#1e1a1a" stroke-width="0.18" >0</text>
<line x1="257.4" y1="284.14" x2="259.9" y2="284.14" stroke="#3a3a3a" stroke-width="0.9" />
<text x="255.9" y="286.54" font-size="8.25" text-anchor="end" fill="#1e1a1a" font-weight="normal" stroke="#1e1a1a" stroke-width="0.18" >20</text>
<line x1="257.4" y1="265.69" x2="259.9" y2="265.69" stroke="#3a3a3a" stroke-width="0.9" />
<text x="255.9" y="268.09" font-size="8.25" text-anchor="end" fill="#1e1a1a" font-weight="normal" stroke="#1e1a1a" stroke-width="0.18" >40</text>
<line x1="257.4" y1="247.23" x2="259.9" y2="247.23" stroke="#3a3a3a" stroke-width="0.9" />
<text x="255.9" y="249.63" font-size="8.25" text-anchor="end" fill="#1e1a1a" font-weight="normal" stroke="#1e1a1a" stroke-width="0.18" >60</text>
<line x1="257.4" y1="228.78" x2="259.9" y2="228.78" stroke="#3a3a3a" stroke-width="0.9" />
<text x="255.9" y="231.18" font-size="8.25" text-anchor="end" fill="#1e1a1a" font-weight="normal" stroke="#1e1a1a" stroke-width="0.18" >80</text>
<line x1="257.4" y1="210.32" x2="259.9" y2="210.32" stroke="#3a3a3a" stroke-width="0.9" />
<text x="255.9" y="212.72" font-size="8.25" text-anchor="end" fill="#1e1a1a" font-weight="normal" stroke="#1e1a1a" stroke-width="0.18" >100</text>
<line x1="257.4" y1="191.86" x2="259.9" y2="191.86" stroke="#3a3a3a" stroke-width="0.9" />
<text x="255.9" y="194.26" font-size="8.25" text-anchor="end" fill="#1e1a1a" font-weight="normal" stroke="#1e1a1a" stroke-width="0.18" >120</text>
<line x1="257.4" y1="173.41" x2="259.9" y2="173.41" stroke="#3a3a3a" stroke-width="0.9" />
<text x="255.9" y="175.81" font-size="8.25" text-anchor="end" fill="#1e1a1a" font-weight="normal" stroke="#1e1a1a" stroke-width="0.18" >140</text>
<text x="349.55" y="329.1" font-size="8.25" text-anchor="middle" fill="#1e1a1a" stroke="#1e1a1a" stroke-width="0.18">Raman shift (cm<tspan font-size="5" dy="-3">-1</tspan><tspan dy="3">)</tspan></text>
<text transform="translate(240.5,241) rotate(-90)" x="0" y="0" font-size="8" text-anchor="middle" fill="#1e1a1a" stroke="#1e1a1a" stroke-width="0.18">Intensity (10<tspan font-size="5" dy="-3">3</tspan><tspan dy="3"> counts)</tspan></text>
<path d="M259.9,234.2 L260.4,234.0 L260.9,233.9 L261.4,234.1 L261.9,234.2 L262.4,234.0 L262.9,233.9 L263.4,233.7 L263.7,233.5 L263.9,233.3 L264.4,233.5 L264.9,233.5 L265.4,233.6 L265.9,233.5 L266.4,233.5 L266.9,234.1 L267.4,234.3 L267.9,234.2 L268.4,234.3 L268.9,234.1 L269.4,234.2 L269.9,234.1 L270.4,234.0 L270.9,234.3 L271.4,234.4 L271.9,234.1 L272.4,233.8 L272.9,234.0 L273.4,234.4 L273.9,234.1 L274.4,234.0 L274.9,234.3 L275.4,234.2 L275.9,233.8 L276.4,234.2 L276.9,234.4 L277.4,234.2 L277.9,233.9 L278.4,234.2 L278.9,234.5 L279.4,234.1 L279.9,233.8 L280.4,233.7 L280.9,233.9 L281.4,234.1 L281.9,234.0 L282.4,233.9 L282.9,233.8 L283.4,233.4 L283.9,233.5 L284.4,233.9 L284.9,233.8 L285.4,233.5 L285.9,233.1 L286.4,232.7 L286.8,232.6 L286.9,232.4 L287.4,232.4 L287.9,232.8 L288.4,233.3 L288.9,233.9 L289.4,234.1 L289.9,233.6 L290.4,233.5 L290.9,234.0 L291.4,234.3 L291.9,234.2 L292.4,234.0 L292.9,234.0 L293.4,233.9 L293.9,233.6 L294.4,233.7 L294.9,233.8 L295.4,233.9 L295.9,234.0 L296.4,234.2 L296.9,234.8 L297.4,234.8 L297.9,234.4 L298.4,234.1 L298.9,234.1 L299.4,234.4 L299.9,234.3 L300.4,233.7 L300.9,233.5 L301.4,233.8 L301.9,234.1 L302.4,234.1 L302.9,233.8 L303.4,233.8 L303.9,234.1 L304.4,234.3 L304.9,234.5 L305.4,234.4 L305.9,233.7 L306.4,233.4 L306.9,233.7 L307.4,233.9 L307.9,233.7 L308.4,233.4 L308.9,233.7 L309.4,234.0 L309.9,234.0 L310.4,234.1 L310.9,234.2 L311.4,234.3 L311.9,234.6 L312.4,234.7 L312.9,234.6 L313.4,234.3 L313.9,234.2 L314.4,234.2 L314.9,234.1 L315.4,233.9 L315.9,234.1 L316.4,234.2 L316.9,233.8 L317.4,233.6 L317.9,233.7 L318.4,233.3 L318.9,232.9 L319.4,232.4 L319.9,231.1 L320.4,228.7 L320.6,228.2 L320.9,229.4 L321.4,232.3 L321.9,233.4 L322.4,233.3 L322.9,233.0 L323.4,233.2 L323.9,233.6 L324.4,234.2 L324.9,234.6 L325.4,234.4 L325.9,234.3 L326.4,234.3 L326.9,234.2 L327.4,234.1 L327.9,234.2 L328.4,233.9 L328.9,233.7 L329.4,234.1 L329.9,234.4 L330.4,233.9 L330.9,233.7 L331.4,234.1 L331.9,234.2 L332.4,234.0 L332.9,233.7 L333.4,233.5 L333.9,232.3 L334.2,231.4 L334.4,231.8 L334.9,233.2 L335.4,233.5 L335.9,233.8 L336.4,234.0 L336.9,234.0 L337.4,234.0 L337.9,234.0 L338.4,234.2 L338.9,234.3 L339.4,234.1 L339.9,233.7 L340.4,233.4 L340.9,233.3 L341.4,233.7 L341.9,234.0 L342.4,234.2 L342.9,234.3 L343.4,234.0 L343.9,233.9 L344.4,234.0 L344.9,233.8 L345.4,233.4 L345.9,233.2 L346.4,233.2 L346.9,233.0 L347.4,232.6 L347.9,231.9 L348.3,231.5 L348.4,231.7 L348.9,231.7 L349.4,232.0 L349.9,232.4 L350.4,232.9 L350.9,233.5 L351.4,234.0 L351.9,234.1 L352.4,234.1 L352.9,233.8 L353.4,233.4 L353.9,233.4 L354.4,233.6 L354.9,233.7 L355.4,233.9 L355.9,233.8 L356.4,233.8 L356.9,234.0 L357.4,234.0 L357.9,233.7 L358.4,233.7 L358.9,234.1 L359.4,234.4 L359.9,234.7 L360.4,234.9 L360.9,234.5 L361.4,234.0 L361.9,234.0 L362.4,234.4 L362.9,234.3 L363.4,234.2 L363.9,233.8 L364.4,233.3 L364.9,233.7 L365.4,234.2 L365.9,234.1 L366.4,234.1 L366.9,234.0 L367.4,233.9 L367.9,234.0 L368.4,234.0 L368.9,234.3 L369.4,234.5 L369.9,234.2 L370.4,233.9 L370.9,233.9 L371.4,233.8 L371.9,234.1 L372.4,234.3 L372.9,234.0 L373.4,233.8 L373.9,233.8 L374.4,234.0 L374.9,234.2 L375.4,234.1 L375.9,233.8 L376.4,233.4 L376.9,233.5 L377.4,233.9 L377.9,233.9 L378.4,233.8 L378.9,233.9 L379.4,233.7 L379.9,233.7 L380.4,234.2 L380.9,234.1 L381.4,233.8 L381.9,233.9 L382.4,233.9 L382.9,233.7 L383.4,233.8 L383.9,233.7 L384.4,233.6 L384.9,233.1 L385.4,232.5 L385.9,231.9 L386.4,230.7 L386.9,227.2 L387.4,221.9 L387.5,221.9 L387.9,224.8 L388.4,227.7 L388.9,229.0 L389.4,229.7 L389.9,230.2 L390.4,230.7 L390.9,230.6 L391.4,230.7 L391.6,230.9 L391.9,231.1 L392.4,231.2 L392.9,231.5 L393.4,232.1 L393.9,232.5 L394.4,232.8 L394.9,233.3 L395.4,233.5 L395.9,233.6 L396.4,233.8 L396.9,233.6 L397.4,233.6 L397.9,233.7 L398.4,233.6 L398.9,233.7 L399.4,234.1 L399.9,233.9 L400.4,233.5 L400.9,233.4 L401.4,233.6 L401.9,233.9 L402.4,233.9 L402.9,233.7 L403.4,233.6 L403.9,233.8 L404.4,233.9 L404.9,233.8 L405.4,233.8 L405.9,233.8 L406.4,233.7 L406.9,233.8 L407.4,233.9 L407.9,233.6 L408.4,233.4 L408.9,233.8 L409.4,233.9 L409.9,233.6 L410.4,233.5 L410.9,233.6 L411.4,233.6 L411.9,234.0 L412.4,234.1 L412.9,233.7 L413.4,233.8 L413.9,234.1 L414.4,234.0 L414.9,234.1 L415.4,234.3 L415.9,233.9 L416.4,233.6 L416.9,233.8 L417.4,234.1 L417.9,234.0 L418.4,233.9 L418.9,234.0 L419.4,234.0 L419.9,234.1 L420.4,234.2 L420.9,233.8 L421.4,233.8 L421.9,234.3 L422.4,234.3 L422.9,233.8 L423.4,233.6 L423.9,233.9 L424.4,234.2 L424.9,234.3 L425.4,234.2 L425.9,234.0 L426.4,233.7 L426.9,233.6 L427.4,233.7 L427.9,234.0 L428.4,234.1 L428.9,234.1 L429.4,234.5 L429.9,234.5 L430.4,234.0 L430.9,233.9 L431.4,234.1 L431.9,234.3 L432.4,234.1 L432.9,233.7 L433.4,233.9 L433.9,234.3 L434.4,234.4 L434.9,234.3 L435.4,234.2 L435.9,234.1 L436.4,234.2 L436.9,234.6 L437.4,234.6 L437.9,234.2 L438.4,234.0 L438.9,234.0" fill="none" stroke="#34a5b3" stroke-width="1.0" stroke-linejoin="round"/>
<path d="M259.9,253.9 L260.4,253.7 L260.9,253.7 L261.4,253.8 L261.9,253.4 L262.4,253.3 L262.9,253.4 L263.4,252.8 L263.7,252.2 L263.9,252.2 L264.4,253.1 L264.9,253.4 L265.4,253.4 L265.9,253.6 L266.4,253.5 L266.9,253.7 L267.4,254.0 L267.9,254.0 L268.4,253.7 L268.9,253.5 L269.4,253.6 L269.9,253.7 L270.4,253.8 L270.9,253.8 L271.4,253.8 L271.9,253.7 L272.4,253.7 L272.9,253.7 L273.4,253.7 L273.9,253.7 L274.4,253.6 L274.9,253.6 L275.4,253.8 L275.9,254.2 L276.4,254.3 L276.9,254.1 L277.4,253.6 L277.9,253.1 L278.4,253.0 L278.9,253.2 L279.4,253.3 L279.9,253.4 L280.4,253.5 L280.9,253.4 L281.4,253.2 L281.9,253.5 L282.4,253.6 L282.9,253.1 L283.4,252.9 L283.9,252.8 L284.4,252.7 L284.9,252.7 L285.4,252.6 L285.9,252.2 L286.4,251.8 L286.8,251.6 L286.9,251.7 L287.4,252.1 L287.9,252.4 L288.4,253.0 L288.9,253.5 L289.4,253.3 L289.9,252.7 L290.4,252.3 L290.9,252.5 L291.4,253.3 L291.9,253.6 L292.4,253.2 L292.9,253.1 L293.4,253.4 L293.9,253.7 L294.4,253.8 L294.9,253.6 L295.4,253.5 L295.9,253.6 L296.4,253.3 L296.9,253.0 L297.4,253.1 L297.9,253.4 L298.4,253.5 L298.9,253.6 L299.4,254.0 L299.9,254.3 L300.4,253.8 L300.9,253.0 L301.4,253.1 L301.9,253.4 L302.4,253.7 L302.9,254.0 L303.4,253.8 L303.9,253.5 L304.4,253.6 L304.9,253.7 L305.4,253.7 L305.9,253.7 L306.4,253.6 L306.9,253.2 L307.4,253.0 L307.9,253.6 L308.4,254.0 L308.9,253.6 L309.4,253.5 L309.9,253.7 L310.4,253.6 L310.9,253.6 L311.4,253.7 L311.9,253.7 L312.4,253.9 L312.9,254.1 L313.4,253.8 L313.9,253.4 L314.4,253.2 L314.9,253.3 L315.4,253.4 L315.9,253.7 L316.4,254.0 L316.9,254.1 L317.4,253.5 L317.9,253.3 L318.4,253.1 L318.9,252.4 L319.4,252.1 L319.9,250.7 L320.4,246.9 L320.6,246.1 L320.9,247.6 L321.4,250.9 L321.9,252.4 L322.4,253.0 L322.9,253.3 L323.4,253.6 L323.9,253.5 L324.4,253.4 L324.9,253.1 L325.4,252.7 L325.9,252.8 L326.4,253.3 L326.9,253.7 L327.4,254.2 L327.9,254.5 L328.4,254.1 L328.9,253.6 L329.4,253.6 L329.9,253.8 L330.4,253.6 L330.9,253.6 L331.4,253.8 L331.9,253.6 L332.4,253.3 L332.9,252.9 L333.4,252.1 L333.9,250.5 L334.2,249.9 L334.4,250.5 L334.9,252.1 L335.4,252.4 L335.9,253.0 L336.4,253.4 L336.9,253.3 L337.4,253.3 L337.9,253.6 L338.4,253.8 L338.9,253.7 L339.4,253.8 L339.9,253.9 L340.4,253.8 L340.9,253.9 L341.4,253.9 L341.9,253.7 L342.4,253.9 L342.9,253.7 L343.4,253.3 L343.9,253.6 L344.4,253.5 L344.9,253.0 L345.4,253.0 L345.9,253.1 L346.4,252.7 L346.9,251.9 L347.4,251.1 L347.9,250.9 L348.3,251.0 L348.4,251.0 L348.9,251.7 L349.4,252.0 L349.9,252.1 L350.4,252.5 L350.9,252.9 L351.4,253.0 L351.9,253.2 L352.4,253.8 L352.9,254.0 L353.4,253.5 L353.9,253.2 L354.4,253.2 L354.9,253.5 L355.4,253.7 L355.9,253.5 L356.4,253.3 L356.9,253.4 L357.4,253.5 L357.9,253.7 L358.4,253.7 L358.9,253.4 L359.4,253.3 L359.9,253.9 L360.4,253.9 L360.9,253.6 L361.4,253.6 L361.9,253.7 L362.4,253.8 L362.9,253.7 L363.4,253.3 L363.9,253.2 L364.4,253.3 L364.9,253.2 L365.4,253.1 L365.9,253.3 L366.4,253.5 L366.9,253.5 L367.4,253.4 L367.9,253.7 L368.4,254.0 L368.9,254.0 L369.4,253.7 L369.9,253.5 L370.4,253.3 L370.9,253.2 L371.4,253.1 L371.9,253.1 L372.4,253.3 L372.9,253.5 L373.4,253.4 L373.9,253.2 L374.4,253.3 L374.9,253.7 L375.4,254.0 L375.9,254.0 L376.4,253.8 L376.9,253.7 L377.4,253.7 L377.9,253.2 L378.4,253.2 L378.9,253.7 L379.4,253.8 L379.9,253.8 L380.4,253.9 L380.9,253.7 L381.4,253.6 L381.9,253.4 L382.4,253.2 L382.9,253.4 L383.4,253.4 L383.9,253.1 L384.4,252.7 L384.9,252.1 L385.4,251.5 L385.9,251.0 L386.4,249.8 L386.9,245.2 L387.4,238.2 L387.5,238.0 L387.9,241.8 L388.4,245.8 L388.9,247.2 L389.4,248.0 L389.9,248.7 L390.4,249.0 L390.9,248.8 L391.4,248.8 L391.6,249.1 L391.9,249.6 L392.4,250.2 L392.9,250.7 L393.4,250.9 L393.9,251.2 L394.4,251.8 L394.9,252.2 L395.4,252.3 L395.9,252.4 L396.4,252.4 L396.9,252.3 L397.4,252.4 L397.9,252.5 L398.4,252.4 L398.9,252.6 L399.4,252.9 L399.9,253.1 L400.4,253.4 L400.9,253.3 L401.4,253.2 L401.9,253.2 L402.4,253.1 L402.9,253.5 L403.4,253.8 L403.9,253.9 L404.4,253.8 L404.9,253.3 L405.4,253.1 L405.9,253.7 L406.4,254.0 L406.9,253.8 L407.4,253.8 L407.9,253.8 L408.4,253.8 L408.9,253.6 L409.4,253.5 L409.9,253.5 L410.4,253.3 L410.9,253.4 L411.4,253.7 L411.9,253.9 L412.4,253.8 L412.9,253.7 L413.4,253.9 L413.9,254.2 L414.4,254.0 L414.9,253.5 L415.4,253.4 L415.9,253.8 L416.4,253.9 L416.9,253.8 L417.4,253.9 L417.9,254.0 L418.4,254.1 L418.9,253.9 L419.4,253.9 L419.9,253.9 L420.4,253.9 L420.9,253.9 L421.4,253.9 L421.9,253.8 L422.4,253.9 L422.9,253.8 L423.4,253.5 L423.9,253.4 L424.4,253.6 L424.9,253.9 L425.4,253.8 L425.9,253.7 L426.4,253.8 L426.9,253.6 L427.4,253.5 L427.9,253.7 L428.4,253.9 L428.9,253.7 L429.4,253.5 L429.9,253.8 L430.4,254.1 L430.9,254.1 L431.4,253.7 L431.9,253.3 L432.4,253.4 L432.9,253.7 L433.4,254.0 L433.9,253.8 L434.4,253.1 L434.9,253.1 L435.4,253.5 L435.9,253.7 L436.4,254.0 L436.9,254.4 L437.4,254.4 L437.9,254.1 L438.4,254.1 L438.9,254.1" fill="none" stroke="#4f90be" stroke-width="1.0" stroke-linejoin="round"/>
<path d="M259.9,280.0 L260.4,280.2 L260.9,280.4 L261.4,280.1 L261.9,279.7 L262.4,279.7 L262.9,279.6 L263.4,278.6 L263.7,277.9 L263.9,277.7 L264.4,278.7 L264.9,279.6 L265.4,280.0 L265.9,280.4 L266.4,280.7 L266.9,280.5 L267.4,280.5 L267.9,280.6 L268.4,280.5 L268.9,280.3 L269.4,280.1 L269.9,279.9 L270.4,280.1 L270.9,280.7 L271.4,280.9 L271.9,280.5 L272.4,280.4 L272.9,280.7 L273.4,281.2 L273.9,281.1 L274.4,280.7 L274.9,280.8 L275.4,280.8 L275.9,280.5 L276.4,280.6 L276.9,280.7 L277.4,280.7 L277.9,280.8 L278.4,280.9 L278.9,280.6 L279.4,280.5 L279.9,280.6 L280.4,280.6 L280.9,280.7 L281.4,280.9 L281.9,280.6 L282.4,280.1 L282.9,279.8 L283.4,280.0 L283.9,280.0 L284.4,279.9 L284.9,279.6 L285.4,279.1 L285.9,278.5 L286.4,278.1 L286.8,277.9 L286.9,277.6 L287.4,277.7 L287.9,278.2 L288.4,278.8 L288.9,279.0 L289.4,279.4 L289.9,279.8 L290.4,280.0 L290.9,280.0 L291.4,280.1 L291.9,280.3 L292.4,280.2 L292.9,280.3 L293.4,280.3 L293.9,280.1 L294.4,280.1 L294.9,280.5 L295.4,280.8 L295.9,280.6 L296.4,280.2 L296.9,280.1 L297.4,280.4 L297.9,280.6 L298.4,280.4 L298.9,280.1 L299.4,280.0 L299.9,280.2 L300.4,280.4 L300.9,280.4 L301.4,280.7 L301.9,280.8 L302.4,280.3 L302.9,280.3 L303.4,280.4 L303.9,280.3 L304.4,280.6 L304.9,280.7 L305.4,280.7 L305.9,280.9 L306.4,280.9 L306.9,280.5 L307.4,280.2 L307.9,280.0 L308.4,280.3 L308.9,280.8 L309.4,280.5 L309.9,280.2 L310.4,280.7 L310.9,280.9 L311.4,280.5 L311.9,280.2 L312.4,280.0 L312.9,279.9 L313.4,280.1 L313.9,280.0 L314.4,280.1 L314.9,280.4 L315.4,280.5 L315.9,280.5 L316.4,280.5 L316.9,280.2 L317.4,280.1 L317.9,280.4 L318.4,280.6 L318.9,280.1 L319.4,278.7 L319.9,275.6 L320.4,270.5 L320.6,269.8 L320.9,271.9 L321.4,276.8 L321.9,278.5 L322.4,279.0 L322.9,279.8 L323.4,280.1 L323.9,280.1 L324.4,280.2 L324.9,280.4 L325.4,280.2 L325.9,280.0 L326.4,280.3 L326.9,280.4 L327.4,280.4 L327.9,280.6 L328.4,280.3 L328.9,280.1 L329.4,280.6 L329.9,280.6 L330.4,280.4 L330.9,280.6 L331.4,280.8 L331.9,280.4 L332.4,279.9 L332.9,279.6 L333.4,279.1 L333.9,276.5 L334.2,275.2 L334.4,276.0 L334.9,278.7 L335.4,279.7 L335.9,280.3 L336.4,280.4 L336.9,280.5 L337.4,280.4 L337.9,280.3 L338.4,280.4 L338.9,280.4 L339.4,280.0 L339.9,280.0 L340.4,280.3 L340.9,280.4 L341.4,280.5 L341.9,280.6 L342.4,280.4 L342.9,280.2 L343.4,280.2 L343.9,280.2 L344.4,280.4 L344.9,280.3 L345.4,279.7 L345.9,279.2 L346.4,278.8 L346.9,278.0 L347.4,277.1 L347.9,276.4 L348.3,276.3 L348.4,276.4 L348.9,277.1 L349.4,278.4 L349.9,279.0 L350.4,278.7 L350.9,278.7 L351.4,279.5 L351.9,280.3 L352.4,280.4 L352.9,280.3 L353.4,280.2 L353.9,280.1 L354.4,280.1 L354.9,280.2 L355.4,280.3 L355.9,280.3 L356.4,280.2 L356.9,280.4 L357.4,280.8 L357.9,280.8 L358.4,280.4 L358.9,280.4 L359.4,280.7 L359.9,281.0 L360.4,280.9 L360.9,280.5 L361.4,280.6 L361.9,281.1 L362.4,281.0 L362.9,280.5 L363.4,280.3 L363.9,280.7 L364.4,281.0 L364.9,281.0 L365.4,280.8 L365.9,280.8 L366.4,280.8 L366.9,280.5 L367.4,280.4 L367.9,280.7 L368.4,280.9 L368.9,280.8 L369.4,280.6 L369.9,280.5 L370.4,280.8 L370.9,281.1 L371.4,280.9 L371.9,280.4 L372.4,280.3 L372.9,280.7 L373.4,280.8 L373.9,280.4 L374.4,280.4 L374.9,280.3 L375.4,280.3 L375.9,280.7 L376.4,280.4 L376.9,279.7 L377.4,279.8 L377.9,280.3 L378.4,280.5 L378.9,280.5 L379.4,280.3 L379.9,280.0 L380.4,279.9 L380.9,280.2 L381.4,280.5 L381.9,280.3 L382.4,280.3 L382.9,280.4 L383.4,280.2 L383.9,280.4 L384.4,280.1 L384.9,279.2 L385.4,278.4 L385.9,276.9 L386.4,274.0 L386.9,267.8 L387.4,258.7 L387.5,258.8 L387.9,263.5 L388.4,268.3 L388.9,270.9 L389.4,272.6 L389.9,273.4 L390.4,273.6 L390.9,273.6 L391.4,274.0 L391.6,274.2 L391.9,274.2 L392.4,274.7 L392.9,275.5 L393.4,276.5 L393.9,277.3 L394.4,277.7 L394.9,278.2 L395.4,278.8 L395.9,279.0 L396.4,278.9 L396.9,278.9 L397.4,279.0 L397.9,279.1 L398.4,279.2 L398.9,279.6 L399.4,279.8 L399.9,279.5 L400.4,279.5 L400.9,279.7 L401.4,280.0 L401.9,280.2 L402.4,280.2 L402.9,279.9 L403.4,279.7 L403.9,279.8 L404.4,280.0 L404.9,280.1 L405.4,280.3 L405.9,280.2 L406.4,280.2 L406.9,280.5 L407.4,281.0 L407.9,281.1 L408.4,280.6 L408.9,280.4 L409.4,280.8 L409.9,280.9 L410.4,280.6 L410.9,280.5 L411.4,280.6 L411.9,280.6 L412.4,280.4 L412.9,280.3 L413.4,280.4 L413.9,280.3 L414.4,280.2 L414.9,280.2 L415.4,280.5 L415.9,281.0 L416.4,281.0 L416.9,280.5 L417.4,280.4 L417.9,280.5 L418.4,280.4 L418.9,280.4 L419.4,280.8 L419.9,281.0 L420.4,281.0 L420.9,281.0 L421.4,280.7 L421.9,280.5 L422.4,280.4 L422.9,280.3 L423.4,280.5 L423.9,280.9 L424.4,280.9 L424.9,280.6 L425.4,280.5 L425.9,280.4 L426.4,280.6 L426.9,280.6 L427.4,280.5 L427.9,280.3 L428.4,280.1 L428.9,280.4 L429.4,280.8 L429.9,280.4 L430.4,280.2 L430.9,280.3 L431.4,280.2 L431.9,280.1 L432.4,280.1 L432.9,280.2 L433.4,280.2 L433.9,279.8 L434.4,279.8 L434.9,280.1 L435.4,280.3 L435.9,280.4 L436.4,280.4 L436.9,280.5 L437.4,280.5 L437.9,280.5 L438.4,280.6 L438.9,280.3" fill="none" stroke="#41589e" stroke-width="1.0" stroke-linejoin="round"/>
<path d="M259.9,292.5 L260.4,292.9 L260.9,293.0 L261.4,292.7 L261.9,292.8 L262.4,292.9 L262.9,292.8 L263.4,292.3 L263.7,292.0 L263.9,292.1 L264.4,292.4 L264.9,292.7 L265.4,293.0 L265.9,293.2 L266.4,293.0 L266.9,292.6 L267.4,292.9 L267.9,293.0 L268.4,293.1 L268.9,293.4 L269.4,293.2 L269.9,292.9 L270.4,293.0 L270.9,292.9 L271.4,292.7 L271.9,292.7 L272.4,292.9 L272.9,292.9 L273.4,292.7 L273.9,292.6 L274.4,292.7 L274.9,292.7 L275.4,292.8 L275.9,293.0 L276.4,293.0 L276.9,292.7 L277.4,292.6 L277.9,292.5 L278.4,292.8 L278.9,293.0 L279.4,293.1 L279.9,293.4 L280.4,293.1 L280.9,292.7 L281.4,292.7 L281.9,292.7 L282.4,292.7 L282.9,292.7 L283.4,292.3 L283.9,291.9 L284.4,292.1 L284.9,292.5 L285.4,292.5 L285.9,292.3 L286.4,292.1 L286.8,292.1 L286.9,292.1 L287.4,292.2 L287.9,292.5 L288.4,292.6 L288.9,292.5 L289.4,292.7 L289.9,292.9 L290.4,292.5 L290.9,292.2 L291.4,292.5 L291.9,292.5 L292.4,292.1 L292.9,292.1 L293.4,292.6 L293.9,293.2 L294.4,293.2 L294.9,293.0 L295.4,293.1 L295.9,292.9 L296.4,292.5 L296.9,292.7 L297.4,293.0 L297.9,293.2 L298.4,293.4 L298.9,293.0 L299.4,292.7 L299.9,292.8 L300.4,292.9 L300.9,293.1 L301.4,293.5 L301.9,293.5 L302.4,292.9 L302.9,292.5 L303.4,292.7 L303.9,293.1 L304.4,293.4 L304.9,293.3 L305.4,293.4 L305.9,293.5 L306.4,292.9 L306.9,292.7 L307.4,293.2 L307.9,293.3 L308.4,292.9 L308.9,292.7 L309.4,292.9 L309.9,293.0 L310.4,292.8 L310.9,292.7 L311.4,292.7 L311.9,292.9 L312.4,292.9 L312.9,292.9 L313.4,292.7 L313.9,292.5 L314.4,292.6 L314.9,292.7 L315.4,292.8 L315.9,292.7 L316.4,292.8 L316.9,293.1 L317.4,293.2 L317.9,293.0 L318.4,292.9 L318.9,292.8 L319.4,292.1 L319.9,290.7 L320.4,289.0 L320.6,288.6 L320.9,288.9 L321.4,291.0 L321.9,292.3 L322.4,292.5 L322.9,292.4 L323.4,292.8 L323.9,293.0 L324.4,292.7 L324.9,292.5 L325.4,292.6 L325.9,292.8 L326.4,293.0 L326.9,292.6 L327.4,292.3 L327.9,292.7 L328.4,293.0 L328.9,292.9 L329.4,292.4 L329.9,292.6 L330.4,293.0 L330.9,292.9 L331.4,292.8 L331.9,292.9 L332.4,292.9 L332.9,292.5 L333.4,292.1 L333.9,291.1 L334.2,290.7 L334.4,291.1 L334.9,292.2 L335.4,292.6 L335.9,292.9 L336.4,293.0 L336.9,293.0 L337.4,293.0 L337.9,293.0 L338.4,292.5 L338.9,292.2 L339.4,292.4 L339.9,292.6 L340.4,293.0 L340.9,293.2 L341.4,293.3 L341.9,293.3 L342.4,293.5 L342.9,293.6 L343.4,293.0 L343.9,292.7 L344.4,292.8 L344.9,292.9 L345.4,292.6 L345.9,292.2 L346.4,292.0 L346.9,291.8 L347.4,291.5 L347.9,291.4 L348.3,291.4 L348.4,291.4 L348.9,291.6 L349.4,292.2 L349.9,292.5 L350.4,292.4 L350.9,292.3 L351.4,292.5 L351.9,292.7 L352.4,292.9 L352.9,292.7 L353.4,292.6 L353.9,292.8 L354.4,292.9 L354.9,292.9 L355.4,293.2 L355.9,293.4 L356.4,292.9 L356.9,292.7 L357.4,292.5 L357.9,292.4 L358.4,292.5 L358.9,292.5 L359.4,292.7 L359.9,293.3 L360.4,293.6 L360.9,293.4 L361.4,293.2 L361.9,293.2 L362.4,293.1 L362.9,293.0 L363.4,293.1 L363.9,293.1 L364.4,293.3 L364.9,293.4 L365.4,293.1 L365.9,292.7 L366.4,292.6 L366.9,292.8 L367.4,293.1 L367.9,293.2 L368.4,293.1 L368.9,292.9 L369.4,293.0 L369.9,293.0 L370.4,292.8 L370.9,292.9 L371.4,293.0 L371.9,293.2 L372.4,293.4 L372.9,293.2 L373.4,292.6 L373.9,292.8 L374.4,293.5 L374.9,293.5 L375.4,292.9 L375.9,292.6 L376.4,292.8 L376.9,292.8 L377.4,292.7 L377.9,292.9 L378.4,293.3 L378.9,293.4 L379.4,293.4 L379.9,293.1 L380.4,293.1 L380.9,293.4 L381.4,293.4 L381.9,293.2 L382.4,293.1 L382.9,292.8 L383.4,292.4 L383.9,292.3 L384.4,292.2 L384.9,292.2 L385.4,292.1 L385.9,291.8 L386.4,290.6 L386.9,287.4 L387.4,283.2 L387.5,283.2 L387.9,285.7 L388.4,288.1 L388.9,289.1 L389.4,289.4 L389.9,289.7 L390.4,290.1 L390.9,290.4 L391.4,290.3 L391.6,290.1 L391.9,290.5 L392.4,291.1 L392.9,291.2 L393.4,291.3 L393.9,291.9 L394.4,292.3 L394.9,292.4 L395.4,292.1 L395.9,291.8 L396.4,292.1 L396.9,292.5 L397.4,292.7 L397.9,292.6 L398.4,292.6 L398.9,292.6 L399.4,292.5 L399.9,292.7 L400.4,293.0 L400.9,293.0 L401.4,292.6 L401.9,292.3 L402.4,292.3 L402.9,292.6 L403.4,292.8 L403.9,292.8 L404.4,292.7 L404.9,292.9 L405.4,293.0 L405.9,292.8 L406.4,292.7 L406.9,292.7 L407.4,292.8 L407.9,292.9 L408.4,293.2 L408.9,293.3 L409.4,292.9 L409.9,292.9 L410.4,293.4 L410.9,293.0 L411.4,292.4 L411.9,292.5 L412.4,292.6 L412.9,292.5 L413.4,293.1 L413.9,293.5 L414.4,293.2 L414.9,293.0 L415.4,293.1 L415.9,293.0 L416.4,292.8 L416.9,292.6 L417.4,292.7 L417.9,293.1 L418.4,293.2 L418.9,293.0 L419.4,292.9 L419.9,293.0 L420.4,292.9 L420.9,293.1 L421.4,293.1 L421.9,292.6 L422.4,292.6 L422.9,292.7 L423.4,292.9 L423.9,292.9 L424.4,292.5 L424.9,292.3 L425.4,292.8 L425.9,293.5 L426.4,293.6 L426.9,292.9 L427.4,292.5 L427.9,292.7 L428.4,293.0 L428.9,293.2 L429.4,293.4 L429.9,293.5 L430.4,293.4 L430.9,293.4 L431.4,293.1 L431.9,293.0 L432.4,293.3 L432.9,293.3 L433.4,293.0 L433.9,293.2 L434.4,293.2 L434.9,293.0 L435.4,293.2 L435.9,293.3 L436.4,292.9 L436.9,292.8 L437.4,293.1 L437.9,293.0 L438.4,292.4 L438.9,292.2" fill="none" stroke="#5d4890" stroke-width="1.0" stroke-linejoin="round"/>
<path d="M259.9,302.2 L260.4,302.6 L260.9,302.6 L261.4,302.3 L261.9,302.8 L262.4,303.1 L262.9,302.5 L263.4,302.1 L263.7,302.0 L263.9,301.8 L264.4,302.4 L264.9,302.9 L265.4,302.7 L265.9,302.5 L266.4,302.6 L266.9,302.7 L267.4,302.8 L267.9,302.9 L268.4,302.7 L268.9,302.8 L269.4,303.2 L269.9,303.2 L270.4,303.1 L270.9,303.0 L271.4,302.9 L271.9,303.0 L272.4,303.0 L272.9,303.0 L273.4,302.9 L273.9,302.9 L274.4,302.9 L274.9,303.1 L275.4,303.1 L275.9,303.0 L276.4,302.8 L276.9,302.3 L277.4,302.3 L277.9,302.7 L278.4,302.8 L278.9,302.7 L279.4,302.2 L279.9,302.0 L280.4,302.3 L280.9,302.8 L281.4,303.0 L281.9,302.6 L282.4,302.4 L282.9,302.5 L283.4,302.9 L283.9,303.0 L284.4,302.8 L284.9,302.4 L285.4,302.2 L285.9,302.0 L286.4,301.9 L286.8,302.1 L286.9,302.0 L287.4,302.1 L287.9,302.5 L288.4,303.0 L288.9,303.3 L289.4,303.3 L289.9,303.0 L290.4,303.0 L290.9,303.0 L291.4,302.9 L291.9,303.0 L292.4,303.0 L292.9,302.9 L293.4,302.8 L293.9,302.7 L294.4,302.5 L294.9,302.6 L295.4,303.0 L295.9,303.2 L296.4,302.9 L296.9,302.6 L297.4,302.6 L297.9,302.7 L298.4,302.7 L298.9,302.6 L299.4,302.7 L299.9,302.9 L300.4,302.9 L300.9,302.8 L301.4,302.7 L301.9,302.6 L302.4,302.5 L302.9,302.5 L303.4,302.8 L303.9,302.9 L304.4,303.0 L304.9,303.0 L305.4,302.9 L305.9,303.2 L306.4,303.3 L306.9,303.0 L307.4,302.8 L307.9,302.8 L308.4,302.8 L308.9,302.7 L309.4,302.9 L309.9,302.9 L310.4,302.7 L310.9,303.2 L311.4,303.7 L311.9,303.2 L312.4,302.9 L312.9,302.8 L313.4,302.8 L313.9,302.8 L314.4,302.4 L314.9,302.3 L315.4,302.7 L315.9,302.9 L316.4,302.9 L316.9,303.0 L317.4,302.9 L317.9,302.6 L318.4,302.6 L318.9,302.7 L319.4,302.4 L319.9,301.7 L320.4,300.4 L320.6,300.1 L320.9,300.7 L321.4,302.0 L321.9,302.5 L322.4,302.5 L322.9,302.6 L323.4,302.7 L323.9,302.5 L324.4,302.5 L324.9,302.6 L325.4,302.4 L325.9,302.3 L326.4,302.7 L326.9,302.8 L327.4,302.6 L327.9,302.5 L328.4,302.6 L328.9,302.9 L329.4,303.2 L329.9,303.2 L330.4,303.0 L330.9,302.9 L331.4,302.8 L331.9,302.6 L332.4,302.8 L332.9,303.3 L333.4,303.1 L333.9,302.1 L334.2,301.5 L334.4,301.3 L334.9,301.8 L335.4,302.3 L335.9,302.6 L336.4,302.7 L336.9,302.7 L337.4,302.9 L337.9,302.8 L338.4,302.7 L338.9,302.7 L339.4,302.8 L339.9,302.7 L340.4,302.7 L340.9,303.1 L341.4,303.3 L341.9,303.2 L342.4,303.0 L342.9,303.0 L343.4,303.1 L343.9,302.8 L344.4,302.5 L344.9,302.6 L345.4,302.9 L345.9,302.7 L346.4,302.3 L346.9,302.1 L347.4,302.1 L347.9,302.2 L348.3,302.2 L348.4,301.9 L348.9,302.0 L349.4,302.4 L349.9,302.7 L350.4,302.9 L350.9,302.9 L351.4,302.8 L351.9,302.7 L352.4,302.7 L352.9,303.1 L353.4,303.5 L353.9,303.4 L354.4,303.1 L354.9,302.9 L355.4,302.9 L355.9,302.8 L356.4,302.7 L356.9,302.7 L357.4,302.7 L357.9,302.9 L358.4,303.0 L358.9,302.7 L359.4,302.6 L359.9,302.8 L360.4,303.0 L360.9,303.0 L361.4,302.9 L361.9,303.0 L362.4,303.4 L362.9,303.5 L363.4,303.2 L363.9,303.0 L364.4,302.9 L364.9,302.6 L365.4,302.5 L365.9,302.6 L366.4,302.8 L366.9,302.8 L367.4,302.7 L367.9,302.8 L368.4,302.9 L368.9,302.4 L369.4,302.5 L369.9,303.1 L370.4,303.2 L370.9,302.8 L371.4,303.0 L371.9,303.4 L372.4,303.2 L372.9,302.9 L373.4,303.2 L373.9,303.5 L374.4,303.3 L374.9,303.1 L375.4,303.1 L375.9,303.0 L376.4,302.8 L376.9,302.9 L377.4,303.4 L377.9,303.5 L378.4,302.9 L378.9,302.7 L379.4,303.0 L379.9,303.4 L380.4,302.9 L380.9,302.7 L381.4,303.1 L381.9,303.1 L382.4,302.9 L382.9,303.2 L383.4,303.3 L383.9,303.1 L384.4,302.6 L384.9,302.6 L385.4,302.8 L385.9,302.2 L386.4,301.2 L386.9,299.7 L387.4,297.5 L387.5,297.2 L387.9,298.4 L388.4,300.0 L388.9,300.8 L389.4,301.0 L389.9,301.2 L390.4,301.3 L390.9,301.2 L391.4,301.1 L391.6,301.4 L391.9,301.8 L392.4,302.2 L392.9,302.3 L393.4,302.3 L393.9,302.2 L394.4,302.2 L394.9,302.2 L395.4,302.1 L395.9,301.9 L396.4,302.1 L396.9,302.4 L397.4,302.5 L397.9,302.7 L398.4,302.9 L398.9,302.8 L399.4,302.5 L399.9,302.3 L400.4,302.3 L400.9,302.5 L401.4,302.6 L401.9,302.7 L402.4,302.6 L402.9,302.4 L403.4,302.4 L403.9,302.6 L404.4,302.4 L404.9,302.4 L405.4,302.6 L405.9,302.6 L406.4,303.1 L406.9,303.2 L407.4,302.6 L407.9,302.8 L408.4,303.2 L408.9,303.0 L409.4,302.4 L409.9,302.4 L410.4,302.5 L410.9,302.1 L411.4,302.0 L411.9,302.4 L412.4,302.7 L412.9,302.8 L413.4,303.0 L413.9,303.0 L414.4,303.0 L414.9,303.2 L415.4,302.9 L415.9,302.5 L416.4,302.5 L416.9,302.5 L417.4,302.4 L417.9,302.5 L418.4,302.6 L418.9,302.6 L419.4,302.7 L419.9,302.9 L420.4,303.2 L420.9,303.3 L421.4,303.1 L421.9,303.0 L422.4,302.9 L422.9,302.8 L423.4,303.0 L423.9,303.1 L424.4,303.2 L424.9,303.0 L425.4,302.7 L425.9,303.0 L426.4,303.3 L426.9,303.1 L427.4,302.8 L427.9,302.9 L428.4,302.8 L428.9,302.4 L429.4,302.2 L429.9,302.8 L430.4,303.0 L430.9,302.4 L431.4,302.4 L431.9,303.0 L432.4,303.2 L432.9,303.1 L433.4,302.6 L433.9,302.1 L434.4,302.2 L434.9,302.6 L435.4,302.7 L435.9,302.8 L436.4,302.9 L436.9,303.0 L437.4,302.9 L437.9,302.7 L438.4,303.1 L438.9,303.7" fill="none" stroke="#9a5990" stroke-width="1.0" stroke-linejoin="round"/>
<line x1="266" y1="182.1" x2="283.7" y2="182.1" stroke="#3cbccc" stroke-width="1.0" stroke-opacity="0.55"/>
<text x="286" y="185" font-size="8.25" text-anchor="start" fill="#1e1a1a" font-weight="normal" stroke="#1e1a1a" stroke-width="0.18" letter-spacing="0">W-TNT-600</text>
<line x1="266" y1="191.9" x2="283.7" y2="191.9" stroke="#5aa4d8" stroke-width="1.0" stroke-opacity="0.55"/>
<text x="286" y="194.8" font-size="8.25" text-anchor="start" fill="#1e1a1a" font-weight="normal" stroke="#1e1a1a" stroke-width="0.18" letter-spacing="0">74% W-TNT-600</text>
<line x1="266" y1="201.8" x2="283.7" y2="201.8" stroke="#4a64b4" stroke-width="1.0" stroke-opacity="0.55"/>
<text x="286" y="204.7" font-size="8.25" text-anchor="start" fill="#1e1a1a" font-weight="normal" stroke="#1e1a1a" stroke-width="0.18" letter-spacing="0">54% W-TNT-600</text>
<line x1="266" y1="211.4" x2="283.7" y2="211.4" stroke="#6a52a4" stroke-width="1.0" stroke-opacity="0.55"/>
<text x="286" y="214.3" font-size="8.25" text-anchor="start" fill="#1e1a1a" font-weight="normal" stroke="#1e1a1a" stroke-width="0.18" letter-spacing="0">39% W-TNT-600</text>
<line x1="266" y1="221.5" x2="283.7" y2="221.5" stroke="#b066a4" stroke-width="1.0" stroke-opacity="0.55"/>
<text x="286" y="224.4" font-size="8.25" text-anchor="start" fill="#1e1a1a" font-weight="normal" stroke="#1e1a1a" stroke-width="0.18" letter-spacing="0">19% W-TNT-600</text>
<line x1="393.5" y1="195.8" x2="389.4" y2="189.4" stroke="#c9a0a0" stroke-width="0.9" stroke-linecap="round"/>
<line x1="402.7" y1="195.8" x2="406.3" y2="189.4" stroke="#c9a0a0" stroke-width="0.9" stroke-linecap="round"/>
<line x1="393.5" y1="212.2" x2="389.4" y2="218.8" stroke="#c9a0a0" stroke-width="0.9" stroke-linecap="round"/>
<line x1="402.7" y1="212.2" x2="406.3" y2="218.8" stroke="#c9a0a0" stroke-width="0.9" stroke-linecap="round"/>
<line x1="379.7" y1="204.2" x2="376.6" y2="195.8" stroke="#c9a0a0" stroke-width="0.9" stroke-linecap="round"/>
<line x1="421.1" y1="211.9" x2="416.5" y2="217.3" stroke="#c9a0a0" stroke-width="0.9" stroke-linecap="round"/>
<line x1="388.9" y1="204.2" x2="393.5" y2="195.8" stroke="#9a7560" stroke-width="1.2" stroke-linecap="round"/>
<line x1="393.5" y1="195.8" x2="402.7" y2="195.8" stroke="#9a7560" stroke-width="1.2" stroke-linecap="round"/>
<line x1="402.7" y1="195.8" x2="407.3" y2="204.2" stroke="#9a7560" stroke-width="1.2" stroke-linecap="round"/>
<line x1="407.3" y1="204.2" x2="402.7" y2="212.2" stroke="#9a7560" stroke-width="1.2" stroke-linecap="round"/>
<line x1="402.7" y1="212.2" x2="393.5" y2="212.2" stroke="#9a7560" stroke-width="1.2" stroke-linecap="round"/>
<line x1="393.5" y1="212.2" x2="388.9" y2="204.2" stroke="#9a7560" stroke-width="1.2" stroke-linecap="round"/>
<line x1="379.7" y1="204.2" x2="388.9" y2="204.2" stroke="#a09050" stroke-width="1.2" stroke-linecap="round"/>
<line x1="407.3" y1="204.2" x2="416.5" y2="204.2" stroke="#9a7560" stroke-width="1.2" stroke-linecap="round"/>
<line x1="416.5" y1="204.2" x2="421.1" y2="195.8" stroke="#b05040" stroke-width="1.2" stroke-linecap="round"/>
<line x1="416.5" y1="204.2" x2="421.1" y2="211.9" stroke="#b05040" stroke-width="1.2" stroke-linecap="round"/>
<circle cx="389.4" cy="189.4" r="1.4" fill="url(#gH)"/>
<circle cx="406.3" cy="189.4" r="1.4" fill="url(#gH)"/>
<circle cx="389.4" cy="218.8" r="1.4" fill="url(#gH)"/>
<circle cx="406.3" cy="218.8" r="1.4" fill="url(#gH)"/>
<circle cx="376.6" cy="195.8" r="1.4" fill="url(#gH)"/>
<circle cx="416.5" cy="217.3" r="1.4" fill="url(#gH)"/>
<circle cx="388.9" cy="204.2" r="2.0" fill="url(#gC)"/>
<circle cx="393.5" cy="195.8" r="2.0" fill="url(#gC)"/>
<circle cx="402.7" cy="195.8" r="2.0" fill="url(#gC)"/>
<circle cx="407.3" cy="204.2" r="2.0" fill="url(#gC)"/>
<circle cx="402.7" cy="212.2" r="2.0" fill="url(#gC)"/>
<circle cx="393.5" cy="212.2" r="2.0" fill="url(#gC)"/>
<circle cx="416.5" cy="204.2" r="2.0" fill="url(#gC)"/>
<circle cx="421.1" cy="195.8" r="2.2" fill="url(#gO)"/>
<circle cx="421.1" cy="211.9" r="2.2" fill="url(#gO)"/>
<circle cx="379.7" cy="204.2" r="2.8" fill="url(#gS)"/>
<text x="222.8" y="192.8" font-size="24.5" text-anchor="start" fill="#231815" font-weight="bold" >e</text>
<rect x="35.6" y="340.8" width="180.6" height="135" fill="none" stroke="#3a3a3a" stroke-width="1"/>
<line x1="35.6" y1="475.8" x2="35.6" y2="478.3" stroke="#3a3a3a" stroke-width="0.9" />
<text x="35.6" y="486.4" font-size="8.25" text-anchor="middle" fill="#1e1a1a" font-weight="normal" stroke="#1e1a1a" stroke-width="0.18" >600</text>
<line x1="48.5" y1="475.8" x2="48.5" y2="477.3" stroke="#3a3a3a" stroke-width="0.9" />
<line x1="61.4" y1="475.8" x2="61.4" y2="478.3" stroke="#3a3a3a" stroke-width="0.9" />
<text x="61.4" y="486.4" font-size="8.25" text-anchor="middle" fill="#1e1a1a" font-weight="normal" stroke="#1e1a1a" stroke-width="0.18" >800</text>
<line x1="74.3" y1="475.8" x2="74.3" y2="477.3" stroke="#3a3a3a" stroke-width="0.9" />
<line x1="87.2" y1="475.8" x2="87.2" y2="478.3" stroke="#3a3a3a" stroke-width="0.9" />
<text x="87.2" y="486.4" font-size="8.25" text-anchor="middle" fill="#1e1a1a" font-weight="normal" stroke="#1e1a1a" stroke-width="0.18" >1000</text>
<line x1="100.1" y1="475.8" x2="100.1" y2="477.3" stroke="#3a3a3a" stroke-width="0.9" />
<line x1="113" y1="475.8" x2="113" y2="478.3" stroke="#3a3a3a" stroke-width="0.9" />
<text x="113" y="486.4" font-size="8.25" text-anchor="middle" fill="#1e1a1a" font-weight="normal" stroke="#1e1a1a" stroke-width="0.18" >1200</text>
<line x1="125.9" y1="475.8" x2="125.9" y2="477.3" stroke="#3a3a3a" stroke-width="0.9" />
<line x1="138.8" y1="475.8" x2="138.8" y2="478.3" stroke="#3a3a3a" stroke-width="0.9" />
<text x="138.8" y="486.4" font-size="8.25" text-anchor="middle" fill="#1e1a1a" font-weight="normal" stroke="#1e1a1a" stroke-width="0.18" >1400</text>
<line x1="151.7" y1="475.8" x2="151.7" y2="477.3" stroke="#3a3a3a" stroke-width="0.9" />
<line x1="164.6" y1="475.8" x2="164.6" y2="478.3" stroke="#3a3a3a" stroke-width="0.9" />
<text x="164.6" y="486.4" font-size="8.25" text-anchor="middle" fill="#1e1a1a" font-weight="normal" stroke="#1e1a1a" stroke-width="0.18" >1600</text>
<line x1="177.5" y1="475.8" x2="177.5" y2="477.3" stroke="#3a3a3a" stroke-width="0.9" />
<line x1="190.4" y1="475.8" x2="190.4" y2="478.3" stroke="#3a3a3a" stroke-width="0.9" />
<text x="190.4" y="486.4" font-size="8.25" text-anchor="middle" fill="#1e1a1a" font-weight="normal" stroke="#1e1a1a" stroke-width="0.18" >1800</text>
<line x1="203.3" y1="475.8" x2="203.3" y2="477.3" stroke="#3a3a3a" stroke-width="0.9" />
<line x1="216.2" y1="475.8" x2="216.2" y2="478.3" stroke="#3a3a3a" stroke-width="0.9" />
<text x="216.2" y="486.4" font-size="8.25" text-anchor="middle" fill="#1e1a1a" font-weight="normal" stroke="#1e1a1a" stroke-width="0.18" >2000</text>
<line x1="34.1" y1="460.8" x2="35.6" y2="460.8" stroke="#3a3a3a" stroke-width="0.9" />
<line x1="34.1" y1="440.8" x2="35.6" y2="440.8" stroke="#3a3a3a" stroke-width="0.9" />
<line x1="34.1" y1="420.8" x2="35.6" y2="420.8" stroke="#3a3a3a" stroke-width="0.9" />
<line x1="34.1" y1="400.8" x2="35.6" y2="400.8" stroke="#3a3a3a" stroke-width="0.9" />
<line x1="34.1" y1="380.8" x2="35.6" y2="380.8" stroke="#3a3a3a" stroke-width="0.9" />
<line x1="34.1" y1="360.8" x2="35.6" y2="360.8" stroke="#3a3a3a" stroke-width="0.9" />
<line x1="34.1" y1="340.8" x2="35.6" y2="340.8" stroke="#3a3a3a" stroke-width="0.9" />
<line x1="33.1" y1="470.8" x2="35.6" y2="470.8" stroke="#3a3a3a" stroke-width="0.9" />
<text x="31.6" y="473.2" font-size="8.25" text-anchor="end" fill="#1e1a1a" font-weight="normal" stroke="#1e1a1a" stroke-width="0.18" >0</text>
<line x1="33.1" y1="450.8" x2="35.6" y2="450.8" stroke="#3a3a3a" stroke-width="0.9" />
<text x="31.6" y="453.2" font-size="8.25" text-anchor="end" fill="#1e1a1a" font-weight="normal" stroke="#1e1a1a" stroke-width="0.18" >10</text>
<line x1="33.1" y1="430.8" x2="35.6" y2="430.8" stroke="#3a3a3a" stroke-width="0.9" />
<text x="31.6" y="433.2" font-size="8.25" text-anchor="end" fill="#1e1a1a" font-weight="normal" stroke="#1e1a1a" stroke-width="0.18" >20</text>
<line x1="33.1" y1="410.8" x2="35.6" y2="410.8" stroke="#3a3a3a" stroke-width="0.9" />
<text x="31.6" y="413.2" font-size="8.25" text-anchor="end" fill="#1e1a1a" font-weight="normal" stroke="#1e1a1a" stroke-width="0.18" >30</text>
<line x1="33.1" y1="390.8" x2="35.6" y2="390.8" stroke="#3a3a3a" stroke-width="0.9" />
<text x="31.6" y="393.2" font-size="8.25" text-anchor="end" fill="#1e1a1a" font-weight="normal" stroke="#1e1a1a" stroke-width="0.18" >40</text>
<line x1="33.1" y1="370.8" x2="35.6" y2="370.8" stroke="#3a3a3a" stroke-width="0.9" />
<text x="31.6" y="373.2" font-size="8.25" text-anchor="end" fill="#1e1a1a" font-weight="normal" stroke="#1e1a1a" stroke-width="0.18" >50</text>
<line x1="33.1" y1="350.8" x2="35.6" y2="350.8" stroke="#3a3a3a" stroke-width="0.9" />
<text x="31.6" y="353.2" font-size="8.25" text-anchor="end" fill="#1e1a1a" font-weight="normal" stroke="#1e1a1a" stroke-width="0.18" >60</text>
<text x="126.6" y="496.6" font-size="8.25" text-anchor="middle" fill="#1e1a1a" stroke="#1e1a1a" stroke-width="0.18">Raman shift (cm<tspan font-size="5" dy="-3">-1</tspan><tspan dy="3">)</tspan></text>
<text transform="translate(19,408) rotate(-90)" x="0" y="0" font-size="8" text-anchor="middle" fill="#1e1a1a" stroke="#1e1a1a" stroke-width="0.18">Intensity (10<tspan font-size="5" dy="-3">3</tspan><tspan dy="3"> counts)</tspan></text>
<path d="M35.6,402.6 L36.1,402.9 L36.6,403.3 L37.1,403.2 L37.6,402.6 L38.1,402.3 L38.6,402.4 L39.1,402.5 L39.6,402.5 L40.1,402.4 L40.6,402.4 L41.1,402.4 L41.6,402.5 L42.1,402.5 L42.6,402.5 L43.1,402.5 L43.6,402.0 L44.1,401.4 L44.6,400.9 L44.6,401.1 L45.1,401.9 L45.6,402.6 L46.1,402.9 L46.6,402.9 L47.1,402.6 L47.6,402.5 L48.1,402.4 L48.6,402.4 L49.1,402.9 L49.6,403.3 L50.1,403.4 L50.6,403.2 L51.1,402.4 L51.6,402.1 L52.1,402.6 L52.6,402.7 L53.1,402.4 L53.6,402.4 L54.1,402.9 L54.6,403.1 L55.1,402.6 L55.6,402.1 L56.1,402.0 L56.6,401.0 L57.1,398.9 L57.5,397.7 L57.6,397.7 L58.1,399.5 L58.6,401.3 L59.1,401.7 L59.6,401.9 L60.1,402.1 L60.6,402.3 L61.1,402.4 L61.6,402.2 L62.1,402.2 L62.6,402.4 L63.1,402.5 L63.6,402.7 L64.1,403.0 L64.6,403.2 L65.1,403.1 L65.6,402.7 L66.1,402.4 L66.6,402.5 L67.1,402.5 L67.6,402.1 L68.1,401.1 L68.6,399.1 L69.1,397.8 L69.1,397.9 L69.6,399.0 L70.1,400.5 L70.6,401.1 L71.1,401.8 L71.6,402.5 L72.1,402.3 L72.6,402.0 L73.1,402.3 L73.6,402.8 L74.1,402.9 L74.6,402.8 L75.1,403.0 L75.6,403.1 L76.1,403.1 L76.6,403.0 L77.1,402.9 L77.6,402.8 L78.1,402.6 L78.6,402.6 L79.1,402.2 L79.6,401.4 L80.1,401.0 L80.6,400.7 L80.8,400.6 L81.1,400.7 L81.6,401.3 L82.1,401.9 L82.6,402.5 L83.1,402.9 L83.6,403.0 L84.1,403.0 L84.6,403.0 L85.1,403.4 L85.6,403.9 L86.1,403.5 L86.6,402.7 L87.1,402.3 L87.6,402.3 L88.1,402.8 L88.6,403.1 L89.1,402.8 L89.6,402.5 L90.1,402.2 L90.6,401.6 L91.1,401.2 L91.6,400.7 L92.1,400.1 L92.4,400.0 L92.6,400.2 L93.1,400.7 L93.6,401.2 L94.1,401.8 L94.6,401.8 L95.1,401.1 L95.6,400.2 L96.1,399.3 L96.2,399.3 L96.6,400.0 L97.1,401.2 L97.6,402.2 L98.1,402.5 L98.6,402.1 L99.1,402.1 L99.6,402.5 L100.1,402.5 L100.6,402.4 L101.1,402.5 L101.6,402.5 L102.1,402.3 L102.6,402.6 L103.1,402.8 L103.6,402.4 L104.1,402.3 L104.6,402.4 L105.1,402.4 L105.6,402.2 L106.1,401.7 L106.6,401.1 L107.1,400.2 L107.6,399.7 L107.8,399.5 L108.1,399.0 L108.6,399.5 L109.1,400.5 L109.6,401.0 L110.1,401.1 L110.6,401.0 L111.1,400.4 L111.6,400.3 L111.7,400.6 L112.1,400.8 L112.6,401.3 L113.1,401.8 L113.6,401.9 L114.1,401.9 L114.6,402.0 L115.1,402.3 L115.6,402.9 L116.1,402.9 L116.6,402.7 L117.1,402.8 L117.6,402.6 L118.1,402.3 L118.6,402.5 L119.1,402.7 L119.6,402.5 L120.1,402.5 L120.6,402.5 L121.1,402.3 L121.6,402.2 L122.1,402.4 L122.6,402.7 L123.1,402.6 L123.6,402.2 L124.1,402.2 L124.6,402.0 L125.1,401.0 L125.6,400.4 L125.9,400.8 L126.1,401.2 L126.6,401.8 L127.1,402.5 L127.6,402.8 L128.1,402.8 L128.6,402.6 L129.1,402.3 L129.6,402.2 L130.1,402.3 L130.6,402.3 L131.1,402.3 L131.6,402.5 L132.1,402.4 L132.6,402.1 L133.1,402.1 L133.6,402.1 L134.1,401.8 L134.6,401.5 L135.1,401.3 L135.6,400.8 L136.1,400.1 L136.6,399.2 L137.1,397.5 L137.6,394.4 L138.1,392.1 L138.2,392.2 L138.6,393.6 L139.1,396.1 L139.6,397.9 L140.1,399.0 L140.6,399.3 L141.1,399.1 L141.6,399.2 L142.1,399.4 L142.6,399.2 L143.1,398.4 L143.6,397.8 L144.1,397.7 L144.6,397.6 L145.1,397.4 L145.6,397.0 L146.1,396.8 L146.5,397.1 L146.6,397.5 L147.1,397.5 L147.6,397.4 L148.1,397.6 L148.6,397.6 L149.1,398.0 L149.6,398.6 L150.1,398.9 L150.6,399.3 L151.1,400.0 L151.6,400.6 L152.1,400.7 L152.6,401.0 L153.1,401.0 L153.6,400.6 L154.1,400.9 L154.6,401.4 L155.1,401.2 L155.6,401.5 L156.1,402.0 L156.6,402.0 L157.1,402.2 L157.6,402.2 L158.1,401.9 L158.6,401.8 L159.1,401.8 L159.6,401.9 L160.1,402.1 L160.6,401.9 L161.1,401.8 L161.6,401.9 L162.1,401.8 L162.6,401.6 L163.1,401.3 L163.6,400.9 L164.1,400.2 L164.6,398.6 L165.1,396.4 L165.6,394.0 L166.1,390.2 L166.6,382.7 L167.1,369.5 L167.6,353.8 L167.8,351.2 L168.1,354.8 L168.6,371.2 L169.1,384.0 L169.6,391.1 L170.1,395.0 L170.6,397.7 L171.1,399.5 L171.6,400.6 L172.1,401.0 L172.6,401.0 L173.1,401.3 L173.6,401.7 L174.1,402.3 L174.6,402.7 L175.1,402.7 L175.6,402.5 L176.1,402.8 L176.6,403.1 L177.1,402.9 L177.6,402.9 L178.1,402.7 L178.6,402.8 L179.1,402.9 L179.6,403.0 L180.1,403.6 L180.6,403.7 L181.1,403.0 L181.6,402.8 L182.1,403.0 L182.6,403.1 L183.1,403.2 L183.6,403.8 L184.1,404.1 L184.6,403.7 L185.1,403.5 L185.6,403.4 L186.1,403.3 L186.6,403.2 L187.1,403.3 L187.6,403.4 L188.1,403.4 L188.6,403.4 L189.1,403.3 L189.6,403.3 L190.1,403.2 L190.6,403.4 L191.1,403.6 L191.6,403.6 L192.1,403.5 L192.6,403.5 L193.1,403.5 L193.6,403.4 L194.1,403.2 L194.6,402.9 L195.1,403.1 L195.6,403.4 L196.1,403.5 L196.6,404.2 L197.1,404.1 L197.6,403.6 L198.1,403.9 L198.6,404.0 L199.1,404.0 L199.6,404.0 L200.1,403.7 L200.6,403.8 L201.1,403.8 L201.6,403.5 L202.1,403.5 L202.6,403.7 L203.1,403.6 L203.6,403.4 L204.1,403.4 L204.6,403.6 L205.1,403.7 L205.6,403.7 L206.1,403.8 L206.6,403.7 L207.1,403.6 L207.6,403.9 L208.1,403.9 L208.6,403.8 L209.1,404.1 L209.6,404.0 L210.1,403.5 L210.6,403.4 L211.1,403.3 L211.6,403.6 L212.1,404.0 L212.6,404.0 L213.1,403.9 L213.6,403.9 L214.1,403.8 L214.6,403.8 L215.1,403.8 L215.6,403.4 L216.1,403.4" fill="none" stroke="#4174b3" stroke-width="1.0" stroke-linejoin="round"/>
<path d="M35.6,437.2 L36.1,437.2 L36.6,437.3 L37.1,437.4 L37.6,437.1 L38.1,436.9 L38.6,437.1 L39.1,437.2 L39.6,437.2 L40.1,437.3 L40.6,437.4 L41.1,437.6 L41.6,437.5 L42.1,437.2 L42.6,436.8 L43.1,436.7 L43.6,437.0 L44.1,437.0 L44.6,436.6 L44.6,436.5 L45.1,436.5 L45.6,436.5 L46.1,436.8 L46.6,437.3 L47.1,437.4 L47.6,437.3 L48.1,437.3 L48.6,437.4 L49.1,437.3 L49.6,437.1 L50.1,437.0 L50.6,436.6 L51.1,436.3 L51.6,436.6 L52.1,437.0 L52.6,437.4 L53.1,437.3 L53.6,437.0 L54.1,437.1 L54.6,436.9 L55.1,436.8 L55.6,436.8 L56.1,436.7 L56.6,436.4 L57.1,435.5 L57.5,434.8 L57.6,434.8 L58.1,435.6 L58.6,436.1 L59.1,436.4 L59.6,436.8 L60.1,437.0 L60.6,437.4 L61.1,437.5 L61.6,437.1 L62.1,436.9 L62.6,437.4 L63.1,437.6 L63.6,437.5 L64.1,437.6 L64.6,437.5 L65.1,437.1 L65.6,436.6 L66.1,436.8 L66.6,436.9 L67.1,436.5 L67.6,436.3 L68.1,436.1 L68.6,435.4 L69.1,435.0 L69.1,435.3 L69.6,435.9 L70.1,436.3 L70.6,436.3 L71.1,436.4 L71.6,436.7 L72.1,437.0 L72.6,437.0 L73.1,437.1 L73.6,437.2 L74.1,437.0 L74.6,436.8 L75.1,436.5 L75.6,436.6 L76.1,436.9 L76.6,437.3 L77.1,437.4 L77.6,437.3 L78.1,437.1 L78.6,437.2 L79.1,437.2 L79.6,437.0 L80.1,436.3 L80.6,435.8 L80.8,436.0 L81.1,436.3 L81.6,436.7 L82.1,437.1 L82.6,437.3 L83.1,437.3 L83.6,437.4 L84.1,437.2 L84.6,436.9 L85.1,436.8 L85.6,437.1 L86.1,437.6 L86.6,437.6 L87.1,437.1 L87.6,436.7 L88.1,437.1 L88.6,437.2 L89.1,436.9 L89.6,436.8 L90.1,437.1 L90.6,437.1 L91.1,436.5 L91.6,436.2 L92.1,436.1 L92.4,435.8 L92.6,435.7 L93.1,436.0 L93.6,436.2 L94.1,436.3 L94.6,436.3 L95.1,436.4 L95.6,436.3 L96.1,436.1 L96.2,436.0 L96.6,435.9 L97.1,436.0 L97.6,436.4 L98.1,437.0 L98.6,437.1 L99.1,436.9 L99.6,437.1 L100.1,437.5 L100.6,437.5 L101.1,437.4 L101.6,437.1 L102.1,436.7 L102.6,436.6 L103.1,436.8 L103.6,437.1 L104.1,437.2 L104.6,436.9 L105.1,436.5 L105.6,436.1 L106.1,436.0 L106.6,436.0 L107.1,435.9 L107.6,435.6 L107.8,435.1 L108.1,434.9 L108.6,435.4 L109.1,435.9 L109.6,436.0 L110.1,436.0 L110.6,436.0 L111.1,435.9 L111.6,435.9 L111.7,436.0 L112.1,436.0 L112.6,436.4 L113.1,436.9 L113.6,436.8 L114.1,436.6 L114.6,436.9 L115.1,437.2 L115.6,437.2 L116.1,437.2 L116.6,437.3 L117.1,436.8 L117.6,436.6 L118.1,436.9 L118.6,437.0 L119.1,437.0 L119.6,437.2 L120.1,437.2 L120.6,436.9 L121.1,437.0 L121.6,436.8 L122.1,436.7 L122.6,436.9 L123.1,436.9 L123.6,436.7 L124.1,436.9 L124.6,436.7 L125.1,436.3 L125.6,436.2 L125.9,436.1 L126.1,436.0 L126.6,436.3 L127.1,436.8 L127.6,437.0 L128.1,436.7 L128.6,436.7 L129.1,436.8 L129.6,437.0 L130.1,437.3 L130.6,437.3 L131.1,437.3 L131.6,437.0 L132.1,436.7 L132.6,436.5 L133.1,436.4 L133.6,436.4 L134.1,436.4 L134.6,436.1 L135.1,435.9 L135.6,436.1 L136.1,436.0 L136.6,435.2 L137.1,433.9 L137.6,432.7 L138.1,431.9 L138.2,431.1 L138.6,431.4 L139.1,433.1 L139.6,434.5 L140.1,435.2 L140.6,435.4 L141.1,435.0 L141.6,434.6 L142.1,434.9 L142.6,435.2 L143.1,434.8 L143.6,434.2 L144.1,434.3 L144.6,434.8 L145.1,434.8 L145.6,434.4 L146.1,433.9 L146.5,433.5 L146.6,433.5 L147.1,433.9 L147.6,434.2 L148.1,434.3 L148.6,434.1 L149.1,434.1 L149.6,434.3 L150.1,434.6 L150.6,434.9 L151.1,434.8 L151.6,435.2 L152.1,435.9 L152.6,436.2 L153.1,436.2 L153.6,436.2 L154.1,436.0 L154.6,435.9 L155.1,436.2 L155.6,436.7 L156.1,436.8 L156.6,437.0 L157.1,437.3 L157.6,436.9 L158.1,436.6 L158.6,436.6 L159.1,436.7 L159.6,437.2 L160.1,436.9 L160.6,436.2 L161.1,436.1 L161.6,436.4 L162.1,436.2 L162.6,435.5 L163.1,434.9 L163.6,434.9 L164.1,435.0 L164.6,434.7 L165.1,433.8 L165.6,432.2 L166.1,429.6 L166.6,425.5 L167.1,418.7 L167.6,410.3 L167.8,409.0 L168.1,411.0 L168.6,420.0 L169.1,427.0 L169.6,430.7 L170.1,432.5 L170.6,433.8 L171.1,434.4 L171.6,434.8 L172.1,435.6 L172.6,436.1 L173.1,436.1 L173.6,436.2 L174.1,436.7 L174.6,437.1 L175.1,436.8 L175.6,436.6 L176.1,436.6 L176.6,436.6 L177.1,436.6 L177.6,436.8 L178.1,437.2 L178.6,437.5 L179.1,437.6 L179.6,437.3 L180.1,437.1 L180.6,437.0 L181.1,436.9 L181.6,437.1 L182.1,437.1 L182.6,437.2 L183.1,437.6 L183.6,437.3 L184.1,436.8 L184.6,437.0 L185.1,437.1 L185.6,437.2 L186.1,437.3 L186.6,437.1 L187.1,436.6 L187.6,436.7 L188.1,437.4 L188.6,437.8 L189.1,438.0 L189.6,437.6 L190.1,437.0 L190.6,436.9 L191.1,437.0 L191.6,437.4 L192.1,437.3 L192.6,437.2 L193.1,437.6 L193.6,437.4 L194.1,436.9 L194.6,437.0 L195.1,437.1 L195.6,437.1 L196.1,437.3 L196.6,437.3 L197.1,437.1 L197.6,437.4 L198.1,437.6 L198.6,437.3 L199.1,437.2 L199.6,437.2 L200.1,437.2 L200.6,437.3 L201.1,437.2 L201.6,437.2 L202.1,437.7 L202.6,437.6 L203.1,437.2 L203.6,437.0 L204.1,437.1 L204.6,437.4 L205.1,437.4 L205.6,437.3 L206.1,437.3 L206.6,437.4 L207.1,437.4 L207.6,437.4 L208.1,437.4 L208.6,437.5 L209.1,437.5 L209.6,437.2 L210.1,436.9 L210.6,436.8 L211.1,436.9 L211.6,437.0 L212.1,437.3 L212.6,437.5 L213.1,437.9 L213.6,438.0 L214.1,437.4 L214.6,436.9 L215.1,437.0 L215.6,437.0 L216.1,436.7" fill="none" stroke="#33998b" stroke-width="1.0" stroke-linejoin="round"/>
<path d="M35.6,452.2 L36.1,451.9 L36.6,451.9 L37.1,451.8 L37.6,451.3 L38.1,451.0 L38.6,451.2 L39.1,451.7 L39.6,451.9 L40.1,451.6 L40.6,451.4 L41.1,451.6 L41.6,451.3 L42.1,451.2 L42.6,451.4 L43.1,451.6 L43.6,451.6 L44.1,451.1 L44.6,451.1 L44.6,451.2 L45.1,451.1 L45.6,451.3 L46.1,451.4 L46.6,451.1 L47.1,451.1 L47.6,451.4 L48.1,451.5 L48.6,451.9 L49.1,452.2 L49.6,452.1 L50.1,451.7 L50.6,451.6 L51.1,451.6 L51.6,451.7 L52.1,452.0 L52.6,451.8 L53.1,451.1 L53.6,451.0 L54.1,451.3 L54.6,451.3 L55.1,451.0 L55.6,451.1 L56.1,451.4 L56.6,451.0 L57.1,450.5 L57.5,450.6 L57.6,451.1 L58.1,451.6 L58.6,451.5 L59.1,451.3 L59.6,451.2 L60.1,451.4 L60.6,451.7 L61.1,452.1 L61.6,452.0 L62.1,451.7 L62.6,451.8 L63.1,451.9 L63.6,451.5 L64.1,451.0 L64.6,451.2 L65.1,451.6 L65.6,451.8 L66.1,451.6 L66.6,451.6 L67.1,451.7 L67.6,451.8 L68.1,451.7 L68.6,451.5 L69.1,451.4 L69.1,451.3 L69.6,451.2 L70.1,451.2 L70.6,451.6 L71.1,452.0 L71.6,451.8 L72.1,451.6 L72.6,451.5 L73.1,451.1 L73.6,451.0 L74.1,451.5 L74.6,451.4 L75.1,451.4 L75.6,451.5 L76.1,451.2 L76.6,451.2 L77.1,451.2 L77.6,451.1 L78.1,451.4 L78.6,451.4 L79.1,451.3 L79.6,451.3 L80.1,451.6 L80.6,451.6 L80.8,451.2 L81.1,451.2 L81.6,451.2 L82.1,451.0 L82.6,450.8 L83.1,451.0 L83.6,451.4 L84.1,451.7 L84.6,451.8 L85.1,451.8 L85.6,451.6 L86.1,451.5 L86.6,451.7 L87.1,451.7 L87.6,451.6 L88.1,451.6 L88.6,451.7 L89.1,451.4 L89.6,451.3 L90.1,451.7 L90.6,451.9 L91.1,451.7 L91.6,451.5 L92.1,451.0 L92.4,450.8 L92.6,450.6 L93.1,450.6 L93.6,451.2 L94.1,451.5 L94.6,451.0 L95.1,450.9 L95.6,451.1 L96.1,451.4 L96.2,451.5 L96.6,451.3 L97.1,451.3 L97.6,451.3 L98.1,451.2 L98.6,451.2 L99.1,451.3 L99.6,451.4 L100.1,451.4 L100.6,451.4 L101.1,451.6 L101.6,451.6 L102.1,451.5 L102.6,451.2 L103.1,451.2 L103.6,451.5 L104.1,451.5 L104.6,451.6 L105.1,451.7 L105.6,451.7 L106.1,451.8 L106.6,451.8 L107.1,451.4 L107.6,451.2 L107.8,451.1 L108.1,450.8 L108.6,450.7 L109.1,450.8 L109.6,450.9 L110.1,450.9 L110.6,450.8 L111.1,450.8 L111.6,451.1 L111.7,451.3 L112.1,450.8 L112.6,450.6 L113.1,450.8 L113.6,450.9 L114.1,450.9 L114.6,451.0 L115.1,451.3 L115.6,451.9 L116.1,452.0 L116.6,451.3 L117.1,451.0 L117.6,451.3 L118.1,451.7 L118.6,452.0 L119.1,451.9 L119.6,451.3 L120.1,451.0 L120.6,451.4 L121.1,451.6 L121.6,451.8 L122.1,451.6 L122.6,451.3 L123.1,451.2 L123.6,451.5 L124.1,451.6 L124.6,451.4 L125.1,451.2 L125.6,451.2 L125.9,451.3 L126.1,451.3 L126.6,451.4 L127.1,451.4 L127.6,451.1 L128.1,451.2 L128.6,451.6 L129.1,451.4 L129.6,451.1 L130.1,451.4 L130.6,451.8 L131.1,451.8 L131.6,451.4 L132.1,451.3 L132.6,451.7 L133.1,451.8 L133.6,451.7 L134.1,451.4 L134.6,451.4 L135.1,451.7 L135.6,451.8 L136.1,451.2 L136.6,450.9 L137.1,451.0 L137.6,450.5 L138.1,449.5 L138.2,449.4 L138.6,449.9 L139.1,450.1 L139.6,450.1 L140.1,450.6 L140.6,451.1 L141.1,451.3 L141.6,451.2 L142.1,450.7 L142.6,450.6 L143.1,450.8 L143.6,450.8 L144.1,450.6 L144.6,450.5 L145.1,450.5 L145.6,450.8 L146.1,450.9 L146.5,450.6 L146.6,450.5 L147.1,450.4 L147.6,450.4 L148.1,450.4 L148.6,450.7 L149.1,451.2 L149.6,450.9 L150.1,450.6 L150.6,450.7 L151.1,451.1 L151.6,451.4 L152.1,451.5 L152.6,451.5 L153.1,451.1 L153.6,450.6 L154.1,450.5 L154.6,451.0 L155.1,451.3 L155.6,451.3 L156.1,451.3 L156.6,451.5 L157.1,451.6 L157.6,451.3 L158.1,451.5 L158.6,451.8 L159.1,451.9 L159.6,451.8 L160.1,451.5 L160.6,451.3 L161.1,451.2 L161.6,451.4 L162.1,451.5 L162.6,451.0 L163.1,450.8 L163.6,450.9 L164.1,450.9 L164.6,450.8 L165.1,450.7 L165.6,450.5 L166.1,450.0 L166.6,448.5 L167.1,445.6 L167.6,442.6 L167.8,442.3 L168.1,443.1 L168.6,446.2 L169.1,448.7 L169.6,449.6 L170.1,449.8 L170.6,450.4 L171.1,451.0 L171.6,451.0 L172.1,451.3 L172.6,451.4 L173.1,450.9 L173.6,450.9 L174.1,451.3 L174.6,451.6 L175.1,451.8 L175.6,451.6 L176.1,451.5 L176.6,451.8 L177.1,451.8 L177.6,451.6 L178.1,451.4 L178.6,451.1 L179.1,451.2 L179.6,451.7 L180.1,451.7 L180.6,451.5 L181.1,451.4 L181.6,451.4 L182.1,451.3 L182.6,451.2 L183.1,451.1 L183.6,451.2 L184.1,451.4 L184.6,451.5 L185.1,451.5 L185.6,451.5 L186.1,451.7 L186.6,451.6 L187.1,451.5 L187.6,451.5 L188.1,451.6 L188.6,451.8 L189.1,451.8 L189.6,451.5 L190.1,451.3 L190.6,451.2 L191.1,451.4 L191.6,451.7 L192.1,451.7 L192.6,451.7 L193.1,451.8 L193.6,451.7 L194.1,451.5 L194.6,451.6 L195.1,452.0 L195.6,452.1 L196.1,452.0 L196.6,452.0 L197.1,452.0 L197.6,451.9 L198.1,451.8 L198.6,451.9 L199.1,452.1 L199.6,451.9 L200.1,451.7 L200.6,451.7 L201.1,451.6 L201.6,451.4 L202.1,451.3 L202.6,451.6 L203.1,451.6 L203.6,451.6 L204.1,451.8 L204.6,451.8 L205.1,451.6 L205.6,451.6 L206.1,451.8 L206.6,451.8 L207.1,451.5 L207.6,451.5 L208.1,452.0 L208.6,452.0 L209.1,451.5 L209.6,451.4 L210.1,451.5 L210.6,451.3 L211.1,451.2 L211.6,451.6 L212.1,452.0 L212.6,452.0 L213.1,451.7 L213.6,451.8 L214.1,451.8 L214.6,451.5 L215.1,451.1 L215.6,451.3 L216.1,451.6" fill="none" stroke="#4da16b" stroke-width="1.0" stroke-linejoin="round"/>
<path d="M35.6,461.4 L36.1,461.8 L36.6,461.8 L37.1,461.6 L37.6,461.7 L38.1,461.8 L38.6,461.8 L39.1,461.8 L39.6,462.0 L40.1,462.2 L40.6,462.2 L41.1,461.8 L41.6,461.6 L42.1,461.7 L42.6,461.6 L43.1,461.6 L43.6,462.1 L44.1,462.0 L44.6,461.6 L44.6,461.5 L45.1,461.7 L45.6,461.8 L46.1,461.8 L46.6,461.5 L47.1,461.0 L47.6,461.1 L48.1,461.7 L48.6,461.6 L49.1,461.2 L49.6,461.5 L50.1,461.9 L50.6,461.9 L51.1,461.8 L51.6,461.7 L52.1,461.3 L52.6,461.2 L53.1,461.4 L53.6,461.6 L54.1,461.4 L54.6,461.2 L55.1,461.3 L55.6,461.5 L56.1,461.5 L56.6,461.2 L57.1,460.9 L57.5,461.0 L57.6,461.4 L58.1,461.8 L58.6,461.6 L59.1,461.2 L59.6,461.4 L60.1,461.9 L60.6,461.9 L61.1,461.7 L61.6,461.8 L62.1,462.1 L62.6,462.2 L63.1,461.8 L63.6,461.4 L64.1,461.5 L64.6,461.8 L65.1,461.8 L65.6,461.8 L66.1,461.7 L66.6,461.6 L67.1,461.8 L67.6,461.7 L68.1,461.4 L68.6,461.3 L69.1,461.3 L69.1,461.2 L69.6,461.3 L70.1,461.8 L70.6,462.0 L71.1,461.8 L71.6,461.4 L72.1,461.6 L72.6,461.9 L73.1,461.8 L73.6,461.7 L74.1,461.8 L74.6,462.0 L75.1,461.7 L75.6,461.6 L76.1,461.7 L76.6,461.4 L77.1,461.7 L77.6,462.2 L78.1,462.0 L78.6,461.5 L79.1,461.2 L79.6,461.2 L80.1,461.2 L80.6,461.1 L80.8,461.2 L81.1,461.4 L81.6,461.6 L82.1,461.5 L82.6,461.1 L83.1,461.3 L83.6,461.8 L84.1,462.0 L84.6,462.0 L85.1,461.8 L85.6,461.9 L86.1,461.8 L86.6,461.2 L87.1,461.3 L87.6,462.0 L88.1,462.2 L88.6,461.7 L89.1,461.3 L89.6,461.1 L90.1,461.3 L90.6,461.8 L91.1,461.9 L91.6,461.6 L92.1,461.4 L92.4,461.5 L92.6,461.9 L93.1,462.2 L93.6,462.2 L94.1,461.9 L94.6,461.6 L95.1,461.3 L95.6,461.2 L96.1,461.4 L96.2,461.3 L96.6,461.0 L97.1,461.5 L97.6,462.2 L98.1,462.3 L98.6,462.0 L99.1,461.7 L99.6,461.6 L100.1,461.7 L100.6,461.9 L101.1,461.7 L101.6,461.4 L102.1,461.4 L102.6,461.8 L103.1,462.0 L103.6,461.8 L104.1,461.6 L104.6,461.6 L105.1,461.8 L105.6,461.8 L106.1,461.7 L106.6,461.6 L107.1,461.6 L107.6,461.7 L107.8,461.5 L108.1,461.1 L108.6,461.2 L109.1,461.5 L109.6,461.7 L110.1,461.8 L110.6,461.4 L111.1,461.1 L111.6,461.0 L111.7,461.3 L112.1,461.6 L112.6,461.7 L113.1,461.8 L113.6,461.7 L114.1,461.6 L114.6,461.6 L115.1,461.6 L115.6,461.7 L116.1,461.5 L116.6,461.1 L117.1,461.3 L117.6,461.7 L118.1,461.4 L118.6,461.2 L119.1,461.8 L119.6,462.0 L120.1,461.5 L120.6,461.6 L121.1,461.9 L121.6,461.9 L122.1,461.7 L122.6,461.5 L123.1,461.7 L123.6,461.6 L124.1,461.5 L124.6,461.8 L125.1,462.0 L125.6,461.8 L125.9,461.5 L126.1,461.3 L126.6,461.3 L127.1,461.5 L127.6,461.4 L128.1,461.4 L128.6,461.7 L129.1,461.7 L129.6,461.6 L130.1,461.9 L130.6,462.0 L131.1,461.5 L131.6,461.5 L132.1,461.7 L132.6,461.7 L133.1,461.8 L133.6,462.0 L134.1,461.9 L134.6,461.8 L135.1,461.7 L135.6,461.7 L136.1,461.8 L136.6,461.6 L137.1,461.2 L137.6,461.0 L138.1,460.5 L138.2,460.3 L138.6,460.8 L139.1,461.5 L139.6,461.5 L140.1,461.2 L140.6,461.3 L141.1,461.3 L141.6,461.2 L142.1,461.1 L142.6,460.9 L143.1,460.8 L143.6,461.1 L144.1,461.5 L144.6,461.5 L145.1,461.3 L145.6,461.1 L146.1,461.0 L146.5,461.1 L146.6,461.2 L147.1,461.1 L147.6,461.2 L148.1,461.5 L148.6,461.6 L149.1,461.3 L149.6,461.2 L150.1,461.4 L150.6,461.6 L151.1,461.8 L151.6,461.5 L152.1,461.0 L152.6,460.8 L153.1,460.8 L153.6,461.2 L154.1,461.5 L154.6,461.8 L155.1,461.7 L155.6,461.5 L156.1,461.5 L156.6,461.8 L157.1,462.0 L157.6,461.8 L158.1,461.5 L158.6,461.5 L159.1,461.5 L159.6,461.1 L160.1,461.0 L160.6,461.1 L161.1,461.2 L161.6,461.3 L162.1,461.4 L162.6,461.5 L163.1,461.3 L163.6,461.4 L164.1,461.8 L164.6,461.3 L165.1,460.9 L165.6,460.7 L166.1,460.1 L166.6,459.7 L167.1,459.1 L167.6,457.9 L167.8,457.7 L168.1,458.0 L168.6,459.2 L169.1,460.1 L169.6,460.9 L170.1,461.3 L170.6,461.3 L171.1,461.3 L171.6,461.4 L172.1,461.5 L172.6,461.3 L173.1,461.4 L173.6,461.6 L174.1,461.7 L174.6,461.9 L175.1,461.8 L175.6,461.6 L176.1,461.6 L176.6,461.7 L177.1,461.6 L177.6,461.7 L178.1,461.7 L178.6,461.5 L179.1,461.4 L179.6,461.7 L180.1,461.8 L180.6,461.5 L181.1,461.1 L181.6,460.9 L182.1,460.9 L182.6,461.5 L183.1,461.9 L183.6,461.9 L184.1,462.1 L184.6,462.0 L185.1,461.4 L185.6,460.8 L186.1,460.9 L186.6,461.3 L187.1,461.8 L187.6,462.0 L188.1,461.7 L188.6,461.6 L189.1,461.9 L189.6,461.9 L190.1,461.9 L190.6,462.0 L191.1,461.8 L191.6,461.6 L192.1,461.6 L192.6,461.6 L193.1,461.6 L193.6,461.6 L194.1,461.7 L194.6,461.8 L195.1,461.8 L195.6,462.1 L196.1,462.2 L196.6,462.0 L197.1,462.0 L197.6,461.7 L198.1,461.4 L198.6,461.4 L199.1,461.6 L199.6,461.8 L200.1,462.0 L200.6,462.3 L201.1,462.2 L201.6,461.8 L202.1,461.6 L202.6,461.5 L203.1,461.6 L203.6,461.2 L204.1,460.9 L204.6,461.4 L205.1,462.1 L205.6,462.1 L206.1,461.6 L206.6,461.4 L207.1,461.4 L207.6,461.4 L208.1,461.7 L208.6,461.8 L209.1,461.6 L209.6,461.5 L210.1,461.8 L210.6,461.9 L211.1,461.8 L211.6,461.5 L212.1,461.7 L212.6,462.2 L213.1,461.9 L213.6,461.7 L214.1,461.8 L214.6,462.0 L215.1,461.9 L215.6,461.6 L216.1,461.8" fill="none" stroke="#7bb36d" stroke-width="1.0" stroke-linejoin="round"/>
<path d="M35.6,470.6 L36.1,470.8 L36.6,470.9 L37.1,470.7 L37.6,470.6 L38.1,470.5 L38.6,470.5 L39.1,470.5 L39.6,470.6 L40.1,471.0 L40.6,471.0 L41.1,470.9 L41.6,471.0 L42.1,470.9 L42.6,470.5 L43.1,470.4 L43.6,470.4 L44.1,470.3 L44.6,470.5 L44.6,470.5 L45.1,470.1 L45.6,469.9 L46.1,470.4 L46.6,470.7 L47.1,470.4 L47.6,470.0 L48.1,470.3 L48.6,470.6 L49.1,470.4 L49.6,470.1 L50.1,470.2 L50.6,470.6 L51.1,470.5 L51.6,470.3 L52.1,470.4 L52.6,470.4 L53.1,470.3 L53.6,470.2 L54.1,470.2 L54.6,470.6 L55.1,470.7 L55.6,470.3 L56.1,470.2 L56.6,470.7 L57.1,470.7 L57.5,470.3 L57.6,470.0 L58.1,469.9 L58.6,470.0 L59.1,470.6 L59.6,470.8 L60.1,470.9 L60.6,470.8 L61.1,470.8 L61.6,470.7 L62.1,470.6 L62.6,470.9 L63.1,470.7 L63.6,470.2 L64.1,470.1 L64.6,470.4 L65.1,470.7 L65.6,470.9 L66.1,471.1 L66.6,471.2 L67.1,471.0 L67.6,470.9 L68.1,470.6 L68.6,470.1 L69.1,470.0 L69.1,470.3 L69.6,470.4 L70.1,470.5 L70.6,470.7 L71.1,470.4 L71.6,470.1 L72.1,470.1 L72.6,470.2 L73.1,470.4 L73.6,470.8 L74.1,470.9 L74.6,470.8 L75.1,470.8 L75.6,470.9 L76.1,470.4 L76.6,470.1 L77.1,470.4 L77.6,470.5 L78.1,470.3 L78.6,470.7 L79.1,471.0 L79.6,470.8 L80.1,470.4 L80.6,470.2 L80.8,470.3 L81.1,470.3 L81.6,470.3 L82.1,470.2 L82.6,470.2 L83.1,470.4 L83.6,470.2 L84.1,470.1 L84.6,470.6 L85.1,470.9 L85.6,470.6 L86.1,470.3 L86.6,470.5 L87.1,470.8 L87.6,470.7 L88.1,470.5 L88.6,470.6 L89.1,470.3 L89.6,470.0 L90.1,470.2 L90.6,470.1 L91.1,470.2 L91.6,470.3 L92.1,470.4 L92.4,470.4 L92.6,470.3 L93.1,470.2 L93.6,470.4 L94.1,470.5 L94.6,470.4 L95.1,470.4 L95.6,470.3 L96.1,470.1 L96.2,469.9 L96.6,469.8 L97.1,470.1 L97.6,470.6 L98.1,470.6 L98.6,470.4 L99.1,470.5 L99.6,470.8 L100.1,470.9 L100.6,470.8 L101.1,470.7 L101.6,470.6 L102.1,470.2 L102.6,470.2 L103.1,470.7 L103.6,470.9 L104.1,470.6 L104.6,470.4 L105.1,470.2 L105.6,470.1 L106.1,470.2 L106.6,470.5 L107.1,470.6 L107.6,470.2 L107.8,469.7 L108.1,469.6 L108.6,469.8 L109.1,470.0 L109.6,470.5 L110.1,470.8 L110.6,470.6 L111.1,470.1 L111.6,470.0 L111.7,470.0 L112.1,469.7 L112.6,469.6 L113.1,469.6 L113.6,469.9 L114.1,470.3 L114.6,470.5 L115.1,470.3 L115.6,470.2 L116.1,470.2 L116.6,470.2 L117.1,470.0 L117.6,469.8 L118.1,470.0 L118.6,470.3 L119.1,470.6 L119.6,470.8 L120.1,470.8 L120.6,470.6 L121.1,470.3 L121.6,470.3 L122.1,470.3 L122.6,470.3 L123.1,470.3 L123.6,470.3 L124.1,470.5 L124.6,470.6 L125.1,470.3 L125.6,470.3 L125.9,470.2 L126.1,470.1 L126.6,470.5 L127.1,471.0 L127.6,470.9 L128.1,470.3 L128.6,470.2 L129.1,470.2 L129.6,470.0 L130.1,470.1 L130.6,470.5 L131.1,470.6 L131.6,470.3 L132.1,470.3 L132.6,470.2 L133.1,470.0 L133.6,470.2 L134.1,470.5 L134.6,470.7 L135.1,471.1 L135.6,471.0 L136.1,470.2 L136.6,470.0 L137.1,469.9 L137.6,469.5 L138.1,469.5 L138.2,469.9 L138.6,470.0 L139.1,470.2 L139.6,470.7 L140.1,470.4 L140.6,469.9 L141.1,469.7 L141.6,469.8 L142.1,470.0 L142.6,470.2 L143.1,470.3 L143.6,470.3 L144.1,470.5 L144.6,470.6 L145.1,470.2 L145.6,470.0 L146.1,470.3 L146.5,470.4 L146.6,469.9 L147.1,469.4 L147.6,469.5 L148.1,469.8 L148.6,469.8 L149.1,470.0 L149.6,470.4 L150.1,470.3 L150.6,470.3 L151.1,470.4 L151.6,470.4 L152.1,470.2 L152.6,470.3 L153.1,470.8 L153.6,470.6 L154.1,470.4 L154.6,470.6 L155.1,470.5 L155.6,470.0 L156.1,470.1 L156.6,470.7 L157.1,470.7 L157.6,470.3 L158.1,470.1 L158.6,470.5 L159.1,470.5 L159.6,470.3 L160.1,470.4 L160.6,470.5 L161.1,470.5 L161.6,470.6 L162.1,470.6 L162.6,470.4 L163.1,470.5 L163.6,470.6 L164.1,470.6 L164.6,470.3 L165.1,470.0 L165.6,469.8 L166.1,469.8 L166.6,469.4 L167.1,468.5 L167.6,467.6 L167.8,467.6 L168.1,467.7 L168.6,468.4 L169.1,469.6 L169.6,470.1 L170.1,469.9 L170.6,469.9 L171.1,470.0 L171.6,470.1 L172.1,470.3 L172.6,470.7 L173.1,470.8 L173.6,470.4 L174.1,470.4 L174.6,470.5 L175.1,470.3 L175.6,470.5 L176.1,470.8 L176.6,470.6 L177.1,470.4 L177.6,470.5 L178.1,470.4 L178.6,470.4 L179.1,470.5 L179.6,470.6 L180.1,470.5 L180.6,470.2 L181.1,470.1 L181.6,470.4 L182.1,470.6 L182.6,470.8 L183.1,470.6 L183.6,470.6 L184.1,470.7 L184.6,470.4 L185.1,470.2 L185.6,470.4 L186.1,470.6 L186.6,470.9 L187.1,470.9 L187.6,470.6 L188.1,470.5 L188.6,470.5 L189.1,470.4 L189.6,470.4 L190.1,470.4 L190.6,470.4 L191.1,470.6 L191.6,471.0 L192.1,470.9 L192.6,470.7 L193.1,471.0 L193.6,471.0 L194.1,470.6 L194.6,470.4 L195.1,470.3 L195.6,470.3 L196.1,470.4 L196.6,470.2 L197.1,470.0 L197.6,470.3 L198.1,470.8 L198.6,470.5 L199.1,470.0 L199.6,470.2 L200.1,470.7 L200.6,470.4 L201.1,469.8 L201.6,469.9 L202.1,470.3 L202.6,470.3 L203.1,470.5 L203.6,470.6 L204.1,470.5 L204.6,470.7 L205.1,470.9 L205.6,470.7 L206.1,470.5 L206.6,470.8 L207.1,471.0 L207.6,471.1 L208.1,470.8 L208.6,470.4 L209.1,469.9 L209.6,469.9 L210.1,470.3 L210.6,470.6 L211.1,470.5 L211.6,470.2 L212.1,470.5 L212.6,470.6 L213.1,470.4 L213.6,470.3 L214.1,470.5 L214.6,470.4 L215.1,470.2 L215.6,470.4 L216.1,470.4" fill="none" stroke="#ba9550" stroke-width="1.0" stroke-linejoin="round"/>
<line x1="42" y1="347.8" x2="57.5" y2="347.8" stroke="#4a84cc" stroke-width="1.0" stroke-opacity="0.55"/>
<text x="59.5" y="350.7" font-size="8.25" text-anchor="start" fill="#1e1a1a" font-weight="normal" stroke="#1e1a1a" stroke-width="0.18" letter-spacing="0.1">MB (10<tspan font-size="5" dy="-3">-5</tspan><tspan dy="3"> M)</tspan></text>
<line x1="42" y1="359" x2="57.5" y2="359" stroke="#3aae9e" stroke-width="1.0" stroke-opacity="0.55"/>
<text x="59.5" y="361.9" font-size="8.25" text-anchor="start" fill="#1e1a1a" font-weight="normal" stroke="#1e1a1a" stroke-width="0.18" letter-spacing="0.1">MB (10<tspan font-size="5" dy="-3">-6</tspan><tspan dy="3"> M)</tspan></text>
<line x1="42" y1="370.3" x2="57.5" y2="370.3" stroke="#58b87a" stroke-width="1.0" stroke-opacity="0.55"/>
<text x="59.5" y="373.2" font-size="8.25" text-anchor="start" fill="#1e1a1a" font-weight="normal" stroke="#1e1a1a" stroke-width="0.18" letter-spacing="0.1">MB (10<tspan font-size="5" dy="-3">-7</tspan><tspan dy="3"> M)</tspan></text>
<line x1="42" y1="381.2" x2="57.5" y2="381.2" stroke="#8ccc7c" stroke-width="1.0" stroke-opacity="0.55"/>
<text x="59.5" y="384.1" font-size="8.25" text-anchor="start" fill="#1e1a1a" font-weight="normal" stroke="#1e1a1a" stroke-width="0.18" letter-spacing="0.1">MB (10<tspan font-size="5" dy="-3">-8</tspan><tspan dy="3"> M)</tspan></text>
<line x1="42" y1="392" x2="57.5" y2="392" stroke="#d4aa5c" stroke-width="1.0" stroke-opacity="0.55"/>
<text x="59.5" y="394.9" font-size="8.25" text-anchor="start" fill="#1e1a1a" font-weight="normal" stroke="#1e1a1a" stroke-width="0.18" letter-spacing="0.1">MB (10<tspan font-size="5" dy="-3">-9</tspan><tspan dy="3"> M)</tspan></text>
<text x="174.8" y="469.4" font-size="7.4" text-anchor="start" fill="#1e1a1a" font-weight="normal" stroke="#1e1a1a" stroke-width="0.18" >x 5</text>
<text x="0.9" y="356.2" font-size="24.5" text-anchor="start" fill="#231815" font-weight="bold" >g</text>
<rect x="259.6" y="340.8" width="179.6" height="134.8" fill="none" stroke="#3a3a3a" stroke-width="1"/>
<line x1="259.6" y1="475.6" x2="259.6" y2="478.1" stroke="#3a3a3a" stroke-width="0.9" />
<text x="259.6" y="486.2" font-size="8.25" text-anchor="middle" fill="#1e1a1a" font-weight="normal" stroke="#1e1a1a" stroke-width="0.18" >600</text>
<line x1="272.43" y1="475.6" x2="272.43" y2="477.1" stroke="#3a3a3a" stroke-width="0.9" />
<line x1="285.26" y1="475.6" x2="285.26" y2="478.1" stroke="#3a3a3a" stroke-width="0.9" />
<text x="285.26" y="486.2" font-size="8.25" text-anchor="middle" fill="#1e1a1a" font-weight="normal" stroke="#1e1a1a" stroke-width="0.18" >800</text>
<line x1="298.09" y1="475.6" x2="298.09" y2="477.1" stroke="#3a3a3a" stroke-width="0.9" />
<line x1="310.91" y1="475.6" x2="310.91" y2="478.1" stroke="#3a3a3a" stroke-width="0.9" />
<text x="310.91" y="486.2" font-size="8.25" text-anchor="middle" fill="#1e1a1a" font-weight="normal" stroke="#1e1a1a" stroke-width="0.18" >1000</text>
<line x1="323.74" y1="475.6" x2="323.74" y2="477.1" stroke="#3a3a3a" stroke-width="0.9" />
<line x1="336.57" y1="475.6" x2="336.57" y2="478.1" stroke="#3a3a3a" stroke-width="0.9" />
<text x="336.57" y="486.2" font-size="8.25" text-anchor="middle" fill="#1e1a1a" font-weight="normal" stroke="#1e1a1a" stroke-width="0.18" >1200</text>
<line x1="349.4" y1="475.6" x2="349.4" y2="477.1" stroke="#3a3a3a" stroke-width="0.9" />
<line x1="362.23" y1="475.6" x2="362.23" y2="478.1" stroke="#3a3a3a" stroke-width="0.9" />
<text x="362.23" y="486.2" font-size="8.25" text-anchor="middle" fill="#1e1a1a" font-weight="normal" stroke="#1e1a1a" stroke-width="0.18" >1400</text>
<line x1="375.06" y1="475.6" x2="375.06" y2="477.1" stroke="#3a3a3a" stroke-width="0.9" />
<line x1="387.89" y1="475.6" x2="387.89" y2="478.1" stroke="#3a3a3a" stroke-width="0.9" />
<text x="387.89" y="486.2" font-size="8.25" text-anchor="middle" fill="#1e1a1a" font-weight="normal" stroke="#1e1a1a" stroke-width="0.18" >1600</text>
<line x1="400.71" y1="475.6" x2="400.71" y2="477.1" stroke="#3a3a3a" stroke-width="0.9" />
<line x1="413.54" y1="475.6" x2="413.54" y2="478.1" stroke="#3a3a3a" stroke-width="0.9" />
<text x="413.54" y="486.2" font-size="8.25" text-anchor="middle" fill="#1e1a1a" font-weight="normal" stroke="#1e1a1a" stroke-width="0.18" >1800</text>
<line x1="426.37" y1="475.6" x2="426.37" y2="477.1" stroke="#3a3a3a" stroke-width="0.9" />
<line x1="439.2" y1="475.6" x2="439.2" y2="478.1" stroke="#3a3a3a" stroke-width="0.9" />
<text x="439.2" y="486.2" font-size="8.25" text-anchor="middle" fill="#1e1a1a" font-weight="normal" stroke="#1e1a1a" stroke-width="0.18" >2000</text>
<line x1="258.1" y1="457.8" x2="259.6" y2="457.8" stroke="#3a3a3a" stroke-width="0.9" />
<line x1="258.1" y1="439.8" x2="259.6" y2="439.8" stroke="#3a3a3a" stroke-width="0.9" />
<line x1="258.1" y1="421.8" x2="259.6" y2="421.8" stroke="#3a3a3a" stroke-width="0.9" />
<line x1="258.1" y1="403.8" x2="259.6" y2="403.8" stroke="#3a3a3a" stroke-width="0.9" />
<line x1="258.1" y1="385.8" x2="259.6" y2="385.8" stroke="#3a3a3a" stroke-width="0.9" />
<line x1="258.1" y1="367.8" x2="259.6" y2="367.8" stroke="#3a3a3a" stroke-width="0.9" />
<line x1="258.1" y1="349.8" x2="259.6" y2="349.8" stroke="#3a3a3a" stroke-width="0.9" />
<line x1="257.1" y1="466.8" x2="259.6" y2="466.8" stroke="#3a3a3a" stroke-width="0.9" />
<text x="255.6" y="469.2" font-size="8.25" text-anchor="end" fill="#1e1a1a" font-weight="normal" stroke="#1e1a1a" stroke-width="0.18" >0</text>
<line x1="257.1" y1="448.8" x2="259.6" y2="448.8" stroke="#3a3a3a" stroke-width="0.9" />
<text x="255.6" y="451.2" font-size="8.25" text-anchor="end" fill="#1e1a1a" font-weight="normal" stroke="#1e1a1a" stroke-width="0.18" >10</text>
<line x1="257.1" y1="430.8" x2="259.6" y2="430.8" stroke="#3a3a3a" stroke-width="0.9" />
<text x="255.6" y="433.2" font-size="8.25" text-anchor="end" fill="#1e1a1a" font-weight="normal" stroke="#1e1a1a" stroke-width="0.18" >20</text>
<line x1="257.1" y1="412.8" x2="259.6" y2="412.8" stroke="#3a3a3a" stroke-width="0.9" />
<text x="255.6" y="415.2" font-size="8.25" text-anchor="end" fill="#1e1a1a" font-weight="normal" stroke="#1e1a1a" stroke-width="0.18" >30</text>
<line x1="257.1" y1="394.8" x2="259.6" y2="394.8" stroke="#3a3a3a" stroke-width="0.9" />
<text x="255.6" y="397.2" font-size="8.25" text-anchor="end" fill="#1e1a1a" font-weight="normal" stroke="#1e1a1a" stroke-width="0.18" >40</text>
<line x1="257.1" y1="376.8" x2="259.6" y2="376.8" stroke="#3a3a3a" stroke-width="0.9" />
<text x="255.6" y="379.2" font-size="8.25" text-anchor="end" fill="#1e1a1a" font-weight="normal" stroke="#1e1a1a" stroke-width="0.18" >50</text>
<line x1="257.1" y1="358.8" x2="259.6" y2="358.8" stroke="#3a3a3a" stroke-width="0.9" />
<text x="255.6" y="361.2" font-size="8.25" text-anchor="end" fill="#1e1a1a" font-weight="normal" stroke="#1e1a1a" stroke-width="0.18" >60</text>
<line x1="257.1" y1="340.8" x2="259.6" y2="340.8" stroke="#3a3a3a" stroke-width="0.9" />
<text x="255.6" y="343.2" font-size="8.25" text-anchor="end" fill="#1e1a1a" font-weight="normal" stroke="#1e1a1a" stroke-width="0.18" >70</text>
<text x="349.4" y="496.4" font-size="8.25" text-anchor="middle" fill="#1e1a1a" stroke="#1e1a1a" stroke-width="0.18">Raman shift (cm<tspan font-size="5" dy="-3">-1</tspan><tspan dy="3">)</tspan></text>
<text transform="translate(244.5,408.5) rotate(-90)" x="0" y="0" font-size="8" text-anchor="middle" fill="#1e1a1a" stroke="#1e1a1a" stroke-width="0.18">Intensity (10<tspan font-size="5" dy="-3">3</tspan><tspan dy="3"> counts)</tspan></text>
<path d="M259.6,413.2 L260.1,413.4 L260.6,413.5 L261.1,413.4 L261.6,413.2 L262.1,413.0 L262.6,412.3 L263.1,410.4 L263.4,409.2 L263.6,409.2 L264.1,411.1 L264.6,412.0 L265.1,412.4 L265.6,412.7 L266.1,413.1 L266.6,413.3 L267.1,413.4 L267.6,413.3 L268.1,413.2 L268.6,412.9 L269.1,412.6 L269.6,412.9 L270.1,413.3 L270.6,413.3 L271.1,413.0 L271.6,413.4 L272.1,413.5 L272.6,413.1 L273.1,413.3 L273.6,413.3 L274.1,412.9 L274.6,412.7 L275.1,412.6 L275.6,413.1 L276.1,413.5 L276.6,413.3 L277.1,412.9 L277.6,412.6 L278.1,412.6 L278.6,412.9 L279.1,413.1 L279.6,413.1 L280.1,413.1 L280.6,412.9 L281.1,412.6 L281.6,412.7 L282.1,412.7 L282.6,412.6 L283.1,412.4 L283.6,412.0 L284.1,411.8 L284.6,411.3 L285.1,410.4 L285.6,409.4 L286.1,408.3 L286.5,408.0 L286.6,408.3 L287.1,408.9 L287.6,409.4 L288.1,410.1 L288.6,411.1 L289.1,411.6 L289.6,411.7 L290.1,412.2 L290.6,412.4 L291.1,412.3 L291.6,412.4 L292.1,412.6 L292.6,412.8 L293.1,413.1 L293.6,413.2 L294.1,413.0 L294.6,412.6 L295.1,412.7 L295.6,412.9 L296.1,412.9 L296.6,412.7 L297.1,412.7 L297.6,413.3 L298.1,413.8 L298.6,413.6 L299.1,413.1 L299.6,412.7 L300.1,412.9 L300.6,413.3 L301.1,413.2 L301.6,413.1 L302.1,412.9 L302.6,412.8 L303.1,412.9 L303.6,412.8 L304.1,412.8 L304.6,412.9 L305.1,412.6 L305.6,412.4 L306.1,413.0 L306.6,413.5 L307.1,413.1 L307.6,412.7 L308.1,412.5 L308.6,412.5 L309.1,412.9 L309.6,413.1 L310.1,413.0 L310.6,412.7 L311.1,412.6 L311.6,412.7 L312.1,412.9 L312.6,413.3 L313.1,413.2 L313.6,413.1 L314.1,413.5 L314.6,413.5 L315.1,412.9 L315.6,412.6 L316.1,412.8 L316.6,412.8 L317.1,412.6 L317.6,412.2 L318.1,411.9 L318.6,411.5 L319.1,410.4 L319.6,408.5 L320.1,404.2 L320.4,402.3 L320.6,403.4 L321.1,408.3 L321.6,410.7 L322.1,411.7 L322.6,412.1 L323.1,412.3 L323.6,412.6 L324.1,412.6 L324.6,412.7 L325.1,412.9 L325.6,413.2 L326.1,413.2 L326.6,413.2 L327.1,413.4 L327.6,413.3 L328.1,413.2 L328.6,412.9 L329.1,412.5 L329.6,412.7 L330.1,413.2 L330.6,413.2 L331.1,413.0 L331.6,413.0 L332.1,412.7 L332.6,412.0 L333.1,410.9 L333.6,407.4 L334.0,404.3 L334.1,404.8 L334.6,409.0 L335.1,410.9 L335.6,411.6 L336.1,412.2 L336.6,412.7 L337.1,412.5 L337.6,412.2 L338.1,412.5 L338.6,413.1 L339.1,413.2 L339.6,412.6 L340.1,412.5 L340.6,412.9 L341.1,413.0 L341.6,412.7 L342.1,412.9 L342.6,412.9 L343.1,412.5 L343.6,412.2 L344.1,412.2 L344.6,412.1 L345.1,411.6 L345.6,410.9 L346.1,410.5 L346.6,409.7 L347.1,408.1 L347.6,406.6 L348.1,406.3 L348.1,406.7 L348.6,407.0 L349.1,408.2 L349.6,409.9 L350.1,410.9 L350.6,411.3 L351.1,411.7 L351.6,412.1 L352.1,412.4 L352.6,412.4 L353.1,412.4 L353.6,412.5 L354.1,412.7 L354.6,412.9 L355.1,412.8 L355.6,412.5 L356.1,412.4 L356.6,412.7 L357.1,412.9 L357.6,413.1 L358.1,413.4 L358.6,413.2 L359.1,413.0 L359.6,412.8 L360.1,412.5 L360.6,412.7 L361.1,412.9 L361.6,413.1 L362.1,413.3 L362.6,413.3 L363.1,413.1 L363.6,412.9 L364.1,412.8 L364.6,412.5 L365.1,412.5 L365.6,412.9 L366.1,413.2 L366.6,413.0 L367.1,412.8 L367.6,413.1 L368.1,413.2 L368.6,413.2 L369.1,413.3 L369.6,413.3 L370.1,413.3 L370.6,413.1 L371.1,412.9 L371.6,413.0 L372.1,413.4 L372.6,413.5 L373.1,413.1 L373.6,412.7 L374.1,412.5 L374.6,412.3 L375.1,412.3 L375.6,412.8 L376.1,412.9 L376.6,412.8 L377.1,413.0 L377.6,412.9 L378.1,412.7 L378.6,412.5 L379.1,412.4 L379.6,412.5 L380.1,412.5 L380.6,412.2 L381.1,412.2 L381.6,412.1 L382.1,411.9 L382.6,411.9 L383.1,411.9 L383.6,411.7 L384.1,411.7 L384.6,411.2 L385.1,409.9 L385.6,408.0 L386.1,404.5 L386.6,396.3 L387.1,379.3 L387.4,373.6 L387.6,377.3 L388.1,389.3 L388.6,395.4 L389.1,398.1 L389.6,400.1 L390.1,401.1 L390.6,401.4 L391.1,402.1 L391.5,402.9 L391.6,403.1 L392.1,403.8 L392.6,405.0 L393.1,406.7 L393.6,407.9 L394.1,408.8 L394.6,409.5 L395.1,409.8 L395.6,410.3 L396.1,410.7 L396.6,411.3 L397.1,411.6 L397.6,411.7 L398.1,411.8 L398.6,412.0 L399.1,411.9 L399.6,411.8 L400.1,412.3 L400.6,412.7 L401.1,412.7 L401.6,412.7 L402.1,413.0 L402.6,413.2 L403.1,412.9 L403.6,412.4 L404.1,412.6 L404.6,413.0 L405.1,413.2 L405.6,413.2 L406.1,413.3 L406.6,413.2 L407.1,412.8 L407.6,413.0 L408.1,413.2 L408.6,412.7 L409.1,412.9 L409.6,413.3 L410.1,413.2 L410.6,413.1 L411.1,413.1 L411.6,412.9 L412.1,413.1 L412.6,413.4 L413.1,413.3 L413.6,412.9 L414.1,412.8 L414.6,412.9 L415.1,413.2 L415.6,413.3 L416.1,413.2 L416.6,413.1 L417.1,412.9 L417.6,413.1 L418.1,413.3 L418.6,413.2 L419.1,412.9 L419.6,412.7 L420.1,412.6 L420.6,412.7 L421.1,413.1 L421.6,413.5 L422.1,413.4 L422.6,413.1 L423.1,413.2 L423.6,413.1 L424.1,412.9 L424.6,412.9 L425.1,412.7 L425.6,412.3 L426.1,412.6 L426.6,413.1 L427.1,413.5 L427.6,413.7 L428.1,413.3 L428.6,412.9 L429.1,413.1 L429.6,413.2 L430.1,413.0 L430.6,413.0 L431.1,413.3 L431.6,413.4 L432.1,413.1 L432.6,413.1 L433.1,413.0 L433.6,413.1 L434.1,413.5 L434.6,413.3 L435.1,412.9 L435.6,412.6 L436.1,412.9 L436.6,413.1 L437.1,412.9 L437.6,412.8 L438.1,412.8 L438.6,412.6 L439.1,412.2" fill="none" stroke="#33958e" stroke-width="1.0" stroke-linejoin="round"/>
<path d="M259.6,446.4 L260.1,446.2 L260.6,446.0 L261.1,446.0 L261.6,446.1 L262.1,446.0 L262.6,445.6 L263.1,444.5 L263.4,443.7 L263.6,443.9 L264.1,445.4 L264.6,446.0 L265.1,446.1 L265.6,446.0 L266.1,446.1 L266.6,446.3 L267.1,446.4 L267.6,446.4 L268.1,446.4 L268.6,446.5 L269.1,446.3 L269.6,446.2 L270.1,446.2 L270.6,446.2 L271.1,446.3 L271.6,446.0 L272.1,445.7 L272.6,446.0 L273.1,446.3 L273.6,446.2 L274.1,446.4 L274.6,446.5 L275.1,446.2 L275.6,446.2 L276.1,446.4 L276.6,446.3 L277.1,445.9 L277.6,445.6 L278.1,445.7 L278.6,445.9 L279.1,446.1 L279.6,446.1 L280.1,445.8 L280.6,445.7 L281.1,445.8 L281.6,446.0 L282.1,446.1 L282.6,446.1 L283.1,446.1 L283.6,445.9 L284.1,445.5 L284.6,445.1 L285.1,444.5 L285.6,443.9 L286.1,443.1 L286.5,442.7 L286.6,443.4 L287.1,444.2 L287.6,444.4 L288.1,444.2 L288.6,444.4 L289.1,445.3 L289.6,445.7 L290.1,445.5 L290.6,445.4 L291.1,445.4 L291.6,445.5 L292.1,445.4 L292.6,445.4 L293.1,446.0 L293.6,446.5 L294.1,446.6 L294.6,446.6 L295.1,446.7 L295.6,446.5 L296.1,446.2 L296.6,446.2 L297.1,446.2 L297.6,446.1 L298.1,446.1 L298.6,446.0 L299.1,445.7 L299.6,445.7 L300.1,446.1 L300.6,446.5 L301.1,446.7 L301.6,446.7 L302.1,446.5 L302.6,446.3 L303.1,446.0 L303.6,445.5 L304.1,445.4 L304.6,445.9 L305.1,446.4 L305.6,446.5 L306.1,446.9 L306.6,446.9 L307.1,446.6 L307.6,446.5 L308.1,446.8 L308.6,446.7 L309.1,446.2 L309.6,446.3 L310.1,446.5 L310.6,446.4 L311.1,446.6 L311.6,446.5 L312.1,446.3 L312.6,446.2 L313.1,446.3 L313.6,446.5 L314.1,446.6 L314.6,446.4 L315.1,446.4 L315.6,446.3 L316.1,446.2 L316.6,446.0 L317.1,445.5 L317.6,445.4 L318.1,445.3 L318.6,444.9 L319.1,444.4 L319.6,443.2 L320.1,440.1 L320.4,438.7 L320.6,439.4 L321.1,442.9 L321.6,444.3 L322.1,444.8 L322.6,445.8 L323.1,446.4 L323.6,446.4 L324.1,446.3 L324.6,446.2 L325.1,446.5 L325.6,446.5 L326.1,446.3 L326.6,446.5 L327.1,446.3 L327.6,446.0 L328.1,446.1 L328.6,446.2 L329.1,446.2 L329.6,446.1 L330.1,445.8 L330.6,445.7 L331.1,446.1 L331.6,446.2 L332.1,445.7 L332.6,445.1 L333.1,444.5 L333.6,442.7 L334.0,440.6 L334.1,440.8 L334.6,443.9 L335.1,445.3 L335.6,445.7 L336.1,446.0 L336.6,446.3 L337.1,446.1 L337.6,445.9 L338.1,445.9 L338.6,446.3 L339.1,446.5 L339.6,446.3 L340.1,446.2 L340.6,446.5 L341.1,446.4 L341.6,446.1 L342.1,446.1 L342.6,446.1 L343.1,446.0 L343.6,446.0 L344.1,445.8 L344.6,445.4 L345.1,445.4 L345.6,445.1 L346.1,444.3 L346.6,443.5 L347.1,442.8 L347.6,441.9 L348.1,441.8 L348.1,442.1 L348.6,442.1 L349.1,442.9 L349.6,444.0 L350.1,444.8 L350.6,445.1 L351.1,445.4 L351.6,445.6 L352.1,445.4 L352.6,445.3 L353.1,445.3 L353.6,445.6 L354.1,445.8 L354.6,445.7 L355.1,446.0 L355.6,446.2 L356.1,445.9 L356.6,445.9 L357.1,446.3 L357.6,446.5 L358.1,446.3 L358.6,446.1 L359.1,446.3 L359.6,446.1 L360.1,446.0 L360.6,446.0 L361.1,446.1 L361.6,446.4 L362.1,446.5 L362.6,446.1 L363.1,445.9 L363.6,446.2 L364.1,446.7 L364.6,446.7 L365.1,446.4 L365.6,446.2 L366.1,446.4 L366.6,446.5 L367.1,446.3 L367.6,446.2 L368.1,446.7 L368.6,446.7 L369.1,446.5 L369.6,446.7 L370.1,446.6 L370.6,446.3 L371.1,446.4 L371.6,446.4 L372.1,446.1 L372.6,446.3 L373.1,446.7 L373.6,446.0 L374.1,445.3 L374.6,445.8 L375.1,446.2 L375.6,445.8 L376.1,445.8 L376.6,446.0 L377.1,446.0 L377.6,445.7 L378.1,445.6 L378.6,446.0 L379.1,446.1 L379.6,446.3 L380.1,446.4 L380.6,445.9 L381.1,445.8 L381.6,446.1 L382.1,446.3 L382.6,446.1 L383.1,445.5 L383.6,445.0 L384.1,444.7 L384.6,444.8 L385.1,444.5 L385.6,443.1 L386.1,440.4 L386.6,434.9 L387.1,423.8 L387.4,420.3 L387.6,422.9 L388.1,430.6 L388.6,434.6 L389.1,436.6 L389.6,437.6 L390.1,438.2 L390.6,438.6 L391.1,439.1 L391.5,439.3 L391.6,439.4 L392.1,440.5 L392.6,441.5 L393.1,442.3 L393.6,442.6 L394.1,443.2 L394.6,444.1 L395.1,444.4 L395.6,444.6 L396.1,445.0 L396.6,445.1 L397.1,444.9 L397.6,444.9 L398.1,445.1 L398.6,445.5 L399.1,445.7 L399.6,445.7 L400.1,445.6 L400.6,445.6 L401.1,445.6 L401.6,445.6 L402.1,445.9 L402.6,446.2 L403.1,446.2 L403.6,446.0 L404.1,445.9 L404.6,446.2 L405.1,446.5 L405.6,446.5 L406.1,446.5 L406.6,446.2 L407.1,445.8 L407.6,446.0 L408.1,446.2 L408.6,446.3 L409.1,446.3 L409.6,446.4 L410.1,446.6 L410.6,446.6 L411.1,446.3 L411.6,446.0 L412.1,446.3 L412.6,446.6 L413.1,446.6 L413.6,446.2 L414.1,445.9 L414.6,446.2 L415.1,446.3 L415.6,446.2 L416.1,446.1 L416.6,445.8 L417.1,446.0 L417.6,446.0 L418.1,445.6 L418.6,445.7 L419.1,446.3 L419.6,446.4 L420.1,445.8 L420.6,445.7 L421.1,446.1 L421.6,446.0 L422.1,446.0 L422.6,446.2 L423.1,446.2 L423.6,446.1 L424.1,446.1 L424.6,446.1 L425.1,445.9 L425.6,445.9 L426.1,446.3 L426.6,446.6 L427.1,446.6 L427.6,446.6 L428.1,446.7 L428.6,446.9 L429.1,446.6 L429.6,446.2 L430.1,446.4 L430.6,446.6 L431.1,446.7 L431.6,446.6 L432.1,446.2 L432.6,445.9 L433.1,446.0 L433.6,446.0 L434.1,445.9 L434.6,446.3 L435.1,446.5 L435.6,446.3 L436.1,446.0 L436.6,446.2 L437.1,446.6 L437.6,446.9 L438.1,446.7 L438.6,446.7 L439.1,447.1" fill="none" stroke="#489c72" stroke-width="1.0" stroke-linejoin="round"/>
<path d="M259.6,459.2 L260.1,459.2 L260.6,459.4 L261.1,459.9 L261.6,460.1 L262.1,459.8 L262.6,459.4 L263.1,458.9 L263.4,458.9 L263.6,459.3 L264.1,460.3 L264.6,460.7 L265.1,460.1 L265.6,459.7 L266.1,459.7 L266.6,459.6 L267.1,459.7 L267.6,460.0 L268.1,460.1 L268.6,459.8 L269.1,459.6 L269.6,459.6 L270.1,459.9 L270.6,460.2 L271.1,460.1 L271.6,459.9 L272.1,459.9 L272.6,459.9 L273.1,459.7 L273.6,459.5 L274.1,459.6 L274.6,459.9 L275.1,459.8 L275.6,459.3 L276.1,459.3 L276.6,459.8 L277.1,460.1 L277.6,460.2 L278.1,460.1 L278.6,459.9 L279.1,459.9 L279.6,459.8 L280.1,459.5 L280.6,459.5 L281.1,459.9 L281.6,459.9 L282.1,459.7 L282.6,459.8 L283.1,459.9 L283.6,460.1 L284.1,460.3 L284.6,460.2 L285.1,459.8 L285.6,459.4 L286.1,458.8 L286.5,458.4 L286.6,458.5 L287.1,459.0 L287.6,459.4 L288.1,459.4 L288.6,459.7 L289.1,459.8 L289.6,459.7 L290.1,459.4 L290.6,459.6 L291.1,459.9 L291.6,460.2 L292.1,460.2 L292.6,460.1 L293.1,460.1 L293.6,460.1 L294.1,460.2 L294.6,460.4 L295.1,460.3 L295.6,459.8 L296.1,459.6 L296.6,460.1 L297.1,460.3 L297.6,460.0 L298.1,459.9 L298.6,460.4 L299.1,460.5 L299.6,460.2 L300.1,460.3 L300.6,460.5 L301.1,460.4 L301.6,460.2 L302.1,460.2 L302.6,459.8 L303.1,459.5 L303.6,459.7 L304.1,459.9 L304.6,459.8 L305.1,459.5 L305.6,459.1 L306.1,459.4 L306.6,459.9 L307.1,459.8 L307.6,459.6 L308.1,459.8 L308.6,459.8 L309.1,459.5 L309.6,459.6 L310.1,459.8 L310.6,459.6 L311.1,459.8 L311.6,459.9 L312.1,459.5 L312.6,459.5 L313.1,459.7 L313.6,459.6 L314.1,459.6 L314.6,459.5 L315.1,459.5 L315.6,460.0 L316.1,460.4 L316.6,460.3 L317.1,459.9 L317.6,459.8 L318.1,459.6 L318.6,459.4 L319.1,459.2 L319.6,459.0 L320.1,458.1 L320.4,457.7 L320.6,458.2 L321.1,459.5 L321.6,459.9 L322.1,460.0 L322.6,459.6 L323.1,459.3 L323.6,459.3 L324.1,459.4 L324.6,459.3 L325.1,459.4 L325.6,459.7 L326.1,459.8 L326.6,459.9 L327.1,459.8 L327.6,459.7 L328.1,460.1 L328.6,460.2 L329.1,460.1 L329.6,460.0 L330.1,459.9 L330.6,459.7 L331.1,459.3 L331.6,459.2 L332.1,459.5 L332.6,459.8 L333.1,459.8 L333.6,459.0 L334.0,458.4 L334.1,458.4 L334.6,459.0 L335.1,459.3 L335.6,459.6 L336.1,459.7 L336.6,459.4 L337.1,459.4 L337.6,459.7 L338.1,459.9 L338.6,459.6 L339.1,459.6 L339.6,459.7 L340.1,459.4 L340.6,459.4 L341.1,459.6 L341.6,459.5 L342.1,459.4 L342.6,459.4 L343.1,459.5 L343.6,459.7 L344.1,459.8 L344.6,459.7 L345.1,459.5 L345.6,459.3 L346.1,459.1 L346.6,459.1 L347.1,459.2 L347.6,458.9 L348.1,458.3 L348.1,458.3 L348.6,458.9 L349.1,459.1 L349.6,459.0 L350.1,459.3 L350.6,459.4 L351.1,459.4 L351.6,459.5 L352.1,459.6 L352.6,459.7 L353.1,459.4 L353.6,459.4 L354.1,459.6 L354.6,459.5 L355.1,459.4 L355.6,459.6 L356.1,459.8 L356.6,459.8 L357.1,459.8 L357.6,460.0 L358.1,460.0 L358.6,460.0 L359.1,460.1 L359.6,459.9 L360.1,459.8 L360.6,459.7 L361.1,459.8 L361.6,460.1 L362.1,459.9 L362.6,459.6 L363.1,459.8 L363.6,460.0 L364.1,460.0 L364.6,459.7 L365.1,459.4 L365.6,459.5 L366.1,459.7 L366.6,459.7 L367.1,459.4 L367.6,459.4 L368.1,459.7 L368.6,460.0 L369.1,460.2 L369.6,460.3 L370.1,460.3 L370.6,460.0 L371.1,459.7 L371.6,459.5 L372.1,459.5 L372.6,459.6 L373.1,459.9 L373.6,460.3 L374.1,460.4 L374.6,460.4 L375.1,460.5 L375.6,460.0 L376.1,459.7 L376.6,459.7 L377.1,459.8 L377.6,459.9 L378.1,459.9 L378.6,459.8 L379.1,459.8 L379.6,460.3 L380.1,460.5 L380.6,459.9 L381.1,459.6 L381.6,460.2 L382.1,460.3 L382.6,459.4 L383.1,459.0 L383.6,459.4 L384.1,459.7 L384.6,459.7 L385.1,459.4 L385.6,459.1 L386.1,458.4 L386.6,456.7 L387.1,453.6 L387.4,452.7 L387.6,453.0 L388.1,454.9 L388.6,456.3 L389.1,457.2 L389.6,457.8 L390.1,458.0 L390.6,457.9 L391.1,457.6 L391.5,457.7 L391.6,458.0 L392.1,458.1 L392.6,457.9 L393.1,458.1 L393.6,458.7 L394.1,459.2 L394.6,459.3 L395.1,459.3 L395.6,459.4 L396.1,459.4 L396.6,459.4 L397.1,459.4 L397.6,459.6 L398.1,460.0 L398.6,460.1 L399.1,460.0 L399.6,459.9 L400.1,459.9 L400.6,459.8 L401.1,459.7 L401.6,459.8 L402.1,459.8 L402.6,459.6 L403.1,459.6 L403.6,459.9 L404.1,459.9 L404.6,459.7 L405.1,459.7 L405.6,459.9 L406.1,459.9 L406.6,459.7 L407.1,459.7 L407.6,459.6 L408.1,459.5 L408.6,459.8 L409.1,459.7 L409.6,459.8 L410.1,460.1 L410.6,460.2 L411.1,460.2 L411.6,460.3 L412.1,460.3 L412.6,460.2 L413.1,459.9 L413.6,459.8 L414.1,459.8 L414.6,459.8 L415.1,459.9 L415.6,459.8 L416.1,459.6 L416.6,459.7 L417.1,459.7 L417.6,459.5 L418.1,459.5 L418.6,459.7 L419.1,460.3 L419.6,460.5 L420.1,460.2 L420.6,460.1 L421.1,459.8 L421.6,459.6 L422.1,459.7 L422.6,460.0 L423.1,460.2 L423.6,460.2 L424.1,460.1 L424.6,459.8 L425.1,459.6 L425.6,459.8 L426.1,459.9 L426.6,459.9 L427.1,459.8 L427.6,459.5 L428.1,459.5 L428.6,459.8 L429.1,460.0 L429.6,459.8 L430.1,459.7 L430.6,459.6 L431.1,459.6 L431.6,460.1 L432.1,460.3 L432.6,460.0 L433.1,459.8 L433.6,459.7 L434.1,459.6 L434.6,459.5 L435.1,459.7 L435.6,459.8 L436.1,459.5 L436.6,459.3 L437.1,459.5 L437.6,459.7 L438.1,460.0 L438.6,460.2 L439.1,460.4" fill="none" stroke="#89b377" stroke-width="1.0" stroke-linejoin="round"/>
<path d="M259.6,467.1 L260.1,466.9 L260.6,466.7 L261.1,466.9 L261.6,467.1 L262.1,466.9 L262.6,466.7 L263.1,466.6 L263.4,466.6 L263.6,467.1 L264.1,467.2 L264.6,467.2 L265.1,467.7 L265.6,467.4 L266.1,466.8 L266.6,466.6 L267.1,466.6 L267.6,466.9 L268.1,467.1 L268.6,467.3 L269.1,467.9 L269.6,468.0 L270.1,467.5 L270.6,466.9 L271.1,466.7 L271.6,466.9 L272.1,467.1 L272.6,467.0 L273.1,467.1 L273.6,467.4 L274.1,467.6 L274.6,467.3 L275.1,466.9 L275.6,466.9 L276.1,467.3 L276.6,467.6 L277.1,467.1 L277.6,466.4 L278.1,466.1 L278.6,466.4 L279.1,467.0 L279.6,467.5 L280.1,467.4 L280.6,467.2 L281.1,467.1 L281.6,467.1 L282.1,467.0 L282.6,467.1 L283.1,467.1 L283.6,467.1 L284.1,467.3 L284.6,467.4 L285.1,467.2 L285.6,466.8 L286.1,466.7 L286.5,466.9 L286.6,466.8 L287.1,466.8 L287.6,467.1 L288.1,467.1 L288.6,467.1 L289.1,467.4 L289.6,467.7 L290.1,467.5 L290.6,467.0 L291.1,466.8 L291.6,467.0 L292.1,467.2 L292.6,467.0 L293.1,466.7 L293.6,466.6 L294.1,466.4 L294.6,466.5 L295.1,466.7 L295.6,466.8 L296.1,466.9 L296.6,466.9 L297.1,467.2 L297.6,467.2 L298.1,467.0 L298.6,467.2 L299.1,467.2 L299.6,467.0 L300.1,467.3 L300.6,467.2 L301.1,466.7 L301.6,466.6 L302.1,466.7 L302.6,467.0 L303.1,467.4 L303.6,467.1 L304.1,466.9 L304.6,467.2 L305.1,467.0 L305.6,466.8 L306.1,466.9 L306.6,467.0 L307.1,467.0 L307.6,467.1 L308.1,467.2 L308.6,467.4 L309.1,467.4 L309.6,467.0 L310.1,467.0 L310.6,467.3 L311.1,467.4 L311.6,467.2 L312.1,467.1 L312.6,467.0 L313.1,467.0 L313.6,467.2 L314.1,467.3 L314.6,467.1 L315.1,466.9 L315.6,466.8 L316.1,466.9 L316.6,467.0 L317.1,466.8 L317.6,466.8 L318.1,467.1 L318.6,467.1 L319.1,466.8 L319.6,466.5 L320.1,466.4 L320.4,466.6 L320.6,466.4 L321.1,466.4 L321.6,467.0 L322.1,467.4 L322.6,467.3 L323.1,467.2 L323.6,466.9 L324.1,466.8 L324.6,467.1 L325.1,467.1 L325.6,467.2 L326.1,467.5 L326.6,467.3 L327.1,466.9 L327.6,467.1 L328.1,467.5 L328.6,467.5 L329.1,467.3 L329.6,467.2 L330.1,466.6 L330.6,466.3 L331.1,466.9 L331.6,467.3 L332.1,467.3 L332.6,467.3 L333.1,466.9 L333.6,466.4 L334.0,466.2 L334.1,466.3 L334.6,466.4 L335.1,466.4 L335.6,466.6 L336.1,466.9 L336.6,467.1 L337.1,467.0 L337.6,466.9 L338.1,466.9 L338.6,466.7 L339.1,466.5 L339.6,466.6 L340.1,466.8 L340.6,467.1 L341.1,466.9 L341.6,466.8 L342.1,467.0 L342.6,466.8 L343.1,466.6 L343.6,466.8 L344.1,466.9 L344.6,467.1 L345.1,467.2 L345.6,467.0 L346.1,466.6 L346.6,466.7 L347.1,466.9 L347.6,466.8 L348.1,466.5 L348.1,466.5 L348.6,466.7 L349.1,466.6 L349.6,466.5 L350.1,466.8 L350.6,467.1 L351.1,467.1 L351.6,467.1 L352.1,467.1 L352.6,467.2 L353.1,466.9 L353.6,466.4 L354.1,466.5 L354.6,466.9 L355.1,467.2 L355.6,467.5 L356.1,467.4 L356.6,466.9 L357.1,466.9 L357.6,467.3 L358.1,467.3 L358.6,466.8 L359.1,466.5 L359.6,466.8 L360.1,466.9 L360.6,466.9 L361.1,467.0 L361.6,467.0 L362.1,467.0 L362.6,467.1 L363.1,467.2 L363.6,467.2 L364.1,467.5 L364.6,467.5 L365.1,466.9 L365.6,466.8 L366.1,467.0 L366.6,466.8 L367.1,467.0 L367.6,467.3 L368.1,467.4 L368.6,467.3 L369.1,467.0 L369.6,466.5 L370.1,466.5 L370.6,466.9 L371.1,466.9 L371.6,466.6 L372.1,466.4 L372.6,466.6 L373.1,466.8 L373.6,467.0 L374.1,466.9 L374.6,467.0 L375.1,467.1 L375.6,467.1 L376.1,466.8 L376.6,466.6 L377.1,467.0 L377.6,467.3 L378.1,467.0 L378.6,466.3 L379.1,466.1 L379.6,466.1 L380.1,466.1 L380.6,466.3 L381.1,466.6 L381.6,467.0 L382.1,467.1 L382.6,466.7 L383.1,466.8 L383.6,467.1 L384.1,467.0 L384.6,467.0 L385.1,467.2 L385.6,467.3 L386.1,467.1 L386.6,466.3 L387.1,465.3 L387.4,465.1 L387.6,465.4 L388.1,466.2 L388.6,466.4 L389.1,466.6 L389.6,466.7 L390.1,466.2 L390.6,466.0 L391.1,466.3 L391.5,466.7 L391.6,466.7 L392.1,466.6 L392.6,466.9 L393.1,467.2 L393.6,467.5 L394.1,467.4 L394.6,466.9 L395.1,466.7 L395.6,466.7 L396.1,466.6 L396.6,466.7 L397.1,466.9 L397.6,466.8 L398.1,466.5 L398.6,466.5 L399.1,466.7 L399.6,467.0 L400.1,467.3 L400.6,467.2 L401.1,467.0 L401.6,467.1 L402.1,467.1 L402.6,466.8 L403.1,466.8 L403.6,467.0 L404.1,467.2 L404.6,467.3 L405.1,467.4 L405.6,467.3 L406.1,467.3 L406.6,466.9 L407.1,466.4 L407.6,466.4 L408.1,466.8 L408.6,467.0 L409.1,467.0 L409.6,466.9 L410.1,466.9 L410.6,466.8 L411.1,466.8 L411.6,466.9 L412.1,466.9 L412.6,466.8 L413.1,466.7 L413.6,466.7 L414.1,466.6 L414.6,466.6 L415.1,467.2 L415.6,467.5 L416.1,467.3 L416.6,467.1 L417.1,467.2 L417.6,467.4 L418.1,467.4 L418.6,467.3 L419.1,467.3 L419.6,467.4 L420.1,466.9 L420.6,466.7 L421.1,467.1 L421.6,467.3 L422.1,467.0 L422.6,466.8 L423.1,467.3 L423.6,467.4 L424.1,467.2 L424.6,467.2 L425.1,467.0 L425.6,466.9 L426.1,466.8 L426.6,466.4 L427.1,466.5 L427.6,467.0 L428.1,467.4 L428.6,467.0 L429.1,466.6 L429.6,467.1 L430.1,467.2 L430.6,466.9 L431.1,466.8 L431.6,466.7 L432.1,466.9 L432.6,467.4 L433.1,467.4 L433.6,467.3 L434.1,467.1 L434.6,466.9 L435.1,466.8 L435.6,466.5 L436.1,466.4 L436.6,466.7 L437.1,466.9 L437.6,466.6 L438.1,466.7 L438.6,467.2 L439.1,467.2" fill="none" stroke="#bf9c66" stroke-width="1.0" stroke-linejoin="round"/>
<line x1="267.4" y1="355.5" x2="282.4" y2="355.5" stroke="#3aaaa2" stroke-width="1.0" stroke-opacity="0.55"/>
<text x="285" y="358.4" font-size="8.25" text-anchor="start" fill="#1e1a1a" font-weight="normal" stroke="#1e1a1a" stroke-width="0.18" letter-spacing="0.1">4MBA (10<tspan font-size="5" dy="-3">-4</tspan><tspan dy="3"> M)</tspan></text>
<line x1="267.4" y1="366.5" x2="282.4" y2="366.5" stroke="#52b282" stroke-width="1.0" stroke-opacity="0.55"/>
<text x="285" y="369.4" font-size="8.25" text-anchor="start" fill="#1e1a1a" font-weight="normal" stroke="#1e1a1a" stroke-width="0.18" letter-spacing="0.1">4MBA (10<tspan font-size="5" dy="-3">-5</tspan><tspan dy="3"> M)</tspan></text>
<line x1="267.4" y1="377.7" x2="282.4" y2="377.7" stroke="#9ccc88" stroke-width="1.0" stroke-opacity="0.55"/>
<text x="285" y="380.6" font-size="8.25" text-anchor="start" fill="#1e1a1a" font-weight="normal" stroke="#1e1a1a" stroke-width="0.18" letter-spacing="0.1">4MBA (10<tspan font-size="5" dy="-3">-6</tspan><tspan dy="3"> M)</tspan></text>
<line x1="267.4" y1="388.6" x2="282.4" y2="388.6" stroke="#dab274" stroke-width="1.0" stroke-opacity="0.55"/>
<text x="285" y="391.5" font-size="8.25" text-anchor="start" fill="#1e1a1a" font-weight="normal" stroke="#1e1a1a" stroke-width="0.18" letter-spacing="0.1">4MBA (10<tspan font-size="5" dy="-3">-7</tspan><tspan dy="3"> M)</tspan></text>
<text x="223.3" y="359" font-size="24.5" text-anchor="start" fill="#231815" font-weight="bold" >h</text>
<rect x="479.2" y="341" width="180.3" height="134.7" fill="none" stroke="#3a3a3a" stroke-width="1"/>
<line x1="479.2" y1="475.7" x2="479.2" y2="478.2" stroke="#3a3a3a" stroke-width="0.9" />
<text x="479.2" y="486.3" font-size="8.25" text-anchor="middle" fill="#1e1a1a" font-weight="normal" stroke="#1e1a1a" stroke-width="0.18" >600</text>
<line x1="492.08" y1="475.7" x2="492.08" y2="477.2" stroke="#3a3a3a" stroke-width="0.9" />
<line x1="504.96" y1="475.7" x2="504.96" y2="478.2" stroke="#3a3a3a" stroke-width="0.9" />
<text x="504.96" y="486.3" font-size="8.25" text-anchor="middle" fill="#1e1a1a" font-weight="normal" stroke="#1e1a1a" stroke-width="0.18" >800</text>
<line x1="517.84" y1="475.7" x2="517.84" y2="477.2" stroke="#3a3a3a" stroke-width="0.9" />
<line x1="530.71" y1="475.7" x2="530.71" y2="478.2" stroke="#3a3a3a" stroke-width="0.9" />
<text x="530.71" y="486.3" font-size="8.25" text-anchor="middle" fill="#1e1a1a" font-weight="normal" stroke="#1e1a1a" stroke-width="0.18" >1000</text>
<line x1="543.59" y1="475.7" x2="543.59" y2="477.2" stroke="#3a3a3a" stroke-width="0.9" />
<line x1="556.47" y1="475.7" x2="556.47" y2="478.2" stroke="#3a3a3a" stroke-width="0.9" />
<text x="556.47" y="486.3" font-size="8.25" text-anchor="middle" fill="#1e1a1a" font-weight="normal" stroke="#1e1a1a" stroke-width="0.18" >1200</text>
<line x1="569.35" y1="475.7" x2="569.35" y2="477.2" stroke="#3a3a3a" stroke-width="0.9" />
<line x1="582.23" y1="475.7" x2="582.23" y2="478.2" stroke="#3a3a3a" stroke-width="0.9" />
<text x="582.23" y="486.3" font-size="8.25" text-anchor="middle" fill="#1e1a1a" font-weight="normal" stroke="#1e1a1a" stroke-width="0.18" >1400</text>
<line x1="595.11" y1="475.7" x2="595.11" y2="477.2" stroke="#3a3a3a" stroke-width="0.9" />
<line x1="607.99" y1="475.7" x2="607.99" y2="478.2" stroke="#3a3a3a" stroke-width="0.9" />
<text x="607.99" y="486.3" font-size="8.25" text-anchor="middle" fill="#1e1a1a" font-weight="normal" stroke="#1e1a1a" stroke-width="0.18" >1600</text>
<line x1="620.86" y1="475.7" x2="620.86" y2="477.2" stroke="#3a3a3a" stroke-width="0.9" />
<line x1="633.74" y1="475.7" x2="633.74" y2="478.2" stroke="#3a3a3a" stroke-width="0.9" />
<text x="633.74" y="486.3" font-size="8.25" text-anchor="middle" fill="#1e1a1a" font-weight="normal" stroke="#1e1a1a" stroke-width="0.18" >1800</text>
<line x1="646.62" y1="475.7" x2="646.62" y2="477.2" stroke="#3a3a3a" stroke-width="0.9" />
<line x1="659.5" y1="475.7" x2="659.5" y2="478.2" stroke="#3a3a3a" stroke-width="0.9" />
<text x="659.5" y="486.3" font-size="8.25" text-anchor="middle" fill="#1e1a1a" font-weight="normal" stroke="#1e1a1a" stroke-width="0.18" >2000</text>
<line x1="477.7" y1="475.65" x2="479.2" y2="475.65" stroke="#3a3a3a" stroke-width="0.9" />
<line x1="477.7" y1="448.75" x2="479.2" y2="448.75" stroke="#3a3a3a" stroke-width="0.9" />
<line x1="477.7" y1="421.85" x2="479.2" y2="421.85" stroke="#3a3a3a" stroke-width="0.9" />
<line x1="477.7" y1="394.95" x2="479.2" y2="394.95" stroke="#3a3a3a" stroke-width="0.9" />
<line x1="477.7" y1="368.05" x2="479.2" y2="368.05" stroke="#3a3a3a" stroke-width="0.9" />
<line x1="476.7" y1="462.2" x2="479.2" y2="462.2" stroke="#3a3a3a" stroke-width="0.9" />
<text x="475.2" y="464.6" font-size="8.25" text-anchor="end" fill="#1e1a1a" font-weight="normal" stroke="#1e1a1a" stroke-width="0.18" >0</text>
<line x1="476.7" y1="435.3" x2="479.2" y2="435.3" stroke="#3a3a3a" stroke-width="0.9" />
<text x="475.2" y="437.7" font-size="8.25" text-anchor="end" fill="#1e1a1a" font-weight="normal" stroke="#1e1a1a" stroke-width="0.18" >5</text>
<line x1="476.7" y1="408.4" x2="479.2" y2="408.4" stroke="#3a3a3a" stroke-width="0.9" />
<text x="475.2" y="410.8" font-size="8.25" text-anchor="end" fill="#1e1a1a" font-weight="normal" stroke="#1e1a1a" stroke-width="0.18" >10</text>
<line x1="476.7" y1="381.5" x2="479.2" y2="381.5" stroke="#3a3a3a" stroke-width="0.9" />
<text x="475.2" y="383.9" font-size="8.25" text-anchor="end" fill="#1e1a1a" font-weight="normal" stroke="#1e1a1a" stroke-width="0.18" >15</text>
<line x1="476.7" y1="354.6" x2="479.2" y2="354.6" stroke="#3a3a3a" stroke-width="0.9" />
<text x="475.2" y="357" font-size="8.25" text-anchor="end" fill="#1e1a1a" font-weight="normal" stroke="#1e1a1a" stroke-width="0.18" >20</text>
<text x="569.35" y="496.5" font-size="8.25" text-anchor="middle" fill="#1e1a1a" stroke="#1e1a1a" stroke-width="0.18">Raman shift (cm<tspan font-size="5" dy="-3">-1</tspan><tspan dy="3">)</tspan></text>
<text transform="translate(464.3,408.5) rotate(-90)" x="0" y="0" font-size="8" text-anchor="middle" fill="#1e1a1a" stroke="#1e1a1a" stroke-width="0.18">Intensity (10<tspan font-size="5" dy="-3">3</tspan><tspan dy="3"> counts)</tspan></text>
<path d="M479.2,389.9 L479.5,391.1 L479.9,391.4 L480.2,390.3 L480.6,390.5 L480.9,392.4 L481.2,390.2 L481.6,391.2 L481.9,390.4 L482.3,391.6 L482.6,391.8 L482.9,392.3 L483.3,392.2 L483.6,390.2 L484.0,390.5 L484.3,390.4 L484.6,390.6 L485.0,391.3 L485.3,391.0 L485.7,390.3 L486.0,390.4 L486.3,393.7 L486.7,389.6 L487.0,393.3 L487.4,389.9 L487.7,390.0 L488.0,390.6 L488.4,390.6 L488.7,390.9 L489.1,390.3 L489.4,390.6 L489.7,391.3 L490.1,391.9 L490.4,391.4 L490.8,392.0 L491.1,391.1 L491.4,393.1 L491.8,388.2 L492.1,390.6 L492.5,391.2 L492.8,390.8 L493.1,391.3 L493.5,391.3 L493.8,392.3 L494.2,390.8 L494.5,390.8 L494.8,390.0 L495.2,391.1 L495.5,390.6 L495.9,391.3 L496.2,390.6 L496.5,391.2 L496.9,390.4 L497.2,389.7 L497.6,390.2 L497.9,390.2 L498.2,391.8 L498.6,390.6 L498.9,391.1 L499.3,391.8 L499.6,391.3 L499.9,390.5 L500.3,391.0 L500.6,388.5 L501.0,391.4 L501.3,389.9 L501.6,388.9 L502.0,391.3 L502.3,390.2 L502.7,388.9 L503.0,391.2 L503.3,391.7 L503.7,390.4 L504.0,389.7 L504.4,390.8 L504.7,392.0 L505.0,389.2 L505.4,389.5 L505.7,389.0 L506.1,389.6 L506.4,389.2 L506.7,389.3 L507.1,387.9 L507.4,388.0 L507.8,388.8 L508.1,384.6 L508.4,384.9 L508.8,384.7 L508.8,384.5 L509.1,384.8 L509.5,385.4 L509.8,387.0 L510.1,387.0 L510.5,388.1 L510.8,388.4 L511.2,389.7 L511.5,387.1 L511.8,390.0 L512.2,388.2 L512.5,389.0 L512.9,389.7 L513.2,388.8 L513.5,390.4 L513.9,390.2 L514.2,390.9 L514.6,391.0 L514.9,389.0 L515.2,392.0 L515.6,390.3 L515.9,390.6 L516.3,389.3 L516.6,389.0 L516.9,390.9 L517.3,390.3 L517.6,388.2 L518.0,390.5 L518.3,390.1 L518.6,387.8 L519.0,387.4 L519.3,389.0 L519.7,388.6 L520.0,389.4 L520.3,390.2 L520.7,390.2 L521.0,387.9 L521.4,387.3 L521.7,389.5 L522.0,387.6 L522.4,386.9 L522.7,388.4 L523.1,387.2 L523.4,385.9 L523.7,386.6 L524.1,384.9 L524.4,385.6 L524.8,385.2 L525.1,384.4 L525.4,382.9 L525.6,383.8 L525.8,385.7 L526.1,385.3 L526.5,385.4 L526.8,384.0 L527.1,386.4 L527.5,385.0 L527.8,386.3 L528.2,387.2 L528.5,388.9 L528.8,386.8 L529.2,388.1 L529.5,386.8 L529.9,387.6 L530.2,389.6 L530.5,389.5 L530.9,390.0 L531.2,390.6 L531.6,391.1 L531.9,390.0 L532.2,388.6 L532.6,389.3 L532.9,389.1 L533.3,389.7 L533.6,389.4 L533.9,390.2 L534.3,389.3 L534.6,391.1 L535.0,389.5 L535.3,389.7 L535.6,389.0 L536.0,389.2 L536.3,390.3 L536.7,390.3 L537.0,389.8 L537.3,390.4 L537.7,390.9 L538.0,389.2 L538.4,389.2 L538.7,390.9 L539.0,389.8 L539.4,390.4 L539.7,390.7 L540.1,390.2 L540.4,391.1 L540.7,390.5 L541.1,390.9 L541.4,391.0 L541.8,389.5 L542.1,389.4 L542.4,390.7 L542.8,389.4 L543.1,391.6 L543.5,387.4 L543.8,385.6 L544.1,385.8 L544.2,388.2 L544.5,387.6 L544.8,386.9 L545.2,389.0 L545.5,390.2 L545.8,389.2 L546.2,390.0 L546.5,390.1 L546.9,390.2 L547.2,389.5 L547.5,389.8 L547.9,389.8 L548.2,391.1 L548.6,387.7 L548.9,388.8 L549.2,391.2 L549.6,390.4 L549.9,389.3 L550.3,386.3 L550.6,390.0 L550.9,390.3 L551.3,388.4 L551.6,388.0 L552.0,387.2 L552.3,386.8 L552.6,381.1 L553.0,379.4 L553.3,378.5 L553.3,379.8 L553.7,382.1 L554.0,383.7 L554.3,384.9 L554.7,387.4 L555.0,387.7 L555.4,388.8 L555.7,388.5 L556.0,388.5 L556.4,389.0 L556.7,388.7 L557.1,389.3 L557.4,389.0 L557.7,387.3 L558.1,388.6 L558.4,389.2 L558.8,389.5 L559.1,390.0 L559.4,387.9 L559.8,387.4 L560.1,384.7 L560.5,385.2 L560.8,385.3 L561.1,384.5 L561.5,383.0 L561.8,382.3 L562.2,383.6 L562.5,380.7 L562.8,380.1 L563.2,380.7 L563.5,377.0 L563.9,374.6 L564.2,376.1 L564.5,376.7 L564.8,374.1 L564.9,374.9 L565.2,375.0 L565.6,376.2 L565.9,377.2 L566.2,377.6 L566.6,378.7 L566.9,379.9 L567.3,381.6 L567.6,383.5 L567.9,383.8 L568.3,384.1 L568.6,384.4 L569.0,386.3 L569.3,384.9 L569.6,386.9 L570.0,388.0 L570.3,386.5 L570.7,389.0 L571.0,386.5 L571.3,388.4 L571.7,388.3 L572.0,389.8 L572.4,389.3 L572.7,389.3 L573.0,390.0 L573.4,388.1 L573.7,389.2 L574.1,389.6 L574.4,387.9 L574.7,389.9 L575.1,390.9 L575.4,388.7 L575.8,390.0 L576.1,389.6 L576.4,388.4 L576.8,389.7 L577.1,389.1 L577.5,391.1 L577.8,390.7 L578.1,390.1 L578.5,390.9 L578.8,390.4 L579.2,390.4 L579.5,387.9 L579.8,391.0 L580.2,389.7 L580.5,389.7 L580.9,390.8 L581.2,390.1 L581.5,390.1 L581.9,389.9 L582.2,392.3 L582.6,389.7 L582.9,390.8 L583.2,389.5 L583.6,389.2 L583.9,390.6 L584.3,391.4 L584.6,389.7 L584.9,390.3 L585.3,392.3 L585.6,388.9 L586.0,390.9 L586.3,391.7 L586.6,389.6 L587.0,391.4 L587.3,391.4 L587.7,387.0 L588.0,391.1 L588.3,389.6 L588.7,390.5 L589.0,392.4 L589.4,392.2 L589.7,389.8 L590.0,390.0 L590.4,387.4 L590.7,389.8 L591.1,390.2 L591.4,391.8 L591.7,390.2 L592.1,389.4 L592.4,389.4 L592.8,389.6 L593.1,388.8 L593.4,388.4 L593.8,388.2 L594.1,388.8 L594.5,385.0 L594.8,385.0 L595.1,383.6 L595.1,383.6 L595.5,384.7 L595.8,385.1 L596.2,386.1 L596.5,387.2 L596.8,387.6 L597.2,388.3 L597.5,387.1 L597.9,388.5 L598.2,389.2 L598.5,388.7 L598.9,386.8 L599.2,388.5 L599.6,387.2 L599.9,387.1 L600.2,387.2 L600.6,386.1 L600.9,388.0 L601.3,385.5 L601.6,384.8 L601.9,384.3 L602.3,383.1 L602.6,382.2 L603.0,383.8 L603.3,380.7 L603.6,379.2 L604.0,377.4 L604.3,376.2 L604.7,377.4 L605.0,374.1 L605.3,370.9 L605.7,369.0 L606.0,366.1 L606.4,361.8 L606.7,360.1 L607.0,358.4 L607.4,353.6 L607.7,353.5 L608.0,354.6 L608.1,352.3 L608.4,356.0 L608.7,356.5 L609.1,359.3 L609.4,362.3 L609.8,366.5 L610.1,368.7 L610.4,372.6 L610.8,372.3 L611.1,375.3 L611.5,377.4 L611.8,380.2 L612.1,379.8 L612.5,380.8 L612.8,381.2 L613.2,381.5 L613.5,382.5 L613.8,384.7 L614.2,385.1 L614.5,384.9 L614.9,385.1 L615.2,385.9 L615.5,385.6 L615.9,386.9 L616.2,386.5 L616.6,387.9 L616.9,388.3 L617.2,388.0 L617.6,388.0 L617.9,387.4 L618.3,388.8 L618.6,389.0 L618.9,388.7 L619.3,388.3 L619.6,390.1 L620.0,388.7 L620.3,390.0 L620.6,389.7 L621.0,387.4 L621.3,387.6 L621.7,390.2 L622.0,389.3 L622.3,388.8 L622.7,389.0 L623.0,390.3 L623.4,389.5 L623.7,388.7 L624.0,389.9 L624.4,389.0 L624.7,390.2 L625.1,390.7 L625.4,390.2 L625.7,391.0 L626.1,390.0 L626.4,390.4 L626.8,390.3 L627.1,392.2 L627.4,390.4 L627.8,389.9 L628.1,392.2 L628.5,391.8 L628.8,390.5 L629.1,390.9 L629.5,389.8 L629.8,391.5 L630.2,389.3 L630.5,391.0 L630.8,389.8 L631.2,391.0 L631.5,391.5 L631.9,390.3 L632.2,391.3 L632.5,391.1 L632.9,390.3 L633.2,390.0 L633.6,389.9 L633.9,389.6 L634.2,390.9 L634.6,388.4 L634.9,390.8 L635.3,389.9 L635.6,389.2 L635.9,390.8 L636.3,391.9 L636.6,390.5 L637.0,389.3 L637.3,390.9 L637.6,390.6 L638.0,392.2 L638.3,391.8 L638.7,390.3 L639.0,391.3 L639.3,390.3 L639.7,391.1 L640.0,390.8 L640.4,389.9 L640.7,391.4 L641.0,389.9 L641.4,391.1 L641.7,390.9 L642.1,391.2 L642.4,390.6 L642.7,390.2 L643.1,391.0 L643.4,389.2 L643.8,392.1 L644.1,391.1 L644.4,391.9 L644.8,390.5 L645.1,390.9 L645.5,390.1 L645.8,390.8 L646.1,393.0 L646.5,390.7 L646.8,388.7 L647.2,390.7 L647.5,391.1 L647.8,391.1 L648.2,389.3 L648.5,392.1 L648.9,393.3 L649.2,389.4 L649.5,391.3 L649.9,390.1 L650.2,391.2 L650.6,389.4 L650.9,389.2 L651.2,391.1 L651.6,391.0 L651.9,390.4 L652.3,391.7 L652.6,391.2 L652.9,391.3 L653.3,390.1 L653.6,390.4 L654.0,392.5 L654.3,391.3 L654.6,391.7 L655.0,392.5 L655.3,392.6 L655.7,391.1 L656.0,392.0 L656.3,390.5 L656.7,390.8 L657.0,392.4 L657.4,390.0 L657.7,391.5 L658.0,391.4 L658.4,391.4 L658.7,390.5 L659.1,389.7 L659.4,392.3" fill="none" stroke="#4caa7c" stroke-width="0.75" stroke-linejoin="round"/>
<path d="M479.2,412.6 L479.5,411.8 L479.9,412.8 L480.2,412.0 L480.6,410.1 L480.9,412.5 L481.2,411.4 L481.6,413.0 L481.9,413.4 L482.3,414.2 L482.6,412.7 L482.9,412.0 L483.3,412.9 L483.6,412.8 L484.0,410.4 L484.3,411.9 L484.6,411.4 L485.0,413.1 L485.3,412.4 L485.7,412.6 L486.0,413.1 L486.3,412.6 L486.7,410.8 L487.0,411.5 L487.4,412.8 L487.7,411.7 L488.0,411.4 L488.4,412.9 L488.7,412.8 L489.1,411.7 L489.4,411.8 L489.7,413.0 L490.1,411.7 L490.4,411.3 L490.8,412.7 L491.1,413.3 L491.4,410.8 L491.8,411.4 L492.1,412.6 L492.5,412.0 L492.8,412.6 L493.1,412.4 L493.5,414.2 L493.8,410.2 L494.2,412.3 L494.5,410.9 L494.8,409.8 L495.2,410.7 L495.5,410.9 L495.9,412.1 L496.2,410.9 L496.5,409.9 L496.9,409.3 L497.2,409.4 L497.6,408.2 L497.9,403.4 L498.2,399.0 L498.5,395.9 L498.6,395.7 L498.9,400.6 L499.3,405.4 L499.6,407.7 L499.9,408.7 L500.3,410.0 L500.6,410.3 L501.0,410.4 L501.3,409.7 L501.6,411.6 L502.0,410.5 L502.3,413.3 L502.7,412.2 L503.0,408.2 L503.3,408.3 L503.7,403.8 L503.7,403.1 L504.0,405.6 L504.4,408.3 L504.7,410.0 L505.0,412.5 L505.4,410.0 L505.7,411.2 L506.1,412.3 L506.4,411.6 L506.7,413.0 L507.1,412.4 L507.4,413.2 L507.8,412.6 L508.1,411.9 L508.4,411.9 L508.8,410.6 L509.1,411.8 L509.5,411.9 L509.8,411.5 L510.1,411.3 L510.5,411.4 L510.8,412.9 L511.2,411.5 L511.5,411.9 L511.8,412.0 L512.2,410.1 L512.5,411.2 L512.9,411.2 L513.2,409.0 L513.5,411.7 L513.9,410.7 L514.2,411.3 L514.6,412.1 L514.9,410.9 L515.2,410.6 L515.6,411.1 L515.9,412.0 L516.3,409.9 L516.6,409.8 L516.9,410.6 L517.3,410.1 L517.6,411.4 L518.0,410.2 L518.3,410.2 L518.6,409.6 L519.0,408.1 L519.3,409.9 L519.7,409.2 L520.0,408.5 L520.3,407.4 L520.7,408.6 L521.0,408.2 L521.4,407.2 L521.7,405.5 L522.0,403.7 L522.4,403.2 L522.7,401.8 L523.1,401.9 L523.4,403.6 L523.6,400.9 L523.7,403.0 L524.1,401.2 L524.4,402.9 L524.8,401.9 L525.1,404.3 L525.4,403.8 L525.8,406.1 L526.1,406.5 L526.5,408.2 L526.8,409.3 L527.1,407.9 L527.5,409.3 L527.8,408.9 L528.2,409.1 L528.5,409.9 L528.8,409.3 L529.2,411.0 L529.5,410.0 L529.9,411.4 L530.2,410.6 L530.5,411.0 L530.9,410.4 L531.2,410.1 L531.6,411.1 L531.9,412.2 L532.2,410.1 L532.6,410.9 L532.9,411.2 L533.3,410.7 L533.6,411.4 L533.9,412.7 L534.3,412.4 L534.6,408.0 L535.0,410.5 L535.3,411.8 L535.6,411.4 L536.0,412.8 L536.3,411.3 L536.7,412.5 L537.0,411.7 L537.3,410.3 L537.7,412.0 L538.0,411.7 L538.4,412.8 L538.7,411.3 L539.0,412.6 L539.4,410.7 L539.7,411.5 L540.1,412.4 L540.4,411.4 L540.7,411.9 L541.1,412.7 L541.4,412.7 L541.8,411.9 L542.1,411.6 L542.4,412.2 L542.8,411.5 L543.1,411.8 L543.5,412.5 L543.8,409.7 L544.1,411.4 L544.5,411.5 L544.8,412.1 L545.2,412.2 L545.5,412.7 L545.8,413.6 L546.2,412.1 L546.5,410.0 L546.9,411.1 L547.2,412.8 L547.5,411.6 L547.9,410.5 L548.2,411.8 L548.6,411.7 L548.9,413.2 L549.2,411.9 L549.6,411.8 L549.9,412.8 L550.3,412.1 L550.6,409.7 L550.9,412.6 L551.3,412.1 L551.6,413.2 L552.0,412.3 L552.3,410.8 L552.6,411.1 L553.0,412.3 L553.3,412.8 L553.7,412.5 L554.0,411.3 L554.3,412.1 L554.7,412.5 L555.0,412.1 L555.4,411.2 L555.7,411.5 L556.0,410.6 L556.4,412.0 L556.7,411.5 L557.1,411.1 L557.4,414.1 L557.7,411.4 L558.1,411.8 L558.4,412.2 L558.8,412.1 L559.1,411.3 L559.4,411.0 L559.8,412.3 L560.1,412.1 L560.5,412.1 L560.8,410.1 L561.1,410.8 L561.5,411.6 L561.8,411.8 L562.2,411.6 L562.5,412.3 L562.8,410.3 L563.2,412.8 L563.5,411.1 L563.9,411.7 L564.2,410.2 L564.5,410.9 L564.9,409.3 L565.2,408.8 L565.6,409.4 L565.9,406.4 L566.2,405.5 L566.6,402.9 L566.9,399.5 L567.3,395.4 L567.4,396.4 L567.6,396.8 L567.9,398.0 L568.3,401.7 L568.6,405.1 L569.0,407.6 L569.3,408.9 L569.6,408.5 L570.0,407.6 L570.3,408.6 L570.7,406.6 L571.0,408.1 L571.3,407.9 L571.7,407.9 L572.0,405.7 L572.4,407.2 L572.7,406.1 L573.0,404.2 L573.2,404.1 L573.4,404.5 L573.7,404.6 L574.1,408.2 L574.4,407.5 L574.7,406.7 L575.1,406.7 L575.4,407.5 L575.8,409.2 L576.1,408.1 L576.4,410.3 L576.8,411.0 L577.1,410.9 L577.5,410.7 L577.8,409.9 L578.1,410.0 L578.5,410.8 L578.8,411.1 L579.2,410.6 L579.5,411.0 L579.8,411.5 L580.2,412.1 L580.5,411.7 L580.9,411.8 L581.2,411.1 L581.5,410.1 L581.9,410.2 L582.2,411.2 L582.6,411.0 L582.9,412.8 L583.2,411.5 L583.6,411.5 L583.9,412.9 L584.3,409.8 L584.6,409.1 L584.9,409.8 L585.3,412.2 L585.6,411.5 L586.0,411.7 L586.3,410.3 L586.6,411.5 L587.0,410.1 L587.3,410.5 L587.7,411.4 L588.0,411.2 L588.3,408.5 L588.7,410.2 L589.0,408.9 L589.4,409.1 L589.7,409.4 L590.0,410.2 L590.4,408.4 L590.7,407.1 L591.1,406.0 L591.4,406.7 L591.7,403.5 L592.1,401.9 L592.4,399.7 L592.8,400.1 L593.1,396.7 L593.2,396.8 L593.4,396.6 L593.8,397.9 L594.1,400.8 L594.5,401.8 L594.8,403.1 L595.1,405.8 L595.5,408.4 L595.8,406.1 L596.2,408.2 L596.5,409.3 L596.8,409.3 L597.2,409.4 L597.5,409.8 L597.9,408.9 L598.2,408.4 L598.5,409.4 L598.9,409.6 L599.2,410.0 L599.6,410.4 L599.9,409.7 L600.2,410.1 L600.6,409.0 L600.9,408.9 L601.3,411.5 L601.6,409.5 L601.9,408.8 L602.3,408.9 L602.6,407.5 L603.0,406.6 L603.3,408.7 L603.6,408.8 L604.0,407.3 L604.3,408.6 L604.7,404.6 L605.0,406.1 L605.3,404.1 L605.7,404.2 L606.0,406.5 L606.4,403.9 L606.7,402.9 L607.0,401.8 L607.4,404.5 L607.7,400.2 L608.0,403.0 L608.1,402.4 L608.4,402.3 L608.7,402.2 L609.1,402.7 L609.4,403.5 L609.8,402.1 L610.1,403.8 L610.4,404.4 L610.8,404.7 L611.1,404.9 L611.5,406.4 L611.8,408.2 L612.1,409.8 L612.5,408.1 L612.8,409.0 L613.2,408.8 L613.5,409.2 L613.8,409.1 L614.2,409.9 L614.5,410.6 L614.9,411.9 L615.2,410.0 L615.5,410.5 L615.9,411.7 L616.2,410.5 L616.6,411.5 L616.9,411.1 L617.2,410.2 L617.6,410.7 L617.9,413.0 L618.3,411.1 L618.6,411.4 L618.9,410.2 L619.3,411.0 L619.6,410.7 L620.0,411.8 L620.3,410.3 L620.6,409.0 L621.0,411.6 L621.3,411.9 L621.7,412.5 L622.0,412.0 L622.3,412.0 L622.7,411.8 L623.0,412.2 L623.4,409.7 L623.7,409.5 L624.0,411.6 L624.4,411.7 L624.7,413.1 L625.1,411.4 L625.4,410.4 L625.7,411.4 L626.1,412.2 L626.4,412.5 L626.8,413.3 L627.1,411.4 L627.4,410.6 L627.8,411.8 L628.1,411.5 L628.5,412.4 L628.8,410.6 L629.1,411.6 L629.5,411.2 L629.8,412.6 L630.2,411.6 L630.5,409.9 L630.8,414.9 L631.2,410.4 L631.5,411.5 L631.9,412.6 L632.2,410.2 L632.5,411.3 L632.9,411.9 L633.2,411.3 L633.6,411.7 L633.9,411.4 L634.2,411.9 L634.6,412.9 L634.9,411.9 L635.3,411.8 L635.6,410.6 L635.9,411.2 L636.3,412.5 L636.6,413.9 L637.0,412.0 L637.3,412.6 L637.6,412.2 L638.0,411.3 L638.3,411.9 L638.7,411.7 L639.0,410.1 L639.3,409.4 L639.7,412.1 L640.0,412.4 L640.4,413.4 L640.7,412.4 L641.0,412.0 L641.4,411.6 L641.7,410.7 L642.1,412.3 L642.4,410.7 L642.7,412.5 L643.1,411.4 L643.4,411.9 L643.8,411.9 L644.1,413.6 L644.4,412.2 L644.8,411.2 L645.1,413.3 L645.5,413.1 L645.8,413.0 L646.1,414.3 L646.5,411.8 L646.8,411.9 L647.2,411.9 L647.5,410.6 L647.8,412.4 L648.2,410.4 L648.5,411.9 L648.9,410.9 L649.2,413.3 L649.5,411.9 L649.9,410.7 L650.2,411.5 L650.6,413.1 L650.9,411.6 L651.2,412.0 L651.6,412.4 L651.9,413.5 L652.3,412.3 L652.6,414.7 L652.9,412.6 L653.3,412.3 L653.6,412.0 L654.0,412.4 L654.3,412.6 L654.6,412.7 L655.0,413.0 L655.3,411.8 L655.7,411.7 L656.0,412.0 L656.3,410.7 L656.7,413.7 L657.0,413.0 L657.4,411.4 L657.7,412.3 L658.0,410.3 L658.4,411.4 L658.7,412.7 L659.1,412.7 L659.4,411.7" fill="none" stroke="#34b0c6" stroke-width="0.75" stroke-linejoin="round"/>
<path d="M479.2,444.4 L479.5,445.3 L479.9,445.9 L480.2,444.2 L480.6,446.0 L480.9,445.4 L481.2,445.0 L481.6,444.5 L481.9,445.2 L482.3,444.4 L482.6,444.3 L482.9,442.2 L483.3,443.3 L483.6,444.5 L484.0,442.9 L484.3,441.3 L484.6,441.3 L485.0,442.5 L485.3,442.7 L485.7,439.7 L486.0,440.7 L486.3,438.1 L486.7,438.9 L487.0,439.7 L487.4,436.9 L487.7,438.7 L487.8,437.4 L488.0,438.1 L488.4,438.4 L488.7,438.3 L489.1,438.4 L489.4,440.0 L489.7,440.2 L490.1,440.1 L490.4,438.7 L490.8,440.1 L491.1,440.0 L491.4,440.7 L491.8,441.6 L492.1,443.4 L492.5,442.5 L492.8,444.1 L493.1,443.5 L493.5,444.2 L493.8,445.7 L494.2,444.2 L494.5,444.0 L494.8,443.6 L495.2,445.0 L495.5,445.5 L495.9,446.7 L496.2,444.7 L496.5,443.6 L496.9,445.7 L497.2,445.5 L497.6,445.2 L497.9,444.7 L498.2,446.1 L498.6,444.7 L498.9,446.4 L499.3,445.2 L499.6,445.7 L499.9,445.8 L500.3,444.3 L500.6,445.0 L501.0,444.0 L501.3,443.7 L501.6,444.4 L502.0,443.2 L502.3,440.7 L502.7,437.6 L503.0,432.0 L503.3,420.8 L503.7,416.3 L503.7,414.0 L504.0,421.9 L504.4,430.8 L504.7,437.0 L505.0,441.1 L505.4,444.2 L505.7,443.6 L506.1,444.3 L506.4,444.0 L506.7,445.0 L507.1,447.7 L507.4,447.0 L507.8,443.7 L508.1,443.9 L508.4,445.1 L508.8,446.3 L509.1,447.0 L509.5,447.5 L509.8,445.8 L510.1,446.5 L510.5,447.1 L510.8,445.4 L511.2,448.8 L511.5,447.9 L511.8,444.7 L512.2,447.7 L512.5,446.3 L512.9,446.8 L513.2,445.7 L513.5,446.3 L513.9,446.9 L514.2,445.6 L514.6,446.0 L514.9,447.4 L515.2,445.1 L515.6,446.9 L515.9,447.0 L516.3,445.8 L516.6,446.8 L516.9,446.8 L517.3,446.1 L517.6,446.3 L518.0,447.3 L518.3,445.8 L518.6,447.0 L519.0,446.5 L519.3,446.8 L519.7,446.2 L520.0,446.6 L520.3,447.5 L520.7,446.2 L521.0,447.4 L521.4,445.0 L521.7,446.2 L522.0,447.4 L522.4,446.3 L522.7,444.9 L523.1,446.6 L523.4,445.0 L523.7,447.0 L524.1,445.2 L524.4,445.3 L524.8,444.4 L525.1,443.2 L525.4,444.8 L525.6,445.2 L525.8,443.9 L526.1,444.9 L526.5,443.8 L526.8,444.6 L527.1,443.8 L527.5,444.7 L527.8,446.0 L528.2,446.5 L528.5,445.4 L528.8,445.0 L529.2,446.1 L529.5,445.6 L529.9,446.6 L530.2,446.9 L530.5,446.4 L530.9,447.4 L531.2,446.7 L531.6,445.9 L531.9,446.9 L532.2,446.4 L532.6,446.7 L532.9,447.9 L533.3,447.1 L533.6,448.1 L533.9,448.1 L534.3,446.9 L534.6,447.4 L535.0,448.3 L535.3,445.3 L535.6,446.8 L536.0,448.5 L536.3,447.9 L536.7,446.5 L537.0,446.7 L537.3,446.8 L537.7,447.4 L538.0,447.8 L538.4,446.8 L538.7,445.9 L539.0,447.8 L539.4,447.0 L539.7,445.8 L540.1,445.9 L540.4,447.8 L540.7,446.1 L541.1,446.7 L541.4,447.0 L541.8,446.2 L542.1,447.0 L542.4,447.1 L542.8,445.3 L543.1,445.1 L543.5,443.9 L543.8,440.2 L544.1,440.4 L544.2,440.9 L544.5,441.8 L544.8,443.7 L545.2,443.7 L545.5,446.7 L545.8,446.6 L546.2,445.7 L546.5,446.1 L546.9,447.5 L547.2,446.2 L547.5,446.8 L547.9,445.3 L548.2,447.0 L548.6,447.9 L548.9,448.4 L549.2,447.1 L549.6,447.9 L549.9,446.1 L550.3,447.9 L550.6,446.5 L550.9,447.8 L551.3,446.5 L551.6,446.5 L552.0,448.5 L552.3,445.0 L552.6,448.6 L553.0,446.7 L553.3,447.9 L553.7,448.2 L554.0,447.0 L554.3,448.5 L554.7,449.1 L555.0,448.7 L555.4,447.3 L555.7,448.0 L556.0,448.0 L556.4,446.6 L556.7,447.7 L557.1,447.3 L557.4,447.1 L557.7,447.0 L558.1,447.0 L558.4,446.6 L558.8,448.0 L559.1,447.4 L559.4,446.9 L559.8,446.8 L560.1,446.0 L560.5,446.2 L560.8,444.1 L561.1,447.1 L561.5,446.9 L561.8,443.8 L562.2,443.6 L562.5,444.5 L562.8,442.2 L563.2,443.3 L563.5,441.5 L563.9,439.0 L564.2,437.3 L564.5,432.3 L564.9,426.4 L565.2,422.6 L565.5,422.1 L565.6,422.6 L565.9,423.4 L566.2,430.6 L566.6,432.8 L566.9,438.5 L567.3,438.4 L567.6,442.2 L567.9,444.1 L568.3,445.0 L568.6,444.7 L569.0,446.2 L569.3,447.0 L569.6,446.5 L570.0,444.9 L570.3,446.7 L570.7,446.3 L571.0,446.9 L571.3,446.8 L571.7,446.8 L572.0,447.4 L572.4,448.1 L572.7,447.4 L573.0,446.2 L573.4,446.0 L573.7,445.8 L574.1,447.7 L574.4,446.9 L574.7,447.1 L575.1,447.8 L575.4,448.1 L575.8,446.5 L576.1,447.1 L576.4,447.3 L576.8,446.8 L577.1,447.9 L577.5,448.3 L577.8,447.4 L578.1,448.1 L578.5,447.2 L578.8,447.1 L579.2,446.6 L579.5,447.2 L579.8,448.0 L580.2,448.3 L580.5,446.5 L580.9,446.7 L581.2,447.4 L581.5,445.3 L581.9,445.0 L582.2,444.9 L582.6,444.3 L582.9,443.4 L583.2,443.8 L583.5,442.5 L583.6,441.4 L583.9,444.3 L584.3,444.4 L584.6,446.8 L584.9,445.4 L585.3,447.0 L585.6,446.7 L586.0,446.0 L586.3,446.2 L586.6,446.6 L587.0,446.2 L587.3,446.6 L587.7,447.9 L588.0,449.2 L588.3,449.1 L588.7,447.5 L589.0,448.4 L589.4,447.7 L589.7,447.4 L590.0,446.9 L590.4,446.7 L590.7,448.4 L591.1,449.6 L591.4,448.8 L591.7,447.4 L592.1,446.8 L592.4,449.3 L592.8,447.1 L593.1,446.1 L593.4,446.3 L593.8,449.3 L594.1,446.8 L594.5,449.1 L594.8,448.0 L595.1,448.8 L595.5,449.4 L595.8,450.0 L596.2,448.2 L596.5,446.0 L596.8,448.0 L597.2,448.1 L597.5,447.1 L597.9,447.8 L598.2,447.5 L598.5,449.5 L598.9,449.5 L599.2,448.1 L599.6,448.1 L599.9,448.6 L600.2,449.4 L600.6,447.5 L600.9,448.3 L601.3,450.0 L601.6,448.3 L601.9,449.3 L602.3,446.0 L602.6,447.8 L603.0,448.9 L603.3,447.2 L603.6,447.5 L604.0,448.1 L604.3,447.9 L604.7,447.2 L605.0,448.1 L605.3,447.8 L605.7,447.0 L606.0,450.3 L606.4,447.5 L606.7,446.7 L607.0,448.0 L607.4,447.4 L607.7,448.4 L608.1,448.4 L608.4,449.1 L608.7,447.2 L609.1,448.4 L609.4,447.4 L609.8,448.1 L610.1,448.2 L610.4,448.7 L610.8,447.5 L611.1,448.1 L611.5,448.3 L611.8,447.1 L612.1,449.6 L612.5,448.7 L612.8,447.4 L613.2,448.1 L613.5,448.9 L613.8,447.6 L614.2,447.9 L614.5,448.7 L614.9,445.9 L615.2,444.1 L615.5,446.0 L615.7,445.4 L615.9,446.2 L616.2,446.0 L616.6,446.4 L616.9,446.2 L617.2,447.5 L617.6,447.5 L617.9,447.9 L618.3,448.3 L618.6,449.9 L618.9,447.7 L619.3,448.3 L619.6,446.2 L620.0,446.5 L620.3,445.6 L620.6,448.2 L620.9,447.1 L621.0,448.3 L621.3,447.8 L621.7,447.7 L622.0,448.9 L622.3,446.8 L622.7,448.1 L623.0,448.9 L623.4,448.0 L623.7,448.4 L624.0,448.3 L624.4,447.7 L624.7,448.8 L625.1,449.4 L625.4,447.6 L625.7,448.2 L626.1,449.2 L626.4,447.7 L626.8,450.6 L627.1,447.5 L627.4,448.4 L627.8,448.2 L628.1,449.3 L628.5,448.7 L628.8,447.4 L629.1,448.2 L629.5,450.3 L629.8,448.7 L630.2,449.6 L630.5,449.1 L630.8,447.9 L631.2,449.4 L631.5,450.2 L631.9,449.2 L632.2,449.2 L632.5,447.9 L632.9,449.8 L633.2,447.3 L633.6,450.3 L633.9,447.5 L634.2,448.5 L634.6,449.2 L634.9,448.9 L635.3,448.3 L635.6,450.1 L635.9,451.2 L636.3,450.0 L636.6,448.7 L637.0,447.5 L637.3,449.3 L637.6,450.0 L638.0,448.9 L638.3,450.5 L638.7,449.7 L639.0,450.0 L639.3,449.1 L639.7,448.9 L640.0,449.8 L640.4,447.6 L640.7,448.5 L641.0,450.0 L641.4,449.8 L641.7,449.8 L642.1,447.5 L642.4,449.7 L642.7,448.7 L643.1,448.4 L643.4,450.2 L643.8,447.7 L644.1,449.0 L644.4,449.7 L644.8,449.3 L645.1,448.2 L645.5,449.4 L645.8,449.1 L646.1,448.4 L646.5,449.5 L646.8,448.5 L647.2,448.7 L647.5,449.2 L647.8,446.9 L648.2,450.2 L648.5,449.9 L648.9,450.1 L649.2,447.0 L649.5,448.2 L649.9,451.4 L650.2,449.7 L650.6,449.3 L650.9,448.5 L651.2,448.6 L651.6,449.3 L651.9,449.3 L652.3,450.6 L652.6,448.9 L652.9,449.5 L653.3,449.6 L653.6,448.6 L654.0,447.5 L654.3,449.5 L654.6,448.3 L655.0,447.9 L655.3,450.1 L655.7,449.2 L656.0,447.8 L656.3,450.8 L656.7,448.8 L657.0,449.9 L657.4,449.3 L657.7,449.1 L658.0,450.6 L658.4,448.0 L658.7,450.4 L659.1,449.6 L659.4,449.7" fill="none" stroke="#ec7c3e" stroke-width="0.75" stroke-linejoin="round"/>
<path d="M479.2,460.8 L479.5,462.4 L479.9,460.4 L480.2,463.4 L480.6,465.0 L480.9,462.5 L481.2,461.7 L481.6,460.5 L481.9,462.4 L482.3,461.5 L482.6,462.7 L482.9,460.9 L483.3,463.3 L483.6,463.7 L484.0,460.7 L484.3,462.7 L484.6,463.4 L485.0,462.9 L485.3,462.5 L485.7,462.1 L486.0,462.4 L486.3,462.3 L486.7,461.6 L487.0,461.8 L487.4,462.7 L487.7,463.8 L488.0,462.2 L488.4,461.2 L488.7,462.5 L489.1,463.7 L489.4,461.3 L489.7,461.8 L490.1,461.8 L490.4,463.0 L490.8,461.5 L491.1,462.2 L491.4,463.2 L491.8,462.1 L492.1,462.2 L492.5,462.4 L492.8,461.8 L493.1,463.5 L493.5,462.2 L493.8,461.9 L494.2,462.4 L494.5,461.3 L494.8,463.3 L495.2,460.5 L495.5,461.7 L495.9,463.4 L496.2,461.4 L496.5,461.8 L496.9,463.4 L497.2,461.7 L497.6,462.6 L497.9,461.9 L498.2,461.9 L498.6,464.2 L498.9,461.7 L499.3,462.9 L499.6,461.7 L499.9,463.8 L500.3,461.8 L500.6,462.5 L501.0,463.6 L501.3,463.3 L501.6,462.5 L502.0,462.1 L502.3,461.3 L502.7,463.0 L503.0,463.1 L503.3,459.6 L503.7,460.4 L504.0,462.0 L504.4,461.2 L504.7,462.7 L505.0,463.1 L505.4,461.8 L505.7,459.9 L506.1,460.9 L506.4,461.9 L506.7,459.2 L507.1,461.7 L507.4,459.4 L507.8,459.3 L508.1,457.9 L508.4,455.5 L508.8,454.7 L508.8,454.3 L509.1,456.1 L509.5,457.6 L509.8,459.1 L510.1,458.4 L510.5,458.0 L510.8,459.8 L511.2,459.7 L511.5,462.3 L511.8,463.6 L512.2,461.5 L512.5,459.9 L512.9,460.2 L513.2,461.7 L513.5,462.2 L513.9,462.0 L514.2,464.4 L514.6,462.1 L514.9,460.7 L515.2,462.7 L515.6,461.6 L515.9,460.5 L516.3,464.3 L516.6,461.2 L516.9,461.3 L517.3,461.5 L517.6,461.7 L518.0,460.3 L518.3,463.0 L518.6,461.6 L519.0,459.3 L519.3,459.7 L519.7,460.5 L520.0,460.6 L520.3,461.6 L520.7,461.4 L521.0,460.8 L521.4,459.1 L521.7,460.1 L522.0,461.7 L522.4,460.6 L522.7,460.5 L523.1,460.3 L523.4,460.6 L523.7,460.0 L524.1,459.2 L524.4,459.5 L524.8,459.9 L525.1,459.2 L525.4,457.7 L525.8,457.0 L526.1,458.5 L526.5,454.3 L526.8,456.0 L527.1,454.1 L527.5,454.1 L527.8,454.5 L528.2,452.1 L528.5,450.8 L528.8,453.0 L528.8,452.2 L529.2,453.2 L529.5,453.3 L529.9,454.4 L530.2,454.9 L530.5,453.5 L530.9,456.0 L531.2,456.8 L531.6,457.3 L531.9,457.9 L532.2,457.5 L532.6,458.2 L532.9,458.7 L533.3,458.9 L533.6,458.8 L533.9,458.6 L534.3,459.5 L534.6,462.8 L535.0,459.9 L535.3,463.7 L535.6,462.8 L536.0,460.6 L536.3,459.4 L536.7,461.9 L537.0,461.9 L537.3,460.8 L537.7,461.3 L538.0,460.4 L538.4,461.3 L538.7,463.4 L539.0,461.1 L539.4,459.9 L539.7,462.4 L540.1,462.0 L540.4,462.7 L540.7,461.9 L541.1,460.7 L541.4,461.3 L541.8,460.6 L542.1,461.9 L542.4,462.6 L542.8,461.9 L543.1,461.6 L543.5,460.6 L543.8,462.4 L544.1,461.8 L544.5,461.8 L544.8,462.0 L545.2,461.2 L545.5,462.2 L545.8,460.3 L546.2,462.3 L546.5,463.0 L546.9,461.5 L547.2,463.0 L547.5,463.4 L547.9,463.2 L548.2,461.0 L548.6,461.8 L548.9,462.8 L549.2,461.7 L549.6,463.0 L549.9,462.8 L550.3,460.7 L550.6,459.9 L550.9,461.1 L551.3,461.6 L551.6,461.7 L552.0,460.7 L552.3,460.0 L552.6,460.0 L553.0,458.7 L553.3,457.8 L553.3,459.8 L553.7,459.0 L554.0,460.4 L554.3,459.2 L554.7,460.4 L555.0,460.5 L555.4,461.9 L555.7,459.8 L556.0,459.9 L556.4,458.7 L556.7,462.2 L557.1,462.5 L557.4,462.6 L557.7,460.2 L558.1,460.5 L558.4,461.8 L558.8,461.6 L559.1,461.9 L559.4,461.3 L559.8,459.1 L560.1,460.0 L560.5,459.4 L560.8,461.0 L561.1,461.0 L561.5,460.6 L561.8,459.3 L562.2,461.3 L562.5,460.9 L562.8,460.5 L563.2,460.5 L563.5,458.4 L563.9,458.5 L564.2,456.6 L564.5,458.9 L564.9,455.8 L565.2,457.1 L565.5,455.5 L565.6,455.5 L565.9,455.7 L566.2,457.2 L566.6,459.4 L566.9,457.3 L567.3,458.6 L567.6,460.5 L567.9,460.1 L568.3,459.5 L568.6,460.2 L569.0,459.3 L569.3,460.3 L569.6,459.9 L570.0,461.0 L570.3,459.9 L570.7,461.3 L571.0,460.8 L571.3,461.7 L571.7,462.6 L572.0,461.8 L572.4,461.2 L572.7,461.7 L573.0,462.5 L573.4,461.8 L573.7,462.2 L574.1,462.2 L574.4,460.4 L574.7,462.0 L575.1,463.1 L575.4,462.3 L575.8,461.4 L576.1,461.3 L576.4,459.2 L576.8,462.1 L577.1,463.4 L577.5,461.7 L577.8,461.0 L578.1,462.3 L578.5,460.6 L578.8,459.4 L579.2,460.6 L579.5,462.3 L579.8,461.9 L580.2,462.4 L580.5,462.4 L580.9,462.5 L581.2,462.0 L581.5,461.3 L581.9,462.5 L582.2,462.7 L582.6,462.4 L582.9,459.6 L583.2,459.5 L583.6,461.7 L583.9,461.5 L584.3,465.3 L584.6,463.5 L584.9,461.6 L585.3,463.7 L585.6,461.3 L586.0,462.1 L586.3,461.7 L586.6,461.7 L587.0,462.1 L587.3,462.1 L587.7,460.8 L588.0,462.0 L588.3,463.2 L588.7,462.0 L589.0,460.2 L589.4,462.1 L589.7,460.9 L590.0,462.2 L590.4,461.1 L590.7,461.5 L591.1,461.5 L591.4,461.0 L591.7,461.2 L592.1,461.3 L592.4,461.8 L592.8,461.7 L593.1,460.9 L593.4,461.0 L593.8,459.6 L594.1,462.7 L594.5,459.7 L594.8,460.6 L595.1,458.0 L595.1,460.4 L595.5,459.8 L595.8,460.3 L596.2,460.5 L596.5,460.9 L596.8,460.5 L597.2,459.2 L597.5,460.7 L597.9,461.7 L598.2,461.9 L598.5,461.6 L598.9,462.2 L599.2,459.8 L599.6,461.9 L599.9,461.6 L600.2,460.4 L600.6,460.2 L600.9,461.4 L601.3,461.2 L601.6,460.5 L601.9,460.9 L602.3,462.1 L602.6,460.8 L603.0,462.8 L603.3,461.5 L603.6,461.4 L604.0,464.1 L604.3,461.0 L604.7,460.6 L605.0,460.2 L605.3,459.2 L605.7,461.5 L606.0,458.4 L606.4,460.1 L606.7,457.7 L607.0,458.6 L607.4,456.4 L607.7,456.5 L608.1,455.4 L608.4,454.9 L608.6,455.5 L608.7,455.2 L609.1,455.0 L609.4,457.2 L609.8,457.0 L610.1,458.5 L610.4,457.7 L610.8,460.4 L611.1,458.7 L611.5,457.4 L611.8,461.7 L612.1,459.4 L612.5,460.2 L612.8,460.8 L613.2,461.0 L613.5,461.6 L613.8,461.8 L614.2,461.4 L614.5,461.9 L614.9,461.2 L615.2,461.1 L615.5,461.8 L615.9,461.0 L616.2,463.0 L616.6,460.9 L616.9,461.6 L617.2,461.5 L617.6,463.8 L617.9,459.7 L618.3,462.0 L618.6,461.7 L618.9,461.1 L619.3,462.3 L619.6,461.9 L620.0,462.9 L620.3,461.0 L620.6,462.3 L621.0,462.5 L621.3,461.8 L621.7,461.9 L622.0,461.1 L622.3,462.1 L622.7,460.9 L623.0,462.5 L623.4,461.5 L623.7,461.8 L624.0,463.6 L624.4,463.4 L624.7,463.4 L625.1,462.6 L625.4,460.7 L625.7,461.7 L626.1,460.7 L626.4,462.6 L626.8,461.3 L627.1,462.5 L627.4,462.8 L627.8,464.0 L628.1,461.3 L628.5,462.0 L628.8,462.9 L629.1,461.1 L629.5,461.1 L629.8,463.4 L630.2,462.6 L630.5,463.1 L630.8,462.9 L631.2,462.3 L631.5,460.6 L631.9,463.0 L632.2,462.3 L632.5,462.3 L632.9,463.9 L633.2,461.7 L633.6,463.1 L633.9,461.8 L634.2,462.8 L634.6,462.9 L634.9,462.5 L635.3,459.7 L635.6,463.8 L635.9,462.0 L636.3,461.8 L636.6,461.5 L637.0,463.0 L637.3,461.6 L637.6,460.6 L638.0,460.7 L638.3,463.0 L638.7,461.8 L639.0,462.1 L639.3,461.0 L639.7,462.9 L640.0,462.6 L640.4,461.8 L640.7,461.3 L641.0,464.1 L641.4,461.6 L641.7,460.8 L642.1,461.5 L642.4,463.3 L642.7,462.4 L643.1,462.1 L643.4,461.6 L643.8,461.5 L644.1,462.7 L644.4,462.0 L644.8,462.3 L645.1,462.3 L645.5,460.9 L645.8,464.1 L646.1,461.6 L646.5,463.0 L646.8,463.9 L647.2,461.5 L647.5,461.9 L647.8,461.5 L648.2,461.5 L648.5,460.7 L648.9,461.9 L649.2,461.6 L649.5,462.6 L649.9,461.3 L650.2,461.4 L650.6,463.6 L650.9,463.4 L651.2,462.6 L651.6,462.5 L651.9,460.8 L652.3,462.5 L652.6,463.6 L652.9,462.8 L653.3,462.6 L653.6,461.0 L654.0,461.7 L654.3,462.3 L654.6,462.9 L655.0,462.2 L655.3,461.0 L655.7,461.9 L656.0,461.4 L656.3,461.8 L656.7,463.3 L657.0,462.4 L657.4,462.0 L657.7,461.8 L658.0,463.0 L658.4,460.7 L658.7,461.1 L659.1,461.0 L659.4,461.7" fill="none" stroke="#c4c034" stroke-width="0.75" stroke-linejoin="round"/>
<line x1="619.1" y1="349.2" x2="637.1" y2="349.2" stroke="#4caa7c" stroke-width="1.0" stroke-opacity="0.85"/>
<text x="639.6" y="352.1" font-size="8.25" text-anchor="start" fill="#1e1a1a" font-weight="normal" stroke="#1e1a1a" stroke-width="0.18" letter-spacing="0.1">BPA</text>
<line x1="619.1" y1="359.2" x2="637.1" y2="359.2" stroke="#34b0c6" stroke-width="1.0" stroke-opacity="0.85"/>
<text x="639.6" y="362.1" font-size="8.25" text-anchor="start" fill="#1e1a1a" font-weight="normal" stroke="#1e1a1a" stroke-width="0.18" letter-spacing="0.1">DA</text>
<line x1="619.1" y1="369.3" x2="637.1" y2="369.3" stroke="#ec7c3e" stroke-width="1.0" stroke-opacity="0.85"/>
<text x="639.6" y="372.2" font-size="8.25" text-anchor="start" fill="#1e1a1a" font-weight="normal" stroke="#1e1a1a" stroke-width="0.18" letter-spacing="0.1">Cyt</text>
<line x1="619.1" y1="379.1" x2="637.1" y2="379.1" stroke="#c4c034" stroke-width="1.0" stroke-opacity="0.85"/>
<text x="639.6" y="382" font-size="8.25" text-anchor="start" fill="#1e1a1a" font-weight="normal" stroke="#1e1a1a" stroke-width="0.18" letter-spacing="0.1">Tyr</text>
<text x="449.5" y="358.8" font-size="24.5" text-anchor="start" fill="#231815" font-weight="bold" >i</text>
<line x1="497.66" y1="119.25" x2="495.27" y2="8.03" stroke="#c6c6c6" stroke-width="0.8" />
<line x1="511.99" y1="115.77" x2="510.24" y2="7.21" stroke="#c6c6c6" stroke-width="0.8" />
<line x1="525.64" y1="112.46" x2="524.48" y2="6.43" stroke="#c6c6c6" stroke-width="0.8" />
<line x1="538.67" y1="109.3" x2="538.04" y2="5.69" stroke="#c6c6c6" stroke-width="0.8" />
<line x1="551.11" y1="106.28" x2="550.97" y2="4.98" stroke="#c6c6c6" stroke-width="0.8" />
<line x1="481.85" y1="95.29" x2="563.07" y2="79.29" stroke="#c6c6c6" stroke-width="0.8" />
<line x1="481.08" y1="67.1" x2="563.15" y2="54.75" stroke="#c6c6c6" stroke-width="0.8" />
<line x1="480.3" y1="38.31" x2="563.22" y2="29.76" stroke="#c6c6c6" stroke-width="0.8" />
<line x1="573.13" y1="105.94" x2="573.73" y2="4.88" stroke="#c6c6c6" stroke-width="0.8" />
<line x1="583.68" y1="108.58" x2="584.6" y2="5.48" stroke="#c6c6c6" stroke-width="0.8" />
<line x1="594.67" y1="111.34" x2="595.94" y2="6.1" stroke="#c6c6c6" stroke-width="0.8" />
<line x1="606.12" y1="114.21" x2="607.77" y2="6.76" stroke="#c6c6c6" stroke-width="0.8" />
<line x1="618.07" y1="117.2" x2="620.13" y2="7.44" stroke="#c6c6c6" stroke-width="0.8" />
<line x1="630.55" y1="120.33" x2="633.06" y2="8.15" stroke="#c6c6c6" stroke-width="0.8" />
<line x1="563.07" y1="79.14" x2="644.33" y2="95.62" stroke="#c6c6c6" stroke-width="0.8" />
<line x1="563.15" y1="54.54" x2="645.08" y2="67.18" stroke="#c6c6c6" stroke-width="0.8" />
<line x1="563.22" y1="29.6" x2="645.83" y2="38.28" stroke="#c6c6c6" stroke-width="0.8" />
<line x1="497.41" y1="119.31" x2="577.74" y2="144.41" stroke="#b0b0b0" stroke-width="0.7" />
<line x1="511.62" y1="115.86" x2="592.17" y2="139.85" stroke="#b0b0b0" stroke-width="0.7" />
<line x1="525.24" y1="112.56" x2="605.92" y2="135.51" stroke="#b0b0b0" stroke-width="0.7" />
<line x1="538.33" y1="109.38" x2="619.05" y2="131.36" stroke="#b0b0b0" stroke-width="0.7" />
<line x1="550.9" y1="106.33" x2="631.6" y2="127.39" stroke="#b0b0b0" stroke-width="0.7" />
<line x1="492.67" y1="126.21" x2="573.3" y2="105.98" stroke="#b0b0b0" stroke-width="0.7" />
<line x1="503.14" y1="129.65" x2="583.97" y2="108.66" stroke="#b0b0b0" stroke-width="0.7" />
<line x1="514.05" y1="133.24" x2="595.03" y2="111.43" stroke="#b0b0b0" stroke-width="0.7" />
<line x1="525.42" y1="136.98" x2="606.5" y2="114.3" stroke="#b0b0b0" stroke-width="0.7" />
<line x1="537.28" y1="140.88" x2="618.4" y2="117.28" stroke="#b0b0b0" stroke-width="0.7" />
<line x1="549.66" y1="144.95" x2="630.76" y2="120.38" stroke="#b0b0b0" stroke-width="0.7" />
<line x1="479.5" y1="8.9" x2="563.3" y2="4.3" stroke="#666" stroke-width="0.8" />
<line x1="563.3" y1="4.3" x2="646.6" y2="8.9" stroke="#666" stroke-width="0.8" />
<line x1="563" y1="103.4" x2="563.3" y2="4.3" stroke="#b0b0b0" stroke-width="1.6" />
<line x1="643.6" y1="123.6" x2="646.6" y2="8.9" stroke="#666" stroke-width="0.8" />
<line x1="482.6" y1="122.9" x2="563" y2="103.4" stroke="#666" stroke-width="0.8" />
<line x1="563" y1="103.4" x2="643.6" y2="123.6" stroke="#666" stroke-width="0.8" />
<line x1="482.6" y1="122.9" x2="562.6" y2="149.2" stroke="#222" stroke-width="1.2" />
<line x1="562.6" y1="149.2" x2="643.6" y2="123.6" stroke="#222" stroke-width="1.2" />
<line x1="479.5" y1="8.9" x2="482.6" y2="122.9" stroke="#333" stroke-width="1.0" />
<line x1="480.1" y1="122.9" x2="482.6" y2="122.9" stroke="#333" stroke-width="0.9" />
<line x1="480.73" y1="109.17" x2="482.23" y2="109.17" stroke="#333" stroke-width="0.9" />
<line x1="479.35" y1="95.29" x2="481.85" y2="95.29" stroke="#333" stroke-width="0.9" />
<line x1="479.97" y1="81.27" x2="481.47" y2="81.27" stroke="#333" stroke-width="0.9" />
<line x1="478.58" y1="67.1" x2="481.08" y2="67.1" stroke="#333" stroke-width="0.9" />
<line x1="479.19" y1="52.78" x2="480.69" y2="52.78" stroke="#333" stroke-width="0.9" />
<line x1="477.8" y1="38.31" x2="480.3" y2="38.31" stroke="#333" stroke-width="0.9" />
<line x1="478.4" y1="23.68" x2="479.9" y2="23.68" stroke="#333" stroke-width="0.9" />
<line x1="477" y1="8.9" x2="479.5" y2="8.9" stroke="#333" stroke-width="0.9" />
<text x="479.6" y="124.3" font-size="8.25" text-anchor="end" fill="#3d3333" font-weight="normal" stroke="#3d3333" stroke-width="0.18" >0.0</text>
<text x="478.85" y="98.69" font-size="8.25" text-anchor="end" fill="#3d3333" font-weight="normal" stroke="#3d3333" stroke-width="0.18" >1.0</text>
<text x="478.08" y="70.7" font-size="8.25" text-anchor="end" fill="#3d3333" font-weight="normal" stroke="#3d3333" stroke-width="0.18" >2.0</text>
<text x="477.3" y="42.11" font-size="8.25" text-anchor="end" fill="#3d3333" font-weight="normal" stroke="#3d3333" stroke-width="0.18" >3.0</text>
<text x="476.5" y="13.9" font-size="8.25" text-anchor="end" fill="#3d3333" font-weight="normal" stroke="#3d3333" stroke-width="0.18" >4.0</text>
<text transform="translate(462.3,69.8) rotate(-90)" font-size="8.25" text-anchor="middle" fill="#3d3333" stroke="#3d3333" stroke-width="0.18">EF (10<tspan font-size="5" dy="-3">4</tspan><tspan dy="3"> arb. u.)</tspan></text>
<text x="485.2" y="130.8" font-size="8.25" text-anchor="end" fill="#3d3333" font-weight="normal" stroke="#3d3333" stroke-width="0.18" >W-TNT-300</text>
<text x="506" y="138.4" font-size="8.25" text-anchor="end" fill="#3d3333" font-weight="normal" stroke="#3d3333" stroke-width="0.18" >W-TNT-400</text>
<text x="527.2" y="145.4" font-size="8.25" text-anchor="end" fill="#3d3333" font-weight="normal" stroke="#3d3333" stroke-width="0.18" >W-TNT-600</text>
<text x="544.8" y="152.7" font-size="8.25" text-anchor="end" fill="#3d3333" font-weight="normal" stroke="#3d3333" stroke-width="0.18" >W-TNT-800</text>
<text x="557.2" y="160.3" font-size="8.25" text-anchor="end" fill="#3d3333" font-weight="normal" stroke="#3d3333" stroke-width="0.18" >W-TNT-1000</text>
<text x="642.6" y="131.4" font-size="8.25" text-anchor="start" fill="#3d3333" font-weight="normal" stroke="#3d3333" stroke-width="0.18" >W-TNT-600</text>
<text x="625.4" y="138.9" font-size="8.25" text-anchor="start" fill="#3d3333" font-weight="normal" stroke="#3d3333" stroke-width="0.18" >74%W-TNT-600</text>
<text x="604.2" y="145.9" font-size="8.25" text-anchor="start" fill="#3d3333" font-weight="normal" stroke="#3d3333" stroke-width="0.18" >54%W-TNT-600</text>
<text x="586.2" y="153" font-size="8.25" text-anchor="start" fill="#3d3333" font-weight="normal" stroke="#3d3333" stroke-width="0.18" >39%W-TNT-600</text>
<text x="571.6" y="160.6" font-size="8.25" text-anchor="start" fill="#3d3333" font-weight="normal" stroke="#3d3333" stroke-width="0.18" >19%W-TNT-600</text>
<line x1="540.3" y1="101.7" x2="497.2" y2="90.8" stroke="#222" stroke-width="0.9" stroke-dasharray="2.2,1.8"/>
<line x1="554.8" y1="70.6" x2="511.3" y2="62.4" stroke="#222" stroke-width="0.9" stroke-dasharray="2.2,1.8"/>
<line x1="569.1" y1="18" x2="524.3" y2="14.5" stroke="#222" stroke-width="0.9" stroke-dasharray="2.2,1.8"/>
<line x1="582.1" y1="44.9" x2="538.2" y2="39.3" stroke="#222" stroke-width="0.9" stroke-dasharray="2.2,1.8"/>
<line x1="594.7" y1="65.5" x2="551.2" y2="58.6" stroke="#222" stroke-width="0.9" stroke-dasharray="2.2,1.8"/>
<line x1="571.8" y1="86.9" x2="583.5" y2="85" stroke="#e85050" stroke-width="0.9" stroke-dasharray="2.2,1.8"/>
<line x1="583.2" y1="71.9" x2="595.1" y2="69.4" stroke="#e85050" stroke-width="0.9" stroke-dasharray="2.2,1.8"/>
<line x1="594.7" y1="65.6" x2="606.4" y2="63.6" stroke="#e85050" stroke-width="0.9" stroke-dasharray="2.2,1.8"/>
<line x1="606.4" y1="94.1" x2="618.1" y2="91.6" stroke="#e85050" stroke-width="0.9" stroke-dasharray="2.2,1.8"/>
<line x1="618.8" y1="104" x2="630.6" y2="100.8" stroke="#e85050" stroke-width="0.9" stroke-dasharray="2.2,1.8"/>
<polyline points="540.3,101.7 554.8,70.6 569.1,18.0 582.1,44.9 594.7,65.5" fill="none" stroke="#1a1a1a" stroke-width="1.0"/>
<polyline points="571.8,86.9 583.2,71.9 594.7,65.6 606.4,94.1 618.8,104.0" fill="none" stroke="#e03a3a" stroke-width="0.9"/>
<circle cx="497.2" cy="90.8" r="1.5" fill="#1a1a1a"/>
<circle cx="511.3" cy="62.4" r="1.5" fill="#1a1a1a"/>
<circle cx="524.3" cy="14.5" r="1.5" fill="#1a1a1a"/>
<circle cx="538.2" cy="39.3" r="1.5" fill="#1a1a1a"/>
<circle cx="551.2" cy="58.6" r="1.5" fill="#1a1a1a"/>
<rect x="538.3" y="99.7" width="4" height="4" fill="#111"/>
<rect x="552.8" y="68.6" width="4" height="4" fill="#111"/>
<rect x="567.1" y="16.0" width="4" height="4" fill="#111"/>
<rect x="580.1" y="42.9" width="4" height="4" fill="#111"/>
<rect x="592.7" y="63.5" width="4" height="4" fill="#111"/>
<circle cx="583.5" cy="85.0" r="1.5" fill="#e05a5a"/>
<circle cx="595.1" cy="69.4" r="1.5" fill="#e05a5a"/>
<circle cx="606.4" cy="63.6" r="1.5" fill="#e05a5a"/>
<circle cx="618.1" cy="91.6" r="1.5" fill="#e05a5a"/>
<circle cx="630.6" cy="100.8" r="1.5" fill="#e05a5a"/>
<circle cx="571.8" cy="86.9" r="2.2" fill="#d42828"/>
<circle cx="583.2" cy="71.9" r="2.2" fill="#d42828"/>
<circle cx="594.7" cy="65.6" r="2.2" fill="#d42828"/>
<circle cx="606.4" cy="94.1" r="2.2" fill="#d42828"/>
<circle cx="618.8" cy="104.0" r="2.2" fill="#d42828"/>
<text x="448.8" y="24.4" font-size="24.5" text-anchor="start" fill="#231815" font-weight="bold" >c</text>
<line x1="497.57" y1="291.66" x2="495.36" y2="182.25" stroke="#c6c6c6" stroke-width="0.8" />
<line x1="511.9" y1="288.2" x2="510.31" y2="181.45" stroke="#c6c6c6" stroke-width="0.8" />
<line x1="525.54" y1="284.9" x2="524.52" y2="180.68" stroke="#c6c6c6" stroke-width="0.8" />
<line x1="538.54" y1="281.76" x2="538.04" y2="179.95" stroke="#c6c6c6" stroke-width="0.8" />
<line x1="550.95" y1="278.76" x2="550.92" y2="179.26" stroke="#c6c6c6" stroke-width="0.8" />
<line x1="481.56" y1="258.92" x2="562.93" y2="244.23" stroke="#c6c6c6" stroke-width="0.8" />
<line x1="480.59" y1="221.53" x2="563.06" y2="211.8" stroke="#c6c6c6" stroke-width="0.8" />
<line x1="572.9" y1="278.38" x2="573.6" y2="179.14" stroke="#c6c6c6" stroke-width="0.8" />
<line x1="583.42" y1="280.95" x2="584.44" y2="179.7" stroke="#c6c6c6" stroke-width="0.8" />
<line x1="594.38" y1="283.64" x2="595.75" y2="180.28" stroke="#c6c6c6" stroke-width="0.8" />
<line x1="605.8" y1="286.44" x2="607.55" y2="180.89" stroke="#c6c6c6" stroke-width="0.8" />
<line x1="617.72" y1="289.36" x2="619.89" y2="181.53" stroke="#c6c6c6" stroke-width="0.8" />
<line x1="630.18" y1="292.41" x2="632.79" y2="182.2" stroke="#c6c6c6" stroke-width="0.8" />
<line x1="562.93" y1="244.06" x2="644.21" y2="258.84" stroke="#c6c6c6" stroke-width="0.8" />
<line x1="563.06" y1="211.64" x2="645.24" y2="221.28" stroke="#c6c6c6" stroke-width="0.8" />
<line x1="497.39" y1="291.7" x2="577.47" y2="316.62" stroke="#b0b0b0" stroke-width="0.7" />
<line x1="511.62" y1="288.26" x2="591.96" y2="311.98" stroke="#b0b0b0" stroke-width="0.7" />
<line x1="525.25" y1="284.97" x2="605.73" y2="307.58" stroke="#b0b0b0" stroke-width="0.7" />
<line x1="538.29" y1="281.82" x2="618.83" y2="303.39" stroke="#b0b0b0" stroke-width="0.7" />
<line x1="550.8" y1="278.8" x2="631.3" y2="299.4" stroke="#b0b0b0" stroke-width="0.7" />
<line x1="492.43" y1="298.57" x2="573" y2="278.4" stroke="#b0b0b0" stroke-width="0.7" />
<line x1="502.8" y1="301.97" x2="583.59" y2="280.99" stroke="#b0b0b0" stroke-width="0.7" />
<line x1="513.62" y1="305.53" x2="594.59" y2="283.69" stroke="#b0b0b0" stroke-width="0.7" />
<line x1="524.94" y1="309.25" x2="606.02" y2="286.49" stroke="#b0b0b0" stroke-width="0.7" />
<line x1="536.78" y1="313.14" x2="617.91" y2="289.4" stroke="#b0b0b0" stroke-width="0.7" />
<line x1="549.19" y1="317.22" x2="630.3" y2="292.44" stroke="#b0b0b0" stroke-width="0.7" />
<line x1="479.6" y1="183.1" x2="563.2" y2="178.6" stroke="#666" stroke-width="0.8" />
<line x1="563.2" y1="178.6" x2="646.3" y2="182.9" stroke="#666" stroke-width="0.8" />
<line x1="562.8" y1="275.9" x2="563.2" y2="178.6" stroke="#b0b0b0" stroke-width="1.6" />
<line x1="643.2" y1="295.6" x2="646.3" y2="182.9" stroke="#666" stroke-width="0.8" />
<line x1="482.5" y1="295.3" x2="562.8" y2="275.9" stroke="#666" stroke-width="0.8" />
<line x1="562.8" y1="275.9" x2="643.2" y2="295.6" stroke="#666" stroke-width="0.8" />
<line x1="482.5" y1="295.3" x2="562.2" y2="321.5" stroke="#222" stroke-width="1.2" />
<line x1="562.2" y1="321.5" x2="643.2" y2="295.6" stroke="#222" stroke-width="1.2" />
<line x1="479.6" y1="183.1" x2="482.5" y2="295.3" stroke="#333" stroke-width="1.0" />
<line x1="480" y1="295.3" x2="482.5" y2="295.3" stroke="#333" stroke-width="0.9" />
<line x1="480.53" y1="277.23" x2="482.03" y2="277.23" stroke="#333" stroke-width="0.9" />
<line x1="479.06" y1="258.92" x2="481.56" y2="258.92" stroke="#333" stroke-width="0.9" />
<line x1="479.58" y1="240.35" x2="481.08" y2="240.35" stroke="#333" stroke-width="0.9" />
<line x1="478.09" y1="221.53" x2="480.59" y2="221.53" stroke="#333" stroke-width="0.9" />
<line x1="478.6" y1="202.45" x2="480.1" y2="202.45" stroke="#333" stroke-width="0.9" />
<line x1="477.1" y1="183.1" x2="479.6" y2="183.1" stroke="#333" stroke-width="0.9" />
<text x="479.5" y="296.3" font-size="8.25" text-anchor="end" fill="#3d3333" font-weight="normal" stroke="#3d3333" stroke-width="0.18" >0.0</text>
<text x="478.56" y="262.32" font-size="8.25" text-anchor="end" fill="#3d3333" font-weight="normal" stroke="#3d3333" stroke-width="0.18" >0.5</text>
<text x="477.59" y="225.13" font-size="8.25" text-anchor="end" fill="#3d3333" font-weight="normal" stroke="#3d3333" stroke-width="0.18" >1.0</text>
<text x="476.6" y="188.1" font-size="8.25" text-anchor="end" fill="#3d3333" font-weight="normal" stroke="#3d3333" stroke-width="0.18" >1.5</text>
<text transform="translate(462.3,242.9) rotate(-90)" font-size="8.25" text-anchor="middle" fill="#3d3333" stroke="#3d3333" stroke-width="0.18">EF (10<tspan font-size="5" dy="-3">4</tspan><tspan dy="3"> arb. u.)</tspan></text>
<text x="483.6" y="303.3" font-size="8.25" text-anchor="end" fill="#3d3333" font-weight="normal" stroke="#3d3333" stroke-width="0.18" >W-TNT-300</text>
<text x="504.2" y="310.6" font-size="8.25" text-anchor="end" fill="#3d3333" font-weight="normal" stroke="#3d3333" stroke-width="0.18" >W-TNT-400</text>
<text x="525.6" y="317.9" font-size="8.25" text-anchor="end" fill="#3d3333" font-weight="normal" stroke="#3d3333" stroke-width="0.18" >W-TNT-600</text>
<text x="542.8" y="325.7" font-size="8.25" text-anchor="end" fill="#3d3333" font-weight="normal" stroke="#3d3333" stroke-width="0.18" >W-TNT-800</text>
<text x="555.2" y="333" font-size="8.25" text-anchor="end" fill="#3d3333" font-weight="normal" stroke="#3d3333" stroke-width="0.18" >W-TNT-1000</text>
<text x="641" y="303" font-size="8.25" text-anchor="start" fill="#3d3333" font-weight="normal" stroke="#3d3333" stroke-width="0.18" >W-TNT-600</text>
<text x="624" y="310.6" font-size="8.25" text-anchor="start" fill="#3d3333" font-weight="normal" stroke="#3d3333" stroke-width="0.18" >74%W-TNT-600</text>
<text x="602.8" y="317.9" font-size="8.25" text-anchor="start" fill="#3d3333" font-weight="normal" stroke="#3d3333" stroke-width="0.18" >54%W-TNT-600</text>
<text x="584.2" y="325.4" font-size="8.25" text-anchor="start" fill="#3d3333" font-weight="normal" stroke="#3d3333" stroke-width="0.18" >39%W-TNT-600</text>
<text x="570" y="332.6" font-size="8.25" text-anchor="start" fill="#3d3333" font-weight="normal" stroke="#3d3333" stroke-width="0.18" >19%W-TNT-600</text>
<line x1="540.1" y1="278" x2="497.4" y2="267.3" stroke="#222" stroke-width="0.9" stroke-dasharray="2.2,1.8"/>
<line x1="555" y1="254.9" x2="511.6" y2="246.2" stroke="#222" stroke-width="0.9" stroke-dasharray="2.2,1.8"/>
<line x1="568.9" y1="204.3" x2="524.7" y2="199.8" stroke="#222" stroke-width="0.9" stroke-dasharray="2.2,1.8"/>
<line x1="582.3" y1="228.3" x2="538.3" y2="222.1" stroke="#222" stroke-width="0.9" stroke-dasharray="2.2,1.8"/>
<line x1="594.7" y1="241.5" x2="551.3" y2="234.6" stroke="#222" stroke-width="0.9" stroke-dasharray="2.2,1.8"/>
<line x1="571.8" y1="266.3" x2="583.8" y2="263.6" stroke="#e85050" stroke-width="0.9" stroke-dasharray="2.2,1.8"/>
<line x1="583" y1="255.6" x2="594.7" y2="253.7" stroke="#e85050" stroke-width="0.9" stroke-dasharray="2.2,1.8"/>
<line x1="594.7" y1="241.5" x2="606.6" y2="239.5" stroke="#e85050" stroke-width="0.9" stroke-dasharray="2.2,1.8"/>
<line x1="606.6" y1="263.8" x2="618.3" y2="261.8" stroke="#e85050" stroke-width="0.9" stroke-dasharray="2.2,1.8"/>
<line x1="619" y1="278.7" x2="630.7" y2="276.2" stroke="#e85050" stroke-width="0.9" stroke-dasharray="2.2,1.8"/>
<polyline points="540.1,278.0 555.0,254.9 568.9,204.3 582.3,228.3 594.7,241.5" fill="none" stroke="#1a1a1a" stroke-width="1.0"/>
<polyline points="571.8,266.3 583.0,255.6 594.7,241.5 606.6,263.8 619.0,278.7" fill="none" stroke="#e03a3a" stroke-width="0.9"/>
<circle cx="497.4" cy="267.3" r="1.5" fill="#1a1a1a"/>
<circle cx="511.6" cy="246.2" r="1.5" fill="#1a1a1a"/>
<circle cx="524.7" cy="199.8" r="1.5" fill="#1a1a1a"/>
<circle cx="538.3" cy="222.1" r="1.5" fill="#1a1a1a"/>
<circle cx="551.3" cy="234.6" r="1.5" fill="#1a1a1a"/>
<rect x="538.1" y="276.0" width="4" height="4" fill="#111"/>
<rect x="553.0" y="252.9" width="4" height="4" fill="#111"/>
<rect x="566.9" y="202.3" width="4" height="4" fill="#111"/>
<rect x="580.3" y="226.3" width="4" height="4" fill="#111"/>
<rect x="592.7" y="239.5" width="4" height="4" fill="#111"/>
<circle cx="583.8" cy="263.6" r="1.5" fill="#e05a5a"/>
<circle cx="594.7" cy="253.7" r="1.5" fill="#e05a5a"/>
<circle cx="606.6" cy="239.5" r="1.5" fill="#e05a5a"/>
<circle cx="618.3" cy="261.8" r="1.5" fill="#e05a5a"/>
<circle cx="630.7" cy="276.2" r="1.5" fill="#e05a5a"/>
<circle cx="571.8" cy="266.3" r="2.2" fill="#d42828"/>
<circle cx="583.0" cy="255.6" r="2.2" fill="#d42828"/>
<circle cx="594.7" cy="241.5" r="2.2" fill="#d42828"/>
<circle cx="606.6" cy="263.8" r="2.2" fill="#d42828"/>
<circle cx="619.0" cy="278.7" r="2.2" fill="#d42828"/>
<text x="449.7" y="191.8" font-size="24.5" text-anchor="start" fill="#231815" font-weight="bold" >f</text>
</svg>
</div></body></html>
